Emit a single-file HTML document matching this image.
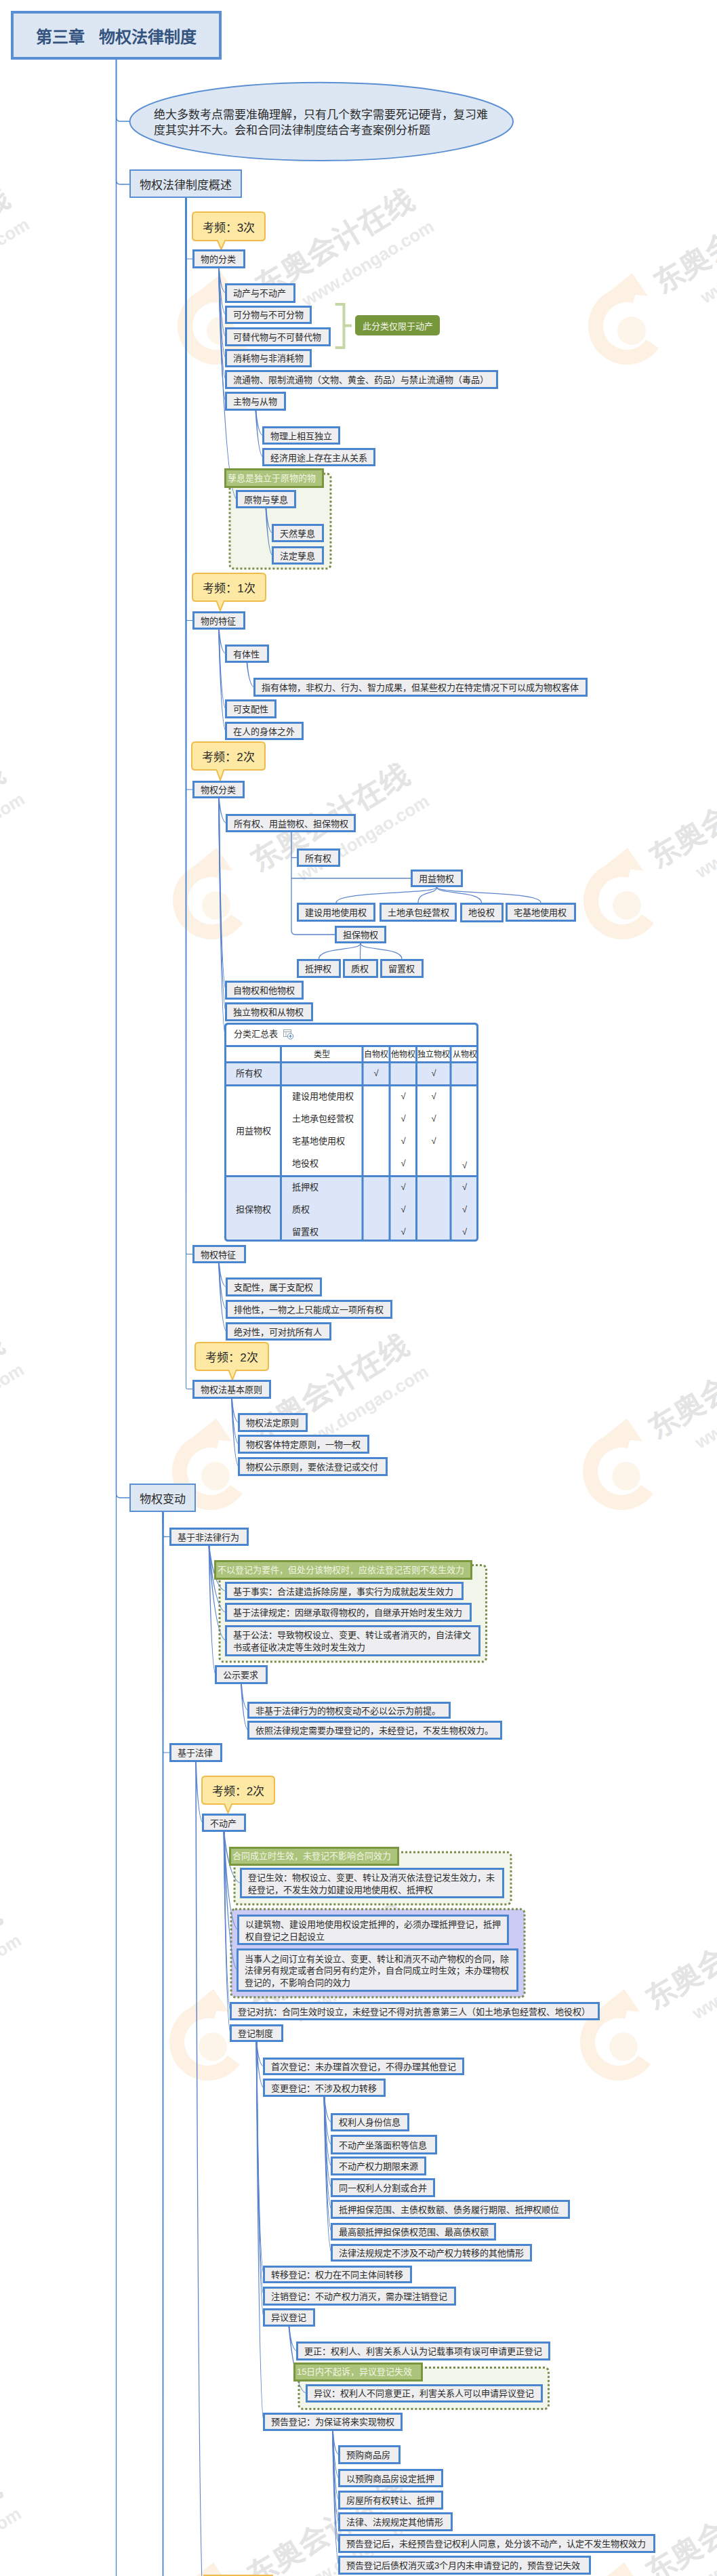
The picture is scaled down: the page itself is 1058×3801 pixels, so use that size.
<!DOCTYPE html>
<html lang="zh-CN"><head><meta charset="utf-8">
<style>
html,body{margin:0;padding:0;background:#fff;}
body{width:1058px;height:3801px;position:relative;overflow:hidden;font-family:"Liberation Sans",sans-serif;color:#2b2b2b;}
svg{position:absolute;left:0;top:0;}
.n,.l1,.title,.co,.gl,.sum{position:absolute;box-sizing:border-box;display:flex;align-items:center;white-space:nowrap;}
.n{border:3px solid #4a86d0;background:#eeeef0;font-size:13px;padding-left:9px;padding-top:2px;line-height:17.6px;}
.ml{align-items:center;}
.l1{border:2px solid #5b8fd3;background:#dde7f3;font-size:17px;padding-left:13px;}
.title{border:4px solid #5b8fd3;background:#dde7f3;font-size:24px;font-weight:bold;color:#34537e;justify-content:center;}
.co{font-size:17px;justify-content:center;}
.gl{border:3px solid #7a963e;background:#abc37a;color:#f2f6e6;font-size:13px;padding-left:2px;padding-bottom:3px;}
.sum{background:#77973d;color:#f3f7ea;font-size:13px;border-radius:5px;justify-content:center;}
.ell{position:absolute;font-size:17px;line-height:23px;white-space:nowrap;color:#2a2a2a;}
.tt{position:absolute;font-size:13px;line-height:17px;white-space:nowrap;}
.tc{position:absolute;font-size:13px;line-height:17px;text-align:center;white-space:nowrap;}
</style></head><body>
<svg width="1058" height="3801" viewBox="0 0 1058 3801" style="font-family:'Liberation Sans',sans-serif"><g transform="translate(-271,485)"><path d="M-33.8,-57.3 L1,-85 L24.0,-51.2 Z" fill="#fdf1e3"/><path d="M30.7,19.4 A46,46 0 1 1 4.9,-51.4" fill="none" stroke="#fdf1e3" stroke-width="22"/><circle cx="0" cy="0" r="21" fill="#fef5ea"/></g><g transform="translate(-209,440) rotate(-31)"><text x="2" y="-2" font-size="44" font-weight="bold" fill="#e4e4e4">东奥会计在线</text><text x="50" y="42" font-size="26" fill="#e9e9e9" font-family="Liberation Sans" font-weight="bold">www.dongao.com</text></g><g transform="translate(326,488)"><path d="M-33.8,-57.3 L1,-85 L24.0,-51.2 Z" fill="#fdf1e3"/><path d="M30.7,19.4 A46,46 0 1 1 4.9,-51.4" fill="none" stroke="#fdf1e3" stroke-width="22"/><circle cx="0" cy="0" r="21" fill="#fef5ea"/></g><g transform="translate(388,443) rotate(-31)"><text x="2" y="-2" font-size="44" font-weight="bold" fill="#e4e4e4">东奥会计在线</text><text x="50" y="42" font-size="26" fill="#e9e9e9" font-family="Liberation Sans" font-weight="bold">www.dongao.com</text></g><g transform="translate(932,488)"><path d="M-33.8,-57.3 L1,-85 L24.0,-51.2 Z" fill="#fdf1e3"/><path d="M30.7,19.4 A46,46 0 1 1 4.9,-51.4" fill="none" stroke="#fdf1e3" stroke-width="22"/><circle cx="0" cy="0" r="21" fill="#fef5ea"/></g><g transform="translate(976,438) rotate(-31)"><text x="2" y="-2" font-size="44" font-weight="bold" fill="#e4e4e4">东奥会计在线</text><text x="50" y="42" font-size="26" fill="#e9e9e9" font-family="Liberation Sans" font-weight="bold">www.dongao.com</text></g><g transform="translate(-278,1333)"><path d="M-33.8,-57.3 L1,-85 L24.0,-51.2 Z" fill="#fdf1e3"/><path d="M30.7,19.4 A46,46 0 1 1 4.9,-51.4" fill="none" stroke="#fdf1e3" stroke-width="22"/><circle cx="0" cy="0" r="21" fill="#fef5ea"/></g><g transform="translate(-216,1288) rotate(-31)"><text x="2" y="-2" font-size="44" font-weight="bold" fill="#e4e4e4">东奥会计在线</text><text x="50" y="42" font-size="26" fill="#e9e9e9" font-family="Liberation Sans" font-weight="bold">www.dongao.com</text></g><g transform="translate(319,1336)"><path d="M-33.8,-57.3 L1,-85 L24.0,-51.2 Z" fill="#fdf1e3"/><path d="M30.7,19.4 A46,46 0 1 1 4.9,-51.4" fill="none" stroke="#fdf1e3" stroke-width="22"/><circle cx="0" cy="0" r="21" fill="#fef5ea"/></g><g transform="translate(381,1291) rotate(-31)"><text x="2" y="-2" font-size="44" font-weight="bold" fill="#e4e4e4">东奥会计在线</text><text x="50" y="42" font-size="26" fill="#e9e9e9" font-family="Liberation Sans" font-weight="bold">www.dongao.com</text></g><g transform="translate(925,1336)"><path d="M-33.8,-57.3 L1,-85 L24.0,-51.2 Z" fill="#fdf1e3"/><path d="M30.7,19.4 A46,46 0 1 1 4.9,-51.4" fill="none" stroke="#fdf1e3" stroke-width="22"/><circle cx="0" cy="0" r="21" fill="#fef5ea"/></g><g transform="translate(969,1286) rotate(-31)"><text x="2" y="-2" font-size="44" font-weight="bold" fill="#e4e4e4">东奥会计在线</text><text x="50" y="42" font-size="26" fill="#e9e9e9" font-family="Liberation Sans" font-weight="bold">www.dongao.com</text></g><g transform="translate(-279,2175)"><path d="M-33.8,-57.3 L1,-85 L24.0,-51.2 Z" fill="#fdf1e3"/><path d="M30.7,19.4 A46,46 0 1 1 4.9,-51.4" fill="none" stroke="#fdf1e3" stroke-width="22"/><circle cx="0" cy="0" r="21" fill="#fef5ea"/></g><g transform="translate(-217,2130) rotate(-31)"><text x="2" y="-2" font-size="44" font-weight="bold" fill="#e4e4e4">东奥会计在线</text><text x="50" y="42" font-size="26" fill="#e9e9e9" font-family="Liberation Sans" font-weight="bold">www.dongao.com</text></g><g transform="translate(318,2178)"><path d="M-33.8,-57.3 L1,-85 L24.0,-51.2 Z" fill="#fdf1e3"/><path d="M30.7,19.4 A46,46 0 1 1 4.9,-51.4" fill="none" stroke="#fdf1e3" stroke-width="22"/><circle cx="0" cy="0" r="21" fill="#fef5ea"/></g><g transform="translate(380,2133) rotate(-31)"><text x="2" y="-2" font-size="44" font-weight="bold" fill="#e4e4e4">东奥会计在线</text><text x="50" y="42" font-size="26" fill="#e9e9e9" font-family="Liberation Sans" font-weight="bold">www.dongao.com</text></g><g transform="translate(924,2178)"><path d="M-33.8,-57.3 L1,-85 L24.0,-51.2 Z" fill="#fdf1e3"/><path d="M30.7,19.4 A46,46 0 1 1 4.9,-51.4" fill="none" stroke="#fdf1e3" stroke-width="22"/><circle cx="0" cy="0" r="21" fill="#fef5ea"/></g><g transform="translate(968,2128) rotate(-31)"><text x="2" y="-2" font-size="44" font-weight="bold" fill="#e4e4e4">东奥会计在线</text><text x="50" y="42" font-size="26" fill="#e9e9e9" font-family="Liberation Sans" font-weight="bold">www.dongao.com</text></g><g transform="translate(-283,3017)"><path d="M-33.8,-57.3 L1,-85 L24.0,-51.2 Z" fill="#fdf1e3"/><path d="M30.7,19.4 A46,46 0 1 1 4.9,-51.4" fill="none" stroke="#fdf1e3" stroke-width="22"/><circle cx="0" cy="0" r="21" fill="#fef5ea"/></g><g transform="translate(-221,2972) rotate(-31)"><text x="2" y="-2" font-size="44" font-weight="bold" fill="#e4e4e4">东奥会计在线</text><text x="50" y="42" font-size="26" fill="#e9e9e9" font-family="Liberation Sans" font-weight="bold">www.dongao.com</text></g><g transform="translate(314,3020)"><path d="M-33.8,-57.3 L1,-85 L24.0,-51.2 Z" fill="#fdf1e3"/><path d="M30.7,19.4 A46,46 0 1 1 4.9,-51.4" fill="none" stroke="#fdf1e3" stroke-width="22"/><circle cx="0" cy="0" r="21" fill="#fef5ea"/></g><g transform="translate(376,2975) rotate(-31)"><text x="2" y="-2" font-size="44" font-weight="bold" fill="#e4e4e4">东奥会计在线</text><text x="50" y="42" font-size="26" fill="#e9e9e9" font-family="Liberation Sans" font-weight="bold">www.dongao.com</text></g><g transform="translate(920,3020)"><path d="M-33.8,-57.3 L1,-85 L24.0,-51.2 Z" fill="#fdf1e3"/><path d="M30.7,19.4 A46,46 0 1 1 4.9,-51.4" fill="none" stroke="#fdf1e3" stroke-width="22"/><circle cx="0" cy="0" r="21" fill="#fef5ea"/></g><g transform="translate(964,2970) rotate(-31)"><text x="2" y="-2" font-size="44" font-weight="bold" fill="#e4e4e4">东奥会计在线</text><text x="50" y="42" font-size="26" fill="#e9e9e9" font-family="Liberation Sans" font-weight="bold">www.dongao.com</text></g><g transform="translate(-283,3863)"><path d="M-33.8,-57.3 L1,-85 L24.0,-51.2 Z" fill="#fdf1e3"/><path d="M30.7,19.4 A46,46 0 1 1 4.9,-51.4" fill="none" stroke="#fdf1e3" stroke-width="22"/><circle cx="0" cy="0" r="21" fill="#fef5ea"/></g><g transform="translate(-221,3818) rotate(-31)"><text x="2" y="-2" font-size="44" font-weight="bold" fill="#e4e4e4">东奥会计在线</text><text x="50" y="42" font-size="26" fill="#e9e9e9" font-family="Liberation Sans" font-weight="bold">www.dongao.com</text></g><g transform="translate(314,3866)"><path d="M-33.8,-57.3 L1,-85 L24.0,-51.2 Z" fill="#fdf1e3"/><path d="M30.7,19.4 A46,46 0 1 1 4.9,-51.4" fill="none" stroke="#fdf1e3" stroke-width="22"/><circle cx="0" cy="0" r="21" fill="#fef5ea"/></g><g transform="translate(376,3821) rotate(-31)"><text x="2" y="-2" font-size="44" font-weight="bold" fill="#e4e4e4">东奥会计在线</text><text x="50" y="42" font-size="26" fill="#e9e9e9" font-family="Liberation Sans" font-weight="bold">www.dongao.com</text></g><g transform="translate(920,3866)"><path d="M-33.8,-57.3 L1,-85 L24.0,-51.2 Z" fill="#fdf1e3"/><path d="M30.7,19.4 A46,46 0 1 1 4.9,-51.4" fill="none" stroke="#fdf1e3" stroke-width="22"/><circle cx="0" cy="0" r="21" fill="#fef5ea"/></g><g transform="translate(964,3816) rotate(-31)"><text x="2" y="-2" font-size="44" font-weight="bold" fill="#e4e4e4">东奥会计在线</text><text x="50" y="42" font-size="26" fill="#e9e9e9" font-family="Liberation Sans" font-weight="bold">www.dongao.com</text></g></svg>
<svg width="1058" height="3801" viewBox="0 0 1058 3801"><ellipse cx="474.3" cy="179.4" rx="282.7" ry="57.6" fill="#dde7f3" stroke="#5b8fd3" stroke-width="2"/><rect x="339" y="699" width="149" height="140" rx="6" ry="6" fill="#f1f5ea" stroke="#7a8c4a" stroke-width="3" stroke-dasharray="3 3"/><rect x="324" y="2309.5" width="393.5" height="142.5" rx="6" ry="6" fill="#f1f5ea" stroke="#7a8c4a" stroke-width="3" stroke-dasharray="3 3"/><rect x="346" y="2733" width="408" height="77" rx="6" ry="6" fill="#f1f5ea" stroke="#7a8c4a" stroke-width="3" stroke-dasharray="3 3"/><rect x="341" y="2817" width="433" height="130" rx="6" ry="6" fill="#cbcbf6" stroke="#7a8c4a" stroke-width="3" stroke-dasharray="3 3"/><rect x="441" y="3493.5" width="368.5" height="61.0" rx="6" ry="6" fill="#f1f5ea" stroke="#7a8c4a" stroke-width="3" stroke-dasharray="3 3"/><path d="M171.5,88 V3801" fill="none" stroke="#4a86d0" stroke-width="1.3"/><path d="M171.5,88 V173 Q171.5,179 177.5,179 H192" fill="none" stroke="#4a86d0" stroke-width="1.3"/><path d="M171.5,88 V266 Q171.5,272 177.5,272 H192" fill="none" stroke="#4a86d0" stroke-width="1.3"/><path d="M171.5,88 V2204 Q171.5,2210 177.5,2210 H192" fill="none" stroke="#4a86d0" stroke-width="1.3"/><path d="M273.30,292.00 L273.33,296.40 L273.36,300.80 L273.39,305.20 L273.42,309.60 L273.45,314.00 L273.49,318.40 L273.52,322.80 L273.55,327.20 L273.58,331.60 L273.61,336.00 L273.64,340.40 L273.67,344.80 L273.70,349.20 L273.73,353.60 L273.76,358.00 L273.79,362.40 L273.83,366.80 L273.86,371.20 L273.89,375.60 L273.92,380.01 L274.01,380.68 L274.28,381.30 L274.68,381.82 L275.21,382.22 L275.82,382.47 L276.50,382.56 L285.00,382.50 L285.00,381.50 L276.50,381.44 L276.12,381.38 L275.78,381.24 L275.49,381.01 L275.27,380.72 L275.13,380.38 L275.08,379.99 L275.11,375.60 L275.14,371.20 L275.17,366.80 L275.21,362.40 L275.24,358.00 L275.27,353.60 L275.30,349.20 L275.33,344.80 L275.36,340.40 L275.39,336.00 L275.42,331.60 L275.45,327.20 L275.48,322.80 L275.51,318.40 L275.55,314.00 L275.58,309.60 L275.61,305.20 L275.64,300.80 L275.67,296.40 L275.70,292.00Z" fill="#4a86d0"/><path d="M322.05,396.07 L322.06,396.10 L322.06,396.18 L322.08,396.32 L322.09,396.51 L322.12,396.76 L322.15,397.04 L322.18,397.38 L322.22,397.76 L322.26,398.18 L322.31,398.64 L322.37,399.15 L322.43,399.68 L322.50,400.26 L322.57,400.86 L322.65,401.50 L322.73,402.17 L322.82,402.86 L322.92,403.59 L323.02,404.33 L323.12,405.10 L323.24,405.88 L323.35,406.69 L323.48,407.51 L323.61,408.35 L323.75,409.19 L323.89,410.05 L324.04,410.92 L324.19,411.80 L324.35,412.68 L324.52,413.56 L324.70,414.45 L324.88,415.33 L325.06,416.22 L325.26,417.10 L325.46,417.97 L325.66,418.84 L325.87,419.70 L326.09,420.54 L326.32,421.37 L326.55,422.19 L326.79,422.99 L327.04,423.77 L327.30,424.53 L327.56,425.27 L327.83,425.99 L328.10,426.68 L328.38,427.34 L328.68,427.97 L328.97,428.57 L329.28,429.14 L329.60,429.67 L329.92,430.17 L330.26,430.63 L330.60,431.05 L330.96,431.42 L331.32,431.76 L331.70,432.04 L332.09,432.28 L332.50,432.46 L332.89,432.58 L333.11,431.92 L332.76,431.80 L332.44,431.64 L332.12,431.44 L331.81,431.19 L331.50,430.89 L331.19,430.54 L330.89,430.15 L330.60,429.72 L330.31,429.24 L330.03,428.73 L329.75,428.18 L329.48,427.60 L329.22,426.98 L328.97,426.33 L328.72,425.66 L328.48,424.95 L328.25,424.22 L328.02,423.47 L327.81,422.70 L327.59,421.90 L327.39,421.09 L327.19,420.27 L327.00,419.43 L326.82,418.58 L326.64,417.71 L326.47,416.85 L326.31,415.97 L326.15,415.09 L326.00,414.21 L325.85,413.33 L325.72,412.45 L325.58,411.57 L325.46,410.70 L325.34,409.83 L325.22,408.98 L325.11,408.13 L325.01,407.30 L324.91,406.48 L324.82,405.68 L324.73,404.89 L324.65,404.13 L324.57,403.39 L324.50,402.67 L324.43,401.98 L324.37,401.32 L324.31,400.68 L324.26,400.08 L324.21,399.51 L324.17,398.97 L324.13,398.47 L324.09,398.01 L324.06,397.60 L324.03,397.22 L324.01,396.89 L323.99,396.60 L323.97,396.36 L323.96,396.18 L323.95,396.04 L323.95,395.96 L323.95,395.93Z" fill="#5a84cc"/><path d="M322.05,396.04 L322.05,396.09 L322.06,396.25 L322.07,396.51 L322.09,396.87 L322.12,397.32 L322.14,397.86 L322.18,398.49 L322.22,399.20 L322.26,399.99 L322.31,400.86 L322.37,401.81 L322.43,402.82 L322.50,403.89 L322.57,405.03 L322.65,406.23 L322.73,407.49 L322.82,408.79 L322.92,410.15 L323.02,411.55 L323.12,412.99 L323.24,414.47 L323.36,415.98 L323.48,417.53 L323.61,419.10 L323.75,420.69 L323.89,422.31 L324.04,423.94 L324.19,425.59 L324.36,427.25 L324.52,428.91 L324.70,430.57 L324.88,432.24 L325.06,433.90 L325.26,435.55 L325.46,437.19 L325.66,438.82 L325.88,440.43 L326.10,442.02 L326.32,443.58 L326.55,445.12 L326.79,446.62 L327.04,448.08 L327.29,449.51 L327.55,450.90 L327.82,452.24 L328.09,453.53 L328.37,454.76 L328.66,455.94 L328.96,457.07 L329.26,458.12 L329.57,459.12 L329.89,460.04 L330.22,460.89 L330.55,461.67 L330.90,462.36 L331.25,462.98 L331.62,463.51 L332.01,463.96 L332.42,464.31 L332.82,464.55 L333.18,463.95 L332.84,463.74 L332.52,463.46 L332.20,463.07 L331.88,462.59 L331.56,462.02 L331.24,461.35 L330.94,460.60 L330.63,459.78 L330.34,458.87 L330.05,457.89 L329.77,456.85 L329.50,455.74 L329.23,454.57 L328.98,453.34 L328.73,452.06 L328.49,450.72 L328.25,449.34 L328.03,447.92 L327.81,446.46 L327.59,444.96 L327.39,443.43 L327.19,441.87 L327.00,440.29 L326.82,438.68 L326.64,437.06 L326.47,435.42 L326.30,433.77 L326.15,432.11 L326.00,430.45 L325.85,428.78 L325.71,427.12 L325.58,425.47 L325.45,423.82 L325.33,422.19 L325.22,420.58 L325.11,418.98 L325.01,417.41 L324.91,415.87 L324.82,414.36 L324.73,412.88 L324.65,411.44 L324.57,410.05 L324.50,408.69 L324.43,407.39 L324.37,406.13 L324.31,404.94 L324.26,403.80 L324.21,402.72 L324.17,401.71 L324.13,400.77 L324.09,399.91 L324.06,399.12 L324.03,398.40 L324.01,397.78 L323.99,397.24 L323.98,396.79 L323.96,396.43 L323.96,396.17 L323.95,396.02 L323.95,395.96Z" fill="#5a84cc"/><path d="M322.05,396.03 L322.05,396.10 L322.06,396.34 L322.07,396.72 L322.09,397.25 L322.12,397.91 L322.14,398.71 L322.18,399.64 L322.22,400.69 L322.26,401.86 L322.31,403.14 L322.37,404.53 L322.43,406.03 L322.50,407.62 L322.57,409.30 L322.65,411.07 L322.73,412.92 L322.82,414.85 L322.92,416.85 L323.02,418.91 L323.12,421.04 L323.24,423.22 L323.36,425.45 L323.48,427.73 L323.61,430.05 L323.75,432.41 L323.89,434.79 L324.04,437.20 L324.20,439.63 L324.36,442.07 L324.52,444.53 L324.70,446.99 L324.88,449.44 L325.07,451.89 L325.26,454.33 L325.46,456.76 L325.66,459.16 L325.88,461.53 L326.10,463.87 L326.32,466.18 L326.55,468.44 L326.79,470.66 L327.04,472.82 L327.29,474.93 L327.55,476.97 L327.82,478.94 L328.09,480.84 L328.37,482.67 L328.66,484.41 L328.95,486.06 L329.25,487.62 L329.56,489.08 L329.88,490.43 L330.20,491.68 L330.54,492.82 L330.88,493.83 L331.23,494.73 L331.59,495.50 L331.97,496.15 L332.37,496.66 L332.77,497.01 L333.23,496.49 L332.89,496.18 L332.56,495.75 L332.23,495.17 L331.90,494.45 L331.58,493.59 L331.26,492.59 L330.95,491.48 L330.64,490.25 L330.34,488.91 L330.06,487.46 L329.78,485.91 L329.50,484.27 L329.24,482.53 L328.98,480.72 L328.73,478.82 L328.49,476.85 L328.25,474.81 L328.03,472.71 L327.81,470.55 L327.59,468.34 L327.39,466.08 L327.19,463.78 L327.00,461.44 L326.82,459.06 L326.64,456.66 L326.47,454.24 L326.30,451.80 L326.15,449.36 L325.99,446.90 L325.85,444.44 L325.71,441.99 L325.58,439.55 L325.45,437.12 L325.33,434.71 L325.22,432.33 L325.11,429.97 L325.00,427.66 L324.91,425.38 L324.81,423.15 L324.73,420.96 L324.65,418.84 L324.57,416.77 L324.50,414.78 L324.43,412.85 L324.37,411.00 L324.31,409.23 L324.26,407.55 L324.21,405.96 L324.17,404.47 L324.13,403.08 L324.09,401.80 L324.06,400.63 L324.03,399.58 L324.01,398.66 L323.99,397.86 L323.98,397.19 L323.96,396.67 L323.96,396.29 L323.95,396.05 L323.95,395.97Z" fill="#5a84cc"/><path d="M322.05,396.02 L322.05,396.12 L322.06,396.43 L322.07,396.93 L322.09,397.62 L322.11,398.50 L322.14,399.55 L322.18,400.76 L322.22,402.14 L322.26,403.68 L322.31,405.36 L322.37,407.18 L322.43,409.14 L322.50,411.23 L322.57,413.44 L322.65,415.76 L322.73,418.19 L322.82,420.72 L322.92,423.34 L323.02,426.05 L323.12,428.85 L323.24,431.71 L323.36,434.64 L323.48,437.63 L323.61,440.68 L323.75,443.77 L323.89,446.90 L324.04,450.06 L324.20,453.25 L324.36,456.46 L324.53,459.68 L324.70,462.90 L324.88,466.13 L325.07,469.34 L325.26,472.55 L325.46,475.73 L325.66,478.88 L325.88,481.99 L326.10,485.07 L326.32,488.09 L326.55,491.06 L326.79,493.97 L327.04,496.81 L327.29,499.57 L327.55,502.25 L327.82,504.84 L328.09,507.34 L328.37,509.73 L328.66,512.01 L328.95,514.18 L329.25,516.22 L329.56,518.13 L329.88,519.91 L330.20,521.54 L330.53,523.03 L330.87,524.36 L331.22,525.52 L331.58,526.53 L331.95,527.36 L332.34,528.02 L332.74,528.48 L333.26,528.02 L332.92,527.62 L332.58,527.04 L332.25,526.26 L331.91,525.30 L331.58,524.16 L331.26,522.85 L330.95,521.39 L330.64,519.77 L330.35,518.00 L330.06,516.10 L329.78,514.06 L329.50,511.90 L329.24,509.63 L328.98,507.24 L328.73,504.75 L328.49,502.16 L328.25,499.49 L328.03,496.73 L327.81,493.89 L327.59,490.98 L327.39,488.02 L327.19,484.99 L327.00,481.92 L326.82,478.81 L326.64,475.66 L326.47,472.48 L326.30,469.28 L326.15,466.06 L325.99,462.84 L325.85,459.61 L325.71,456.39 L325.58,453.19 L325.45,450.00 L325.33,446.84 L325.22,443.71 L325.11,440.62 L325.00,437.57 L324.91,434.58 L324.81,431.65 L324.73,428.79 L324.65,426.00 L324.57,423.29 L324.50,420.67 L324.43,418.14 L324.37,415.71 L324.31,413.39 L324.26,411.18 L324.21,409.09 L324.17,407.14 L324.13,405.31 L324.09,403.63 L324.06,402.10 L324.03,400.72 L324.01,399.50 L323.99,398.45 L323.98,397.58 L323.96,396.89 L323.96,396.39 L323.95,396.08 L323.95,395.98Z" fill="#5a84cc"/><path d="M322.05,396.02 L322.05,396.14 L322.06,396.52 L322.07,397.15 L322.09,398.00 L322.11,399.09 L322.14,400.39 L322.18,401.90 L322.22,403.61 L322.26,405.51 L322.31,407.60 L322.37,409.86 L322.43,412.29 L322.50,414.88 L322.57,417.61 L322.65,420.49 L322.73,423.50 L322.82,426.64 L322.92,429.90 L323.02,433.26 L323.12,436.72 L323.24,440.27 L323.36,443.91 L323.48,447.61 L323.61,451.39 L323.75,455.22 L323.89,459.10 L324.04,463.03 L324.20,466.98 L324.36,470.96 L324.53,474.95 L324.70,478.95 L324.88,482.95 L325.07,486.94 L325.26,490.91 L325.46,494.85 L325.67,498.76 L325.88,502.62 L326.10,506.43 L326.32,510.19 L326.55,513.87 L326.79,517.47 L327.04,520.99 L327.29,524.42 L327.55,527.74 L327.82,530.95 L328.09,534.05 L328.37,537.01 L328.66,539.84 L328.95,542.52 L329.25,545.05 L329.56,547.42 L329.88,549.62 L330.20,551.65 L330.53,553.48 L330.87,555.13 L331.21,556.57 L331.57,557.81 L331.94,558.83 L332.32,559.64 L332.71,560.20 L333.29,559.80 L332.94,559.30 L332.60,558.57 L332.25,557.59 L331.92,556.39 L331.59,554.97 L331.27,553.35 L330.95,551.52 L330.65,549.51 L330.35,547.32 L330.06,544.96 L329.78,542.43 L329.50,539.75 L329.24,536.93 L328.98,533.97 L328.73,530.88 L328.49,527.67 L328.25,524.35 L328.03,520.93 L327.81,517.41 L327.59,513.81 L327.39,510.12 L327.19,506.37 L327.00,502.56 L326.81,498.70 L326.64,494.79 L326.47,490.85 L326.30,486.88 L326.15,482.90 L325.99,478.90 L325.85,474.90 L325.71,470.91 L325.58,466.93 L325.45,462.98 L325.33,459.06 L325.22,455.17 L325.11,451.34 L325.00,447.57 L324.91,443.86 L324.81,440.23 L324.73,436.67 L324.65,433.21 L324.57,429.85 L324.50,426.60 L324.43,423.46 L324.37,420.45 L324.31,417.57 L324.26,414.84 L324.21,412.25 L324.17,409.82 L324.13,407.56 L324.09,405.47 L324.06,403.57 L324.03,401.86 L324.01,400.35 L323.99,399.05 L323.98,397.97 L323.96,397.11 L323.96,396.49 L323.95,396.11 L323.95,395.98Z" fill="#5a84cc"/><path d="M322.05,396.01 L322.05,396.17 L322.06,396.62 L322.07,397.36 L322.09,398.39 L322.11,399.68 L322.14,401.24 L322.18,403.04 L322.22,405.09 L322.26,407.36 L322.31,409.85 L322.37,412.56 L322.43,415.46 L322.50,418.55 L322.57,421.82 L322.65,425.26 L322.73,428.86 L322.82,432.61 L322.92,436.50 L323.02,440.52 L323.12,444.66 L323.24,448.90 L323.36,453.24 L323.48,457.68 L323.61,462.19 L323.75,466.77 L323.89,471.41 L324.04,476.10 L324.20,480.82 L324.36,485.57 L324.53,490.35 L324.70,495.13 L324.88,499.91 L325.07,504.67 L325.26,509.42 L325.46,514.13 L325.67,518.80 L325.88,523.42 L326.10,527.97 L326.32,532.46 L326.55,536.86 L326.79,541.16 L327.04,545.37 L327.29,549.46 L327.55,553.43 L327.82,557.27 L328.09,560.97 L328.37,564.51 L328.66,567.89 L328.95,571.10 L329.25,574.12 L329.56,576.95 L329.87,579.58 L330.20,582.00 L330.53,584.19 L330.86,586.15 L331.21,587.87 L331.57,589.34 L331.93,590.56 L332.31,591.51 L332.70,592.18 L333.30,591.82 L332.95,591.21 L332.60,590.33 L332.26,589.16 L331.92,587.72 L331.59,586.02 L331.27,584.07 L330.95,581.89 L330.65,579.48 L330.35,576.86 L330.06,574.04 L329.78,571.02 L329.50,567.82 L329.24,564.44 L328.98,560.90 L328.73,557.21 L328.49,553.37 L328.25,549.41 L328.03,545.31 L327.81,541.11 L327.59,536.80 L327.39,532.40 L327.19,527.92 L327.00,523.37 L326.81,518.75 L326.64,514.08 L326.47,509.37 L326.30,504.63 L326.14,499.86 L325.99,495.08 L325.85,490.30 L325.71,485.53 L325.58,480.78 L325.45,476.05 L325.33,471.37 L325.22,466.73 L325.11,462.15 L325.00,457.64 L324.91,453.21 L324.81,448.86 L324.73,444.62 L324.65,440.48 L324.57,436.47 L324.50,432.58 L324.43,428.83 L324.37,425.23 L324.31,421.79 L324.26,418.52 L324.21,415.43 L324.17,412.52 L324.13,409.82 L324.09,407.33 L324.06,405.06 L324.03,403.01 L324.01,401.21 L323.99,399.66 L323.98,398.36 L323.96,397.34 L323.96,396.59 L323.95,396.14 L323.95,395.99Z" fill="#5a84cc"/><path d="M322.05,396.02 L322.06,396.29 L322.07,397.08 L322.10,398.37 L322.15,400.15 L322.20,402.40 L322.27,405.10 L322.35,408.23 L322.44,411.78 L322.55,415.73 L322.66,420.06 L322.80,424.76 L322.94,429.80 L323.10,435.17 L323.27,440.86 L323.46,446.83 L323.66,453.09 L323.88,459.60 L324.10,466.36 L324.35,473.34 L324.61,480.52 L324.88,487.90 L325.17,495.44 L325.47,503.14 L325.79,510.98 L326.12,518.94 L326.47,527.00 L326.84,535.14 L327.22,543.35 L327.61,551.61 L328.03,559.90 L328.45,568.20 L328.90,576.50 L329.36,584.78 L329.84,593.03 L330.34,601.21 L330.85,609.33 L331.38,617.35 L331.93,625.26 L332.49,633.05 L333.07,640.70 L333.67,648.18 L334.29,655.49 L334.93,662.60 L335.58,669.49 L336.25,676.16 L336.95,682.58 L337.66,688.73 L338.39,694.60 L339.13,700.17 L339.90,705.43 L340.69,710.34 L341.49,714.91 L342.32,719.11 L343.17,722.92 L344.04,726.32 L344.92,729.31 L345.84,731.86 L346.78,733.96 L347.75,735.60 L348.74,736.73 L349.26,736.27 L348.32,735.19 L347.41,733.64 L346.51,731.59 L345.62,729.08 L344.75,726.13 L343.90,722.74 L343.07,718.95 L342.26,714.77 L341.47,710.21 L340.71,705.31 L339.96,700.06 L339.23,694.50 L338.52,688.63 L337.84,682.48 L337.17,676.07 L336.52,669.40 L335.89,662.51 L335.28,655.40 L334.69,648.10 L334.11,640.62 L333.56,632.97 L333.02,625.19 L332.50,617.27 L332.00,609.25 L331.51,601.14 L331.05,592.96 L330.60,584.72 L330.17,576.44 L329.75,568.14 L329.35,559.83 L328.97,551.54 L328.60,543.29 L328.25,535.08 L327.91,526.94 L327.59,518.88 L327.28,510.92 L326.99,503.09 L326.72,495.39 L326.46,487.84 L326.21,480.47 L325.98,473.28 L325.76,466.30 L325.55,459.55 L325.36,453.04 L325.18,446.78 L325.02,440.81 L324.86,435.12 L324.72,429.75 L324.59,424.71 L324.48,420.02 L324.38,415.69 L324.28,411.74 L324.20,408.19 L324.14,405.05 L324.08,402.35 L324.03,400.11 L324.00,398.33 L323.97,397.03 L323.95,396.25 L323.95,395.98Z" fill="#5a84cc"/><path d="M376.55,606.07 L376.56,606.10 L376.56,606.19 L376.58,606.33 L376.60,606.52 L376.62,606.76 L376.65,607.05 L376.69,607.39 L376.73,607.77 L376.77,608.20 L376.82,608.67 L376.88,609.17 L376.95,609.71 L377.02,610.29 L377.09,610.90 L377.17,611.54 L377.26,612.22 L377.35,612.92 L377.45,613.64 L377.56,614.39 L377.67,615.16 L377.79,615.95 L377.91,616.77 L378.04,617.59 L378.18,618.43 L378.32,619.29 L378.47,620.15 L378.62,621.03 L378.79,621.91 L378.96,622.80 L379.13,623.69 L379.31,624.58 L379.50,625.47 L379.70,626.36 L379.90,627.25 L380.11,628.13 L380.32,629.00 L380.55,629.86 L380.78,630.71 L381.01,631.55 L381.26,632.38 L381.51,633.18 L381.77,633.97 L382.03,634.74 L382.31,635.48 L382.59,636.20 L382.88,636.89 L383.18,637.56 L383.48,638.20 L383.79,638.80 L384.12,639.37 L384.45,639.91 L384.79,640.41 L385.14,640.87 L385.50,641.29 L385.87,641.67 L386.26,642.01 L386.65,642.30 L387.06,642.53 L387.49,642.72 L387.90,642.83 L388.10,642.17 L387.74,642.05 L387.40,641.89 L387.06,641.68 L386.73,641.43 L386.41,641.12 L386.08,640.77 L385.77,640.38 L385.46,639.95 L385.16,639.47 L384.86,638.95 L384.57,638.40 L384.29,637.81 L384.01,637.19 L383.74,636.54 L383.48,635.85 L383.23,635.15 L382.99,634.41 L382.75,633.65 L382.52,632.87 L382.30,632.08 L382.08,631.26 L381.87,630.43 L381.67,629.58 L381.48,628.73 L381.29,627.86 L381.11,626.98 L380.94,626.10 L380.78,625.22 L380.62,624.33 L380.46,623.44 L380.32,622.56 L380.18,621.67 L380.04,620.79 L379.92,619.92 L379.79,619.06 L379.68,618.21 L379.57,617.37 L379.47,616.55 L379.37,615.74 L379.28,614.95 L379.19,614.18 L379.11,613.44 L379.03,612.71 L378.96,612.02 L378.89,611.35 L378.83,610.71 L378.78,610.10 L378.73,609.53 L378.68,608.99 L378.64,608.49 L378.60,608.03 L378.57,607.60 L378.54,607.22 L378.51,606.89 L378.49,606.60 L378.48,606.36 L378.46,606.17 L378.45,606.04 L378.45,605.95 L378.45,605.93Z" fill="#5a84cc"/><path d="M376.55,606.04 L376.55,606.09 L376.56,606.25 L376.57,606.51 L376.59,606.87 L376.62,607.33 L376.65,607.87 L376.68,608.50 L376.72,609.22 L376.77,610.01 L376.82,610.88 L376.88,611.83 L376.95,612.84 L377.02,613.93 L377.09,615.07 L377.17,616.27 L377.26,617.53 L377.35,618.84 L377.45,620.20 L377.56,621.61 L377.67,623.05 L377.79,624.54 L377.91,626.06 L378.04,627.61 L378.18,629.19 L378.32,630.79 L378.47,632.41 L378.63,634.05 L378.79,635.70 L378.96,637.36 L379.13,639.03 L379.31,640.70 L379.50,642.37 L379.70,644.04 L379.90,645.70 L380.11,647.35 L380.33,648.98 L380.55,650.60 L380.78,652.19 L381.01,653.76 L381.26,655.30 L381.51,656.81 L381.77,658.28 L382.03,659.71 L382.30,661.10 L382.58,662.45 L382.87,663.74 L383.16,664.98 L383.47,666.17 L383.78,667.29 L384.09,668.36 L384.42,669.35 L384.75,670.28 L385.10,671.13 L385.45,671.91 L385.81,672.61 L386.19,673.23 L386.57,673.77 L386.98,674.21 L387.41,674.57 L387.83,674.80 L388.17,674.20 L387.81,673.99 L387.48,673.70 L387.14,673.31 L386.80,672.83 L386.47,672.25 L386.14,671.59 L385.81,670.84 L385.49,670.00 L385.18,669.10 L384.88,668.12 L384.59,667.07 L384.30,665.95 L384.02,664.78 L383.75,663.55 L383.49,662.26 L383.24,660.92 L382.99,659.54 L382.75,658.11 L382.52,656.64 L382.30,655.14 L382.08,653.60 L381.87,652.04 L381.67,650.45 L381.48,648.84 L381.29,647.21 L381.11,645.56 L380.94,643.90 L380.77,642.24 L380.61,640.57 L380.46,638.90 L380.31,637.23 L380.17,635.57 L380.04,633.92 L379.91,632.29 L379.79,630.67 L379.68,629.07 L379.57,627.49 L379.46,625.94 L379.37,624.42 L379.27,622.94 L379.19,621.50 L379.11,620.09 L379.03,618.74 L378.96,617.43 L378.89,616.17 L378.83,614.97 L378.78,613.83 L378.73,612.75 L378.68,611.73 L378.64,610.79 L378.60,609.92 L378.57,609.12 L378.54,608.41 L378.51,607.78 L378.49,607.24 L378.48,606.79 L378.47,606.43 L378.46,606.17 L378.45,606.01 L378.45,605.96Z" fill="#5a84cc"/><path d="M391.55,750.07 L391.55,750.10 L391.56,750.18 L391.57,750.32 L391.59,750.51 L391.61,750.76 L391.64,751.05 L391.67,751.38 L391.71,751.77 L391.75,752.19 L391.80,752.66 L391.86,753.16 L391.91,753.70 L391.98,754.28 L392.05,754.89 L392.12,755.53 L392.20,756.21 L392.29,756.91 L392.38,757.63 L392.47,758.38 L392.58,759.15 L392.68,759.94 L392.80,760.75 L392.92,761.58 L393.04,762.42 L393.17,763.28 L393.31,764.14 L393.45,765.02 L393.60,765.90 L393.75,766.79 L393.91,767.68 L394.08,768.57 L394.25,769.46 L394.43,770.35 L394.61,771.24 L394.80,772.12 L395.00,772.99 L395.20,773.85 L395.41,774.70 L395.63,775.54 L395.85,776.36 L396.08,777.17 L396.31,777.95 L396.56,778.72 L396.80,779.46 L397.06,780.18 L397.32,780.88 L397.59,781.54 L397.87,782.18 L398.15,782.78 L398.45,783.36 L398.75,783.89 L399.05,784.39 L399.37,784.86 L399.70,785.28 L400.04,785.66 L400.39,785.99 L400.75,786.28 L401.12,786.52 L401.51,786.71 L401.89,786.83 L402.11,786.17 L401.78,786.05 L401.48,785.90 L401.19,785.69 L400.89,785.44 L400.60,785.14 L400.31,784.79 L400.02,784.40 L399.74,783.96 L399.47,783.49 L399.20,782.97 L398.94,782.42 L398.68,781.83 L398.43,781.20 L398.19,780.55 L397.96,779.87 L397.73,779.16 L397.51,778.43 L397.30,777.67 L397.09,776.89 L396.89,776.09 L396.70,775.27 L396.51,774.44 L396.33,773.60 L396.16,772.74 L395.99,771.87 L395.83,771.00 L395.67,770.12 L395.52,769.23 L395.38,768.34 L395.24,767.45 L395.11,766.57 L394.99,765.68 L394.87,764.81 L394.75,763.93 L394.65,763.07 L394.54,762.22 L394.45,761.38 L394.35,760.56 L394.27,759.75 L394.18,758.96 L394.11,758.19 L394.03,757.45 L393.96,756.72 L393.90,756.03 L393.84,755.36 L393.79,754.72 L393.74,754.11 L393.69,753.54 L393.65,753.00 L393.62,752.50 L393.58,752.03 L393.55,751.61 L393.53,751.23 L393.51,750.90 L393.49,750.61 L393.47,750.37 L393.46,750.18 L393.45,750.04 L393.45,749.96 L393.45,749.93Z" fill="#5a84cc"/><path d="M391.55,750.03 L391.55,750.09 L391.56,750.25 L391.57,750.52 L391.59,750.88 L391.61,751.34 L391.64,751.89 L391.67,752.53 L391.71,753.26 L391.75,754.06 L391.80,754.95 L391.85,755.91 L391.91,756.94 L391.98,758.04 L392.05,759.20 L392.12,760.42 L392.20,761.69 L392.29,763.02 L392.38,764.40 L392.48,765.83 L392.58,767.30 L392.69,768.80 L392.80,770.34 L392.92,771.92 L393.04,773.52 L393.17,775.14 L393.31,776.79 L393.45,778.45 L393.60,780.13 L393.75,781.81 L393.91,783.51 L394.08,785.20 L394.25,786.90 L394.43,788.59 L394.61,790.27 L394.81,791.94 L395.00,793.60 L395.20,795.24 L395.41,796.86 L395.63,798.45 L395.85,800.01 L396.08,801.54 L396.31,803.03 L396.55,804.48 L396.80,805.89 L397.05,807.26 L397.31,808.57 L397.58,809.83 L397.86,811.03 L398.14,812.18 L398.43,813.25 L398.72,814.26 L399.02,815.20 L399.33,816.07 L399.65,816.86 L399.98,817.57 L400.32,818.19 L400.67,818.74 L401.04,819.19 L401.43,819.55 L401.81,819.79 L402.19,819.21 L401.87,819.00 L401.57,818.71 L401.26,818.32 L400.96,817.83 L400.65,817.24 L400.35,816.56 L400.06,815.80 L399.77,814.96 L399.49,814.03 L399.22,813.04 L398.95,811.97 L398.70,810.84 L398.45,809.65 L398.20,808.40 L397.97,807.09 L397.74,805.73 L397.51,804.33 L397.30,802.88 L397.09,801.39 L396.89,799.87 L396.70,798.31 L396.51,796.72 L396.33,795.11 L396.15,793.47 L395.99,791.82 L395.83,790.15 L395.67,788.46 L395.52,786.78 L395.38,785.08 L395.24,783.39 L395.11,781.70 L394.99,780.01 L394.87,778.34 L394.75,776.68 L394.64,775.03 L394.54,773.41 L394.44,771.81 L394.35,770.24 L394.26,768.70 L394.18,767.20 L394.10,765.73 L394.03,764.31 L393.96,762.93 L393.90,761.60 L393.84,760.32 L393.79,759.11 L393.74,757.95 L393.69,756.85 L393.65,755.82 L393.62,754.86 L393.58,753.98 L393.55,753.18 L393.53,752.45 L393.51,751.81 L393.49,751.26 L393.47,750.80 L393.46,750.44 L393.46,750.18 L393.45,750.02 L393.45,749.97Z" fill="#5a84cc"/><path d="M273.30,292.00 L273.33,323.07 L273.37,354.15 L273.40,385.23 L273.44,416.30 L273.47,447.38 L273.51,478.45 L273.54,509.52 L273.57,540.60 L273.61,571.67 L273.64,602.75 L273.68,633.83 L273.71,664.90 L273.75,695.98 L273.78,727.05 L273.82,758.12 L273.85,789.20 L273.88,820.27 L273.92,851.35 L273.95,882.42 L273.99,913.50 L274.08,914.16 L274.33,914.77 L274.73,915.27 L275.23,915.67 L275.84,915.92 L276.50,916.01 L285.00,916.00 L285.00,915.00 L276.50,914.99 L276.10,914.94 L275.75,914.79 L275.45,914.55 L275.22,914.25 L275.07,913.90 L275.01,913.50 L275.05,882.42 L275.08,851.35 L275.12,820.27 L275.15,789.20 L275.18,758.12 L275.22,727.05 L275.25,695.98 L275.29,664.90 L275.32,633.83 L275.36,602.75 L275.39,571.67 L275.43,540.60 L275.46,509.52 L275.49,478.45 L275.53,447.38 L275.56,416.30 L275.60,385.23 L275.63,354.15 L275.67,323.07 L275.70,292.00Z" fill="#4a86d0"/><path d="M322.05,929.07 L322.06,929.10 L322.06,929.18 L322.08,929.32 L322.09,929.51 L322.12,929.74 L322.15,930.03 L322.18,930.35 L322.22,930.73 L322.26,931.14 L322.31,931.59 L322.37,932.08 L322.43,932.61 L322.50,933.17 L322.57,933.77 L322.65,934.39 L322.73,935.05 L322.82,935.73 L322.92,936.43 L323.02,937.16 L323.12,937.91 L323.24,938.68 L323.35,939.47 L323.48,940.28 L323.61,941.09 L323.75,941.93 L323.89,942.77 L324.04,943.62 L324.19,944.48 L324.35,945.34 L324.52,946.20 L324.70,947.07 L324.88,947.94 L325.06,948.81 L325.26,949.67 L325.46,950.52 L325.66,951.37 L325.87,952.21 L326.09,953.04 L326.32,953.85 L326.55,954.65 L326.79,955.44 L327.04,956.20 L327.30,956.95 L327.56,957.67 L327.83,958.37 L328.10,959.05 L328.39,959.70 L328.68,960.32 L328.98,960.90 L329.28,961.46 L329.60,961.98 L329.92,962.47 L330.26,962.92 L330.60,963.33 L330.96,963.70 L331.32,964.03 L331.70,964.31 L332.10,964.54 L332.50,964.72 L332.90,964.83 L333.10,964.17 L332.76,964.05 L332.44,963.90 L332.12,963.70 L331.81,963.45 L331.50,963.16 L331.19,962.82 L330.89,962.44 L330.60,962.01 L330.31,961.55 L330.03,961.05 L329.75,960.51 L329.48,959.94 L329.22,959.33 L328.97,958.70 L328.72,958.03 L328.48,957.35 L328.25,956.63 L328.02,955.89 L327.81,955.14 L327.59,954.36 L327.39,953.57 L327.19,952.76 L327.00,951.94 L326.82,951.10 L326.64,950.26 L326.47,949.41 L326.31,948.55 L326.15,947.69 L326.00,946.83 L325.85,945.96 L325.72,945.10 L325.58,944.24 L325.46,943.39 L325.34,942.54 L325.22,941.70 L325.11,940.88 L325.01,940.06 L324.91,939.26 L324.82,938.47 L324.73,937.71 L324.65,936.96 L324.57,936.23 L324.50,935.53 L324.43,934.85 L324.37,934.20 L324.31,933.58 L324.26,932.99 L324.21,932.43 L324.17,931.91 L324.13,931.42 L324.09,930.97 L324.06,930.56 L324.03,930.19 L324.01,929.87 L323.99,929.59 L323.97,929.35 L323.96,929.17 L323.95,929.04 L323.95,928.96 L323.95,928.93Z" fill="#5a84cc"/><path d="M322.05,929.02 L322.05,929.11 L322.06,929.38 L322.07,929.83 L322.09,930.44 L322.11,931.21 L322.14,932.14 L322.18,933.22 L322.22,934.44 L322.26,935.80 L322.31,937.29 L322.37,938.90 L322.43,940.63 L322.50,942.48 L322.57,944.43 L322.65,946.49 L322.73,948.64 L322.82,950.88 L322.92,953.20 L323.02,955.60 L323.12,958.06 L323.24,960.60 L323.36,963.19 L323.48,965.84 L323.61,968.53 L323.75,971.27 L323.89,974.04 L324.04,976.83 L324.20,979.66 L324.36,982.49 L324.53,985.34 L324.70,988.20 L324.88,991.05 L325.07,993.89 L325.26,996.73 L325.46,999.54 L325.66,1002.33 L325.88,1005.09 L326.10,1007.81 L326.32,1010.48 L326.55,1013.11 L326.79,1015.68 L327.04,1018.20 L327.29,1020.64 L327.55,1023.01 L327.82,1025.30 L328.09,1027.51 L328.37,1029.63 L328.66,1031.65 L328.95,1033.56 L329.25,1035.37 L329.56,1037.06 L329.88,1038.64 L330.20,1040.08 L330.53,1041.40 L330.87,1042.58 L331.22,1043.61 L331.58,1044.51 L331.96,1045.25 L332.35,1045.84 L332.75,1046.24 L333.25,1045.76 L332.91,1045.40 L332.58,1044.90 L332.24,1044.21 L331.91,1043.37 L331.58,1042.36 L331.26,1041.21 L330.95,1039.91 L330.64,1038.48 L330.35,1036.92 L330.06,1035.23 L329.78,1033.43 L329.50,1031.53 L329.24,1029.51 L328.98,1027.40 L328.73,1025.20 L328.49,1022.91 L328.25,1020.54 L328.03,1018.10 L327.81,1015.59 L327.59,1013.02 L327.39,1010.40 L327.19,1007.72 L327.00,1005.00 L326.82,1002.25 L326.64,999.46 L326.47,996.65 L326.30,993.82 L326.15,990.97 L325.99,988.12 L325.85,985.27 L325.71,982.42 L325.58,979.59 L325.45,976.76 L325.33,973.97 L325.22,971.20 L325.11,968.47 L325.00,965.77 L324.91,963.13 L324.81,960.54 L324.73,958.00 L324.65,955.53 L324.57,953.14 L324.50,950.82 L324.43,948.58 L324.37,946.43 L324.31,944.38 L324.26,942.42 L324.21,940.58 L324.17,938.85 L324.13,937.23 L324.09,935.75 L324.06,934.39 L324.03,933.17 L324.01,932.09 L323.99,931.17 L323.98,930.39 L323.96,929.78 L323.96,929.34 L323.95,929.07 L323.95,928.98Z" fill="#5a84cc"/><path d="M322.05,929.02 L322.05,929.13 L322.06,929.48 L322.07,930.05 L322.09,930.83 L322.11,931.82 L322.14,933.00 L322.18,934.38 L322.22,935.94 L322.26,937.67 L322.31,939.58 L322.37,941.64 L322.43,943.85 L322.50,946.21 L322.57,948.71 L322.65,951.33 L322.73,954.08 L322.82,956.94 L322.92,959.90 L323.02,962.97 L323.12,966.12 L323.24,969.36 L323.36,972.67 L323.48,976.06 L323.61,979.50 L323.75,982.99 L323.89,986.53 L324.04,990.10 L324.20,993.71 L324.36,997.34 L324.53,1000.98 L324.70,1004.62 L324.88,1008.27 L325.07,1011.90 L325.26,1015.52 L325.46,1019.12 L325.67,1022.68 L325.88,1026.20 L326.10,1029.68 L326.32,1033.10 L326.55,1036.45 L326.79,1039.74 L327.04,1042.95 L327.29,1046.07 L327.55,1049.10 L327.82,1052.03 L328.09,1054.85 L328.37,1057.55 L328.66,1060.13 L328.95,1062.58 L329.25,1064.88 L329.56,1067.04 L329.88,1069.05 L330.20,1070.90 L330.53,1072.57 L330.87,1074.07 L331.22,1075.39 L331.57,1076.52 L331.94,1077.46 L332.33,1078.20 L332.72,1078.71 L333.28,1078.29 L332.93,1077.83 L332.59,1077.17 L332.25,1076.29 L331.92,1075.19 L331.59,1073.90 L331.27,1072.42 L330.95,1070.76 L330.65,1068.93 L330.35,1066.93 L330.06,1064.78 L329.78,1062.48 L329.50,1060.03 L329.24,1057.46 L328.98,1054.76 L328.73,1051.95 L328.49,1049.02 L328.25,1045.99 L328.03,1042.87 L327.81,1039.67 L327.59,1036.38 L327.39,1033.03 L327.19,1029.61 L327.00,1026.14 L326.81,1022.62 L326.64,1019.05 L326.47,1015.46 L326.30,1011.84 L326.15,1008.21 L325.99,1004.56 L325.85,1000.92 L325.71,997.28 L325.58,993.65 L325.45,990.05 L325.33,986.48 L325.22,982.94 L325.11,979.45 L325.00,976.00 L324.91,972.62 L324.81,969.31 L324.73,966.07 L324.65,962.92 L324.57,959.86 L324.50,956.89 L324.43,954.03 L324.37,951.29 L324.31,948.66 L324.26,946.17 L324.21,943.81 L324.17,941.60 L324.13,939.53 L324.09,937.63 L324.06,935.90 L324.03,934.34 L324.01,932.97 L323.99,931.78 L323.98,930.79 L323.96,930.01 L323.96,929.45 L323.95,929.10 L323.95,928.98Z" fill="#5a84cc"/><path d="M363.55,978.07 L363.56,978.10 L363.56,978.19 L363.58,978.33 L363.60,978.52 L363.62,978.76 L363.65,979.04 L363.69,979.38 L363.73,979.75 L363.77,980.17 L363.83,980.63 L363.88,981.13 L363.95,981.66 L364.02,982.23 L364.09,982.84 L364.17,983.47 L364.26,984.13 L364.35,984.82 L364.45,985.54 L364.56,986.28 L364.67,987.04 L364.79,987.82 L364.91,988.62 L365.04,989.44 L365.18,990.27 L365.32,991.11 L365.47,991.96 L365.62,992.83 L365.79,993.70 L365.96,994.57 L366.13,995.45 L366.31,996.33 L366.50,997.21 L366.70,998.09 L366.90,998.96 L367.11,999.83 L367.32,1000.69 L367.55,1001.54 L367.78,1002.38 L368.01,1003.21 L368.26,1004.02 L368.51,1004.81 L368.77,1005.59 L369.03,1006.35 L369.31,1007.08 L369.59,1007.79 L369.88,1008.48 L370.18,1009.13 L370.48,1009.76 L370.80,1010.36 L371.12,1010.92 L371.45,1011.45 L371.79,1011.95 L372.14,1012.40 L372.50,1012.82 L372.87,1013.19 L373.26,1013.52 L373.65,1013.80 L374.06,1014.04 L374.49,1014.22 L374.90,1014.34 L375.10,1013.66 L374.73,1013.55 L374.40,1013.39 L374.06,1013.19 L373.73,1012.94 L373.40,1012.64 L373.08,1012.29 L372.77,1011.90 L372.46,1011.47 L372.15,1011.00 L371.86,1010.50 L371.57,1009.95 L371.29,1009.37 L371.01,1008.76 L370.74,1008.11 L370.48,1007.44 L370.23,1006.74 L369.99,1006.02 L369.75,1005.27 L369.52,1004.50 L369.30,1003.71 L369.08,1002.91 L368.87,1002.09 L368.67,1001.26 L368.48,1000.41 L368.29,999.56 L368.11,998.69 L367.94,997.82 L367.78,996.95 L367.62,996.08 L367.46,995.20 L367.32,994.33 L367.18,993.45 L367.04,992.59 L366.92,991.73 L366.79,990.88 L366.68,990.04 L366.57,989.21 L366.47,988.40 L366.37,987.60 L366.28,986.83 L366.19,986.07 L366.11,985.33 L366.03,984.62 L365.96,983.93 L365.89,983.27 L365.83,982.64 L365.78,982.04 L365.73,981.48 L365.68,980.95 L365.64,980.45 L365.60,980.00 L365.57,979.58 L365.54,979.21 L365.51,978.88 L365.49,978.59 L365.48,978.36 L365.46,978.17 L365.45,978.03 L365.45,977.95 L365.45,977.93Z" fill="#5a84cc"/><path d="M273.30,292.00 L273.33,335.55 L273.37,379.10 L273.40,422.65 L273.44,466.20 L273.47,509.75 L273.51,553.30 L273.54,596.85 L273.58,640.40 L273.61,683.95 L273.65,727.50 L273.68,771.05 L273.71,814.60 L273.75,858.15 L273.78,901.70 L273.82,945.25 L273.85,988.80 L273.89,1032.35 L273.92,1075.90 L273.96,1119.45 L273.99,1163.00 L274.08,1163.66 L274.34,1164.26 L274.73,1164.77 L275.24,1165.16 L275.84,1165.42 L276.50,1165.51 L285.00,1165.50 L285.00,1164.50 L276.50,1164.49 L276.10,1164.44 L275.75,1164.29 L275.45,1164.05 L275.21,1163.75 L275.06,1163.40 L275.01,1163.00 L275.04,1119.45 L275.08,1075.90 L275.11,1032.35 L275.15,988.80 L275.18,945.25 L275.22,901.70 L275.25,858.15 L275.29,814.60 L275.32,771.05 L275.35,727.50 L275.39,683.95 L275.42,640.40 L275.46,596.85 L275.49,553.30 L275.53,509.75 L275.56,466.20 L275.60,422.65 L275.63,379.10 L275.67,335.55 L275.70,292.00Z" fill="#4a86d0"/><path d="M322.05,1178.08 L322.06,1178.11 L322.06,1178.19 L322.08,1178.33 L322.10,1178.52 L322.12,1178.77 L322.15,1179.06 L322.19,1179.40 L322.23,1179.78 L322.28,1180.20 L322.34,1180.67 L322.40,1181.17 L322.46,1181.72 L322.54,1182.29 L322.61,1182.91 L322.70,1183.55 L322.79,1184.22 L322.89,1184.92 L322.99,1185.65 L323.10,1186.40 L323.22,1187.17 L323.34,1187.96 L323.47,1188.77 L323.60,1189.60 L323.74,1190.44 L323.89,1191.29 L324.05,1192.16 L324.21,1193.03 L324.38,1193.92 L324.56,1194.80 L324.74,1195.69 L324.93,1196.59 L325.13,1197.48 L325.33,1198.37 L325.54,1199.25 L325.76,1200.13 L325.99,1201.01 L326.22,1201.87 L326.46,1202.72 L326.71,1203.56 L326.96,1204.38 L327.22,1205.19 L327.50,1205.98 L327.77,1206.74 L328.06,1207.49 L328.35,1208.21 L328.66,1208.90 L328.97,1209.57 L329.29,1210.20 L329.62,1210.81 L329.95,1211.38 L330.30,1211.92 L330.66,1212.42 L331.02,1212.88 L331.40,1213.30 L331.79,1213.68 L332.19,1214.01 L332.60,1214.30 L333.03,1214.54 L333.47,1214.72 L333.90,1214.84 L334.10,1214.16 L333.71,1214.05 L333.36,1213.89 L333.00,1213.68 L332.66,1213.42 L332.31,1213.12 L331.97,1212.77 L331.64,1212.37 L331.32,1211.94 L331.00,1211.46 L330.69,1210.94 L330.38,1210.39 L330.09,1209.80 L329.80,1209.18 L329.52,1208.53 L329.25,1207.85 L328.98,1207.14 L328.73,1206.40 L328.48,1205.65 L328.23,1204.87 L328.00,1204.07 L327.78,1203.25 L327.56,1202.42 L327.35,1201.58 L327.14,1200.72 L326.95,1199.85 L326.76,1198.98 L326.58,1198.10 L326.40,1197.21 L326.23,1196.32 L326.07,1195.44 L325.92,1194.55 L325.77,1193.67 L325.63,1192.79 L325.50,1191.92 L325.37,1191.06 L325.25,1190.21 L325.13,1189.37 L325.02,1188.54 L324.92,1187.74 L324.82,1186.95 L324.73,1186.18 L324.64,1185.43 L324.56,1184.71 L324.49,1184.01 L324.42,1183.34 L324.35,1182.71 L324.30,1182.10 L324.24,1181.52 L324.19,1180.99 L324.15,1180.48 L324.11,1180.02 L324.07,1179.60 L324.04,1179.22 L324.02,1178.89 L323.99,1178.60 L323.98,1178.36 L323.96,1178.17 L323.95,1178.03 L323.95,1177.95 L323.95,1177.92Z" fill="#5a84cc"/><path d="M322.05,1178.01 L322.05,1178.23 L322.06,1178.88 L322.07,1179.96 L322.09,1181.43 L322.11,1183.30 L322.14,1185.54 L322.18,1188.14 L322.22,1191.09 L322.26,1194.36 L322.31,1197.96 L322.37,1201.85 L322.43,1206.04 L322.50,1210.49 L322.57,1215.21 L322.65,1220.17 L322.73,1225.35 L322.82,1230.76 L322.92,1236.36 L323.02,1242.15 L323.12,1248.11 L323.24,1254.23 L323.36,1260.49 L323.48,1266.88 L323.61,1273.39 L323.75,1279.99 L323.89,1286.67 L324.04,1293.43 L324.20,1300.24 L324.36,1307.09 L324.53,1313.97 L324.70,1320.86 L324.88,1327.74 L325.07,1334.61 L325.26,1341.45 L325.46,1348.24 L325.67,1354.97 L325.88,1361.63 L326.10,1368.20 L326.32,1374.66 L326.56,1381.00 L326.79,1387.21 L327.04,1393.27 L327.29,1399.17 L327.55,1404.89 L327.82,1410.42 L328.09,1415.75 L328.37,1420.85 L328.66,1425.72 L328.95,1430.34 L329.25,1434.70 L329.56,1438.78 L329.87,1442.56 L330.20,1446.04 L330.53,1449.20 L330.86,1452.02 L331.21,1454.49 L331.56,1456.60 L331.92,1458.34 L332.29,1459.69 L332.68,1460.63 L333.32,1460.37 L332.96,1459.47 L332.61,1458.18 L332.27,1456.47 L331.93,1454.39 L331.59,1451.93 L331.27,1449.12 L330.95,1445.97 L330.65,1442.50 L330.35,1438.72 L330.06,1434.64 L329.78,1430.29 L329.50,1425.67 L329.24,1420.80 L328.98,1415.70 L328.73,1410.38 L328.49,1404.85 L328.25,1399.13 L328.03,1393.23 L327.81,1387.17 L327.59,1380.96 L327.39,1374.62 L327.19,1368.16 L327.00,1361.60 L326.81,1354.94 L326.64,1348.21 L326.47,1341.42 L326.30,1334.58 L326.14,1327.71 L325.99,1320.83 L325.85,1313.94 L325.71,1307.06 L325.58,1300.21 L325.45,1293.40 L325.33,1286.64 L325.22,1279.96 L325.11,1273.36 L325.00,1266.86 L324.91,1260.47 L324.81,1254.21 L324.73,1248.09 L324.65,1242.13 L324.57,1236.34 L324.50,1230.73 L324.43,1225.33 L324.37,1220.14 L324.31,1215.18 L324.26,1210.47 L324.21,1206.01 L324.17,1201.83 L324.13,1197.93 L324.09,1194.34 L324.06,1191.06 L324.03,1188.12 L324.01,1185.52 L323.99,1183.28 L323.98,1181.41 L323.96,1179.94 L323.96,1178.87 L323.95,1178.21 L323.95,1177.99Z" fill="#5a84cc"/><path d="M322.05,1178.01 L322.05,1178.25 L322.06,1178.98 L322.07,1180.18 L322.09,1181.82 L322.11,1183.90 L322.14,1186.39 L322.18,1189.29 L322.22,1192.56 L322.26,1196.21 L322.31,1200.21 L322.37,1204.55 L322.43,1209.21 L322.50,1214.17 L322.57,1219.42 L322.65,1224.94 L322.73,1230.72 L322.82,1236.73 L322.92,1242.97 L323.02,1249.42 L323.12,1256.05 L323.24,1262.87 L323.36,1269.84 L323.48,1276.95 L323.61,1284.19 L323.75,1291.54 L323.89,1298.98 L324.04,1306.50 L324.20,1314.08 L324.36,1321.71 L324.53,1329.37 L324.70,1337.04 L324.88,1344.70 L325.07,1352.35 L325.26,1359.96 L325.46,1367.52 L325.67,1375.02 L325.88,1382.43 L326.10,1389.74 L326.32,1396.93 L326.56,1403.99 L326.79,1410.90 L327.04,1417.65 L327.29,1424.22 L327.55,1430.59 L327.82,1436.74 L328.09,1442.67 L328.37,1448.36 L328.66,1453.78 L328.95,1458.92 L329.25,1463.77 L329.56,1468.31 L329.87,1472.52 L330.20,1476.40 L330.52,1479.91 L330.86,1483.05 L331.21,1485.80 L331.56,1488.15 L331.92,1490.08 L332.29,1491.58 L332.67,1492.62 L333.33,1492.38 L332.97,1491.38 L332.61,1489.93 L332.27,1488.03 L331.93,1485.70 L331.59,1482.97 L331.27,1479.84 L330.95,1476.33 L330.65,1472.46 L330.35,1468.25 L330.06,1463.72 L329.78,1458.87 L329.50,1453.73 L329.24,1448.31 L328.98,1442.63 L328.73,1436.71 L328.49,1430.55 L328.25,1424.18 L328.03,1417.62 L327.81,1410.87 L327.59,1403.96 L327.39,1396.90 L327.19,1389.71 L327.00,1382.40 L326.81,1374.99 L326.64,1367.50 L326.47,1359.93 L326.30,1352.32 L326.14,1344.68 L325.99,1337.01 L325.85,1329.34 L325.71,1321.68 L325.58,1314.06 L325.45,1306.47 L325.33,1298.95 L325.22,1291.51 L325.11,1284.16 L325.00,1276.92 L324.91,1269.81 L324.81,1262.84 L324.73,1256.03 L324.65,1249.39 L324.57,1242.95 L324.50,1236.71 L324.43,1230.69 L324.37,1224.92 L324.31,1219.40 L324.26,1214.15 L324.21,1209.19 L324.17,1204.53 L324.13,1200.19 L324.09,1196.19 L324.06,1192.55 L324.03,1189.27 L324.01,1186.37 L323.99,1183.88 L323.98,1181.80 L323.96,1180.16 L323.96,1178.97 L323.95,1178.24 L323.95,1177.99Z" fill="#5a84cc"/><path d="M322.05,1178.01 L322.05,1178.28 L322.06,1179.08 L322.07,1180.41 L322.09,1182.22 L322.11,1184.52 L322.14,1187.28 L322.17,1190.48 L322.20,1194.11 L322.24,1198.15 L322.29,1202.58 L322.34,1207.38 L322.40,1212.53 L322.46,1218.02 L322.53,1223.83 L322.60,1229.94 L322.67,1236.33 L322.76,1242.99 L322.84,1249.89 L322.93,1257.02 L323.03,1264.36 L323.14,1271.90 L323.24,1279.61 L323.36,1287.48 L323.48,1295.49 L323.60,1303.63 L323.73,1311.86 L323.87,1320.18 L324.01,1328.57 L324.15,1337.01 L324.31,1345.49 L324.47,1353.97 L324.63,1362.46 L324.80,1370.92 L324.97,1379.34 L325.15,1387.71 L325.34,1396.00 L325.53,1404.20 L325.73,1412.29 L325.94,1420.25 L326.15,1428.06 L326.36,1435.71 L326.59,1443.17 L326.81,1450.44 L327.05,1457.49 L327.29,1464.30 L327.54,1470.86 L327.79,1477.15 L328.05,1483.14 L328.31,1488.84 L328.58,1494.20 L328.86,1499.22 L329.15,1503.89 L329.44,1508.17 L329.73,1512.06 L330.04,1515.53 L330.35,1518.57 L330.67,1521.17 L330.99,1523.30 L331.32,1524.95 L331.66,1526.10 L332.34,1525.90 L332.01,1524.79 L331.69,1523.18 L331.38,1521.07 L331.07,1518.50 L330.77,1515.46 L330.48,1512.00 L330.20,1508.12 L329.92,1503.84 L329.65,1499.18 L329.39,1494.16 L329.14,1488.80 L328.90,1483.11 L328.66,1477.11 L328.43,1470.83 L328.20,1464.27 L327.99,1457.46 L327.78,1450.41 L327.57,1443.14 L327.38,1435.68 L327.19,1428.03 L327.00,1420.22 L326.83,1412.26 L326.65,1404.17 L326.49,1395.97 L326.33,1387.68 L326.18,1379.32 L326.03,1370.90 L325.89,1362.43 L325.76,1353.95 L325.63,1345.46 L325.51,1336.99 L325.39,1328.55 L325.28,1320.16 L325.17,1311.84 L325.07,1303.61 L324.97,1295.47 L324.88,1287.47 L324.79,1279.60 L324.71,1271.88 L324.63,1264.35 L324.56,1257.00 L324.49,1249.87 L324.43,1242.97 L324.37,1236.31 L324.32,1229.92 L324.27,1223.81 L324.22,1218.00 L324.18,1212.51 L324.14,1207.36 L324.11,1202.56 L324.07,1198.13 L324.05,1194.10 L324.02,1190.47 L324.00,1187.27 L323.99,1184.51 L323.97,1182.21 L323.96,1180.39 L323.96,1179.07 L323.95,1178.27 L323.95,1177.99Z" fill="#5a84cc"/><path d="M430,1228 V1373 Q430,1379 436,1379 H494" fill="none" stroke="#5a84cc" stroke-width="1.3"/><path d="M430,1265.5 H438" fill="none" stroke="#5a84cc" stroke-width="1.3"/><path d="M430,1296 H606" fill="none" stroke="#5a84cc" stroke-width="1.3"/><path d="M644.5,1309 C644.5,1320 496.0,1314 496.0,1332" fill="none" stroke="#5a84cc" stroke-width="1.2"/><path d="M644.5,1309 C644.5,1320 617.0,1314 617.0,1332" fill="none" stroke="#5a84cc" stroke-width="1.2"/><path d="M644.5,1309 C644.5,1320 710.5,1314 710.5,1332" fill="none" stroke="#5a84cc" stroke-width="1.2"/><path d="M644.5,1309 C644.5,1320 798.0,1314 798.0,1332" fill="none" stroke="#5a84cc" stroke-width="1.2"/><path d="M532,1392 C532,1403 470.5,1397 470.5,1415" fill="none" stroke="#5a84cc" stroke-width="1.2"/><path d="M532,1392 C532,1403 531.5,1397 531.5,1415" fill="none" stroke="#5a84cc" stroke-width="1.2"/><path d="M532,1392 C532,1403 593.0,1397 593.0,1415" fill="none" stroke="#5a84cc" stroke-width="1.2"/><path d="M273.30,292.00 L273.33,369.82 L273.37,447.65 L273.40,525.48 L273.44,603.30 L273.47,681.12 L273.51,758.95 L273.54,836.77 L273.58,914.60 L273.61,992.42 L273.65,1070.25 L273.68,1148.08 L273.72,1225.90 L273.75,1303.72 L273.79,1381.55 L273.82,1459.38 L273.86,1537.20 L273.89,1615.03 L273.93,1692.85 L273.96,1770.67 L273.99,1848.50 L274.08,1849.16 L274.34,1849.76 L274.73,1850.27 L275.24,1850.66 L275.84,1850.91 L276.50,1851.00 L285.00,1851.00 L285.00,1850.00 L276.50,1850.00 L276.10,1849.94 L275.75,1849.79 L275.44,1849.56 L275.21,1849.25 L275.06,1848.90 L275.01,1848.50 L275.04,1770.67 L275.07,1692.85 L275.11,1615.03 L275.14,1537.20 L275.18,1459.38 L275.21,1381.55 L275.25,1303.72 L275.28,1225.90 L275.32,1148.08 L275.35,1070.25 L275.39,992.42 L275.42,914.60 L275.46,836.77 L275.49,758.95 L275.53,681.12 L275.56,603.30 L275.60,525.48 L275.63,447.65 L275.67,369.82 L275.70,292.00Z" fill="#4a86d0"/><path d="M322.05,1864.08 L322.06,1864.11 L322.06,1864.19 L322.08,1864.33 L322.10,1864.51 L322.12,1864.74 L322.15,1865.02 L322.19,1865.35 L322.23,1865.71 L322.28,1866.12 L322.34,1866.57 L322.40,1867.05 L322.46,1867.57 L322.54,1868.13 L322.61,1868.71 L322.70,1869.33 L322.79,1869.97 L322.89,1870.64 L322.99,1871.34 L323.10,1872.06 L323.22,1872.80 L323.34,1873.56 L323.47,1874.34 L323.60,1875.13 L323.74,1875.94 L323.89,1876.76 L324.05,1877.59 L324.21,1878.43 L324.38,1879.27 L324.56,1880.12 L324.74,1880.98 L324.93,1881.83 L325.13,1882.69 L325.33,1883.54 L325.54,1884.39 L325.76,1885.24 L325.99,1886.07 L326.22,1886.90 L326.46,1887.72 L326.71,1888.52 L326.96,1889.31 L327.23,1890.08 L327.50,1890.84 L327.77,1891.58 L328.06,1892.29 L328.36,1892.98 L328.66,1893.65 L328.97,1894.29 L329.29,1894.90 L329.62,1895.48 L329.96,1896.03 L330.30,1896.54 L330.66,1897.02 L331.03,1897.46 L331.40,1897.87 L331.79,1898.23 L332.20,1898.55 L332.61,1898.83 L333.04,1899.05 L333.48,1899.22 L333.91,1899.34 L334.09,1898.66 L333.71,1898.55 L333.35,1898.39 L333.00,1898.19 L332.65,1897.95 L332.31,1897.66 L331.97,1897.32 L331.64,1896.94 L331.31,1896.53 L331.00,1896.07 L330.69,1895.57 L330.38,1895.04 L330.09,1894.48 L329.80,1893.88 L329.52,1893.26 L329.25,1892.61 L328.98,1891.93 L328.72,1891.22 L328.48,1890.50 L328.23,1889.75 L328.00,1888.98 L327.77,1888.20 L327.56,1887.41 L327.35,1886.60 L327.14,1885.77 L326.95,1884.94 L326.76,1884.10 L326.58,1883.26 L326.40,1882.41 L326.23,1881.56 L326.07,1880.71 L325.92,1879.86 L325.77,1879.01 L325.63,1878.17 L325.50,1877.34 L325.37,1876.51 L325.25,1875.69 L325.13,1874.89 L325.02,1874.10 L324.92,1873.33 L324.82,1872.57 L324.73,1871.83 L324.64,1871.12 L324.56,1870.43 L324.49,1869.76 L324.42,1869.12 L324.35,1868.50 L324.30,1867.92 L324.24,1867.37 L324.19,1866.85 L324.15,1866.37 L324.11,1865.93 L324.07,1865.53 L324.04,1865.16 L324.02,1864.84 L323.99,1864.57 L323.98,1864.34 L323.96,1864.16 L323.95,1864.03 L323.95,1863.95 L323.95,1863.92Z" fill="#5a84cc"/><path d="M322.05,1864.04 L322.05,1864.09 L322.06,1864.25 L322.08,1864.51 L322.10,1864.87 L322.12,1865.32 L322.15,1865.86 L322.19,1866.49 L322.23,1867.20 L322.28,1867.98 L322.33,1868.85 L322.40,1869.79 L322.46,1870.80 L322.53,1871.87 L322.61,1873.01 L322.70,1874.20 L322.79,1875.45 L322.89,1876.75 L322.99,1878.10 L323.10,1879.50 L323.22,1880.93 L323.34,1882.41 L323.47,1883.91 L323.60,1885.45 L323.75,1887.02 L323.90,1888.61 L324.05,1890.22 L324.21,1891.85 L324.38,1893.49 L324.56,1895.14 L324.74,1896.79 L324.93,1898.45 L325.13,1900.11 L325.33,1901.77 L325.54,1903.41 L325.76,1905.05 L325.99,1906.67 L326.22,1908.28 L326.46,1909.86 L326.71,1911.41 L326.96,1912.94 L327.22,1914.44 L327.49,1915.90 L327.77,1917.32 L328.05,1918.70 L328.35,1920.04 L328.65,1921.32 L328.95,1922.56 L329.27,1923.74 L329.59,1924.85 L329.93,1925.91 L330.27,1926.90 L330.62,1927.82 L330.98,1928.67 L331.35,1929.44 L331.73,1930.14 L332.12,1930.75 L332.53,1931.28 L332.95,1931.72 L333.40,1932.07 L333.83,1932.31 L334.17,1931.69 L333.79,1931.49 L333.44,1931.20 L333.08,1930.81 L332.73,1930.33 L332.37,1929.76 L332.03,1929.10 L331.69,1928.35 L331.36,1927.53 L331.03,1926.63 L330.71,1925.66 L330.41,1924.62 L330.11,1923.51 L329.81,1922.34 L329.53,1921.12 L329.26,1919.84 L328.99,1918.51 L328.73,1917.14 L328.48,1915.72 L328.24,1914.27 L328.00,1912.77 L327.78,1911.25 L327.56,1909.70 L327.34,1908.12 L327.14,1906.52 L326.94,1904.90 L326.76,1903.27 L326.57,1901.62 L326.40,1899.97 L326.23,1898.31 L326.07,1896.66 L325.92,1895.00 L325.77,1893.35 L325.63,1891.72 L325.49,1890.09 L325.37,1888.48 L325.25,1886.89 L325.13,1885.33 L325.02,1883.79 L324.92,1882.29 L324.82,1880.82 L324.73,1879.38 L324.64,1877.99 L324.56,1876.64 L324.49,1875.34 L324.42,1874.09 L324.36,1872.90 L324.30,1871.77 L324.24,1870.69 L324.19,1869.69 L324.15,1868.75 L324.11,1867.89 L324.07,1867.10 L324.04,1866.39 L324.02,1865.77 L324.00,1865.23 L323.98,1864.78 L323.97,1864.43 L323.96,1864.17 L323.95,1864.01 L323.95,1863.96Z" fill="#5a84cc"/><path d="M322.05,1864.03 L322.05,1864.11 L322.06,1864.34 L322.08,1864.72 L322.10,1865.25 L322.12,1865.91 L322.15,1866.71 L322.19,1867.64 L322.23,1868.68 L322.28,1869.85 L322.33,1871.13 L322.39,1872.52 L322.46,1874.00 L322.53,1875.59 L322.61,1877.27 L322.70,1879.03 L322.79,1880.88 L322.89,1882.80 L322.99,1884.80 L323.10,1886.86 L323.22,1888.98 L323.34,1891.16 L323.47,1893.38 L323.60,1895.66 L323.75,1897.97 L323.90,1900.32 L324.05,1902.70 L324.22,1905.10 L324.38,1907.53 L324.56,1909.96 L324.74,1912.41 L324.93,1914.86 L325.13,1917.31 L325.33,1919.76 L325.55,1922.19 L325.76,1924.61 L325.99,1927.01 L326.22,1929.37 L326.46,1931.71 L326.71,1934.01 L326.96,1936.27 L327.22,1938.48 L327.49,1940.64 L327.77,1942.74 L328.05,1944.77 L328.34,1946.74 L328.64,1948.64 L328.95,1950.46 L329.27,1952.20 L329.59,1953.84 L329.92,1955.40 L330.26,1956.85 L330.61,1958.21 L330.96,1959.45 L331.33,1960.59 L331.70,1961.60 L332.09,1962.50 L332.49,1963.27 L332.90,1963.91 L333.34,1964.43 L333.78,1964.77 L334.22,1964.23 L333.84,1963.92 L333.48,1963.49 L333.12,1962.91 L332.75,1962.19 L332.40,1961.33 L332.05,1960.34 L331.70,1959.23 L331.37,1958.01 L331.04,1956.67 L330.72,1955.22 L330.41,1953.68 L330.11,1952.04 L329.82,1950.31 L329.53,1948.50 L329.26,1946.61 L328.99,1944.65 L328.73,1942.61 L328.48,1940.52 L328.24,1938.36 L328.00,1936.15 L327.77,1933.90 L327.56,1931.60 L327.34,1929.27 L327.14,1926.90 L326.94,1924.51 L326.75,1922.09 L326.57,1919.66 L326.40,1917.22 L326.23,1914.77 L326.07,1912.32 L325.92,1909.87 L325.77,1907.44 L325.63,1905.01 L325.49,1902.61 L325.37,1900.23 L325.24,1897.89 L325.13,1895.57 L325.02,1893.30 L324.92,1891.08 L324.82,1888.90 L324.73,1886.78 L324.64,1884.72 L324.56,1882.73 L324.49,1880.80 L324.42,1878.96 L324.36,1877.20 L324.30,1875.52 L324.24,1873.93 L324.19,1872.45 L324.15,1871.06 L324.11,1869.78 L324.08,1868.62 L324.04,1867.57 L324.02,1866.65 L324.00,1865.85 L323.98,1865.19 L323.97,1864.66 L323.96,1864.28 L323.95,1864.05 L323.95,1863.97Z" fill="#5a84cc"/><path d="M273.30,292.00 L273.33,379.77 L273.37,467.55 L273.40,555.33 L273.44,643.10 L273.47,730.88 L273.51,818.65 L273.54,906.42 L273.58,994.20 L273.61,1081.97 L273.65,1169.75 L273.68,1257.53 L273.72,1345.30 L273.75,1433.08 L273.79,1520.85 L273.82,1608.62 L273.86,1696.40 L273.89,1784.17 L273.93,1871.95 L273.96,1959.72 L274.00,2047.50 L274.09,2048.16 L274.34,2048.76 L274.73,2049.27 L275.24,2049.66 L275.84,2049.91 L276.50,2050.00 L285.00,2050.00 L285.00,2049.00 L276.50,2049.00 L276.10,2048.94 L275.75,2048.79 L275.44,2048.56 L275.21,2048.25 L275.06,2047.90 L275.00,2047.50 L275.04,1959.72 L275.07,1871.95 L275.11,1784.17 L275.14,1696.40 L275.18,1608.62 L275.21,1520.85 L275.25,1433.08 L275.28,1345.30 L275.32,1257.53 L275.35,1169.75 L275.39,1081.97 L275.42,994.20 L275.46,906.42 L275.49,818.65 L275.53,730.88 L275.56,643.10 L275.60,555.33 L275.63,467.55 L275.67,379.77 L275.70,292.00Z" fill="#4a86d0"/><path d="M341.05,2063.57 L341.06,2063.60 L341.06,2063.68 L341.08,2063.82 L341.09,2064.01 L341.12,2064.24 L341.15,2064.53 L341.18,2064.85 L341.22,2065.23 L341.26,2065.64 L341.31,2066.09 L341.37,2066.58 L341.43,2067.11 L341.50,2067.67 L341.57,2068.27 L341.65,2068.89 L341.73,2069.55 L341.82,2070.23 L341.92,2070.93 L342.02,2071.66 L342.12,2072.41 L342.24,2073.18 L342.35,2073.97 L342.48,2074.78 L342.61,2075.59 L342.75,2076.43 L342.89,2077.27 L343.04,2078.12 L343.19,2078.98 L343.35,2079.84 L343.52,2080.70 L343.70,2081.57 L343.88,2082.44 L344.06,2083.31 L344.26,2084.17 L344.46,2085.02 L344.66,2085.87 L344.87,2086.71 L345.09,2087.54 L345.32,2088.35 L345.55,2089.15 L345.79,2089.94 L346.04,2090.70 L346.30,2091.45 L346.56,2092.17 L346.83,2092.87 L347.10,2093.55 L347.39,2094.20 L347.68,2094.82 L347.98,2095.40 L348.28,2095.96 L348.60,2096.48 L348.92,2096.97 L349.26,2097.42 L349.60,2097.83 L349.96,2098.20 L350.32,2098.53 L350.70,2098.81 L351.10,2099.04 L351.50,2099.22 L351.90,2099.33 L352.10,2098.67 L351.76,2098.55 L351.44,2098.40 L351.12,2098.20 L350.81,2097.95 L350.50,2097.66 L350.19,2097.32 L349.89,2096.94 L349.60,2096.51 L349.31,2096.05 L349.03,2095.55 L348.75,2095.01 L348.48,2094.44 L348.22,2093.83 L347.97,2093.20 L347.72,2092.53 L347.48,2091.85 L347.25,2091.13 L347.02,2090.39 L346.81,2089.64 L346.59,2088.86 L346.39,2088.07 L346.19,2087.26 L346.00,2086.44 L345.82,2085.60 L345.64,2084.76 L345.47,2083.91 L345.31,2083.05 L345.15,2082.19 L345.00,2081.33 L344.85,2080.46 L344.72,2079.60 L344.58,2078.74 L344.46,2077.89 L344.34,2077.04 L344.22,2076.20 L344.11,2075.38 L344.01,2074.56 L343.91,2073.76 L343.82,2072.97 L343.73,2072.21 L343.65,2071.46 L343.57,2070.73 L343.50,2070.03 L343.43,2069.35 L343.37,2068.70 L343.31,2068.08 L343.26,2067.49 L343.21,2066.93 L343.17,2066.41 L343.13,2065.92 L343.09,2065.47 L343.06,2065.06 L343.03,2064.69 L343.01,2064.37 L342.99,2064.09 L342.97,2063.85 L342.96,2063.67 L342.95,2063.54 L342.95,2063.46 L342.95,2063.43Z" fill="#5a84cc"/><path d="M341.05,2063.54 L341.05,2063.59 L341.06,2063.75 L341.07,2064.01 L341.09,2064.36 L341.12,2064.81 L341.14,2065.34 L341.18,2065.96 L341.22,2066.67 L341.26,2067.45 L341.31,2068.31 L341.37,2069.24 L341.43,2070.24 L341.50,2071.31 L341.57,2072.44 L341.65,2073.62 L341.73,2074.86 L341.82,2076.15 L341.92,2077.49 L342.02,2078.88 L342.12,2080.30 L342.24,2081.77 L342.36,2083.26 L342.48,2084.79 L342.61,2086.35 L342.75,2087.92 L342.89,2089.52 L343.04,2091.14 L343.19,2092.77 L343.36,2094.40 L343.52,2096.05 L343.70,2097.69 L343.88,2099.34 L344.06,2100.98 L344.26,2102.62 L344.46,2104.24 L344.66,2105.85 L344.88,2107.44 L345.10,2109.01 L345.32,2110.56 L345.55,2112.08 L345.79,2113.56 L346.04,2115.01 L346.29,2116.43 L346.55,2117.80 L346.82,2119.12 L347.09,2120.40 L347.37,2121.62 L347.66,2122.79 L347.96,2123.90 L348.26,2124.94 L348.57,2125.93 L348.89,2126.84 L349.22,2127.68 L349.55,2128.45 L349.90,2129.14 L350.25,2129.75 L350.62,2130.27 L351.01,2130.72 L351.42,2131.07 L351.82,2131.30 L352.18,2130.70 L351.84,2130.50 L351.52,2130.21 L351.20,2129.83 L350.88,2129.36 L350.56,2128.79 L350.24,2128.13 L349.93,2127.39 L349.63,2126.57 L349.34,2125.68 L349.05,2124.71 L348.77,2123.68 L348.50,2122.58 L348.23,2121.42 L347.98,2120.21 L347.73,2118.94 L347.49,2117.62 L347.25,2116.26 L347.03,2114.85 L346.81,2113.40 L346.59,2111.92 L346.39,2110.41 L346.19,2108.87 L346.00,2107.30 L345.82,2105.71 L345.64,2104.10 L345.47,2102.48 L345.30,2100.85 L345.15,2099.21 L345.00,2097.57 L344.85,2095.92 L344.71,2094.28 L344.58,2092.64 L344.45,2091.02 L344.33,2089.40 L344.22,2087.81 L344.11,2086.23 L344.01,2084.68 L343.91,2083.15 L343.82,2081.66 L343.73,2080.20 L343.65,2078.77 L343.57,2077.39 L343.50,2076.05 L343.43,2074.76 L343.37,2073.52 L343.31,2072.34 L343.26,2071.21 L343.21,2070.15 L343.17,2069.15 L343.13,2068.22 L343.09,2067.36 L343.06,2066.58 L343.03,2065.88 L343.01,2065.26 L342.99,2064.72 L342.98,2064.28 L342.96,2063.93 L342.96,2063.67 L342.95,2063.51 L342.95,2063.46Z" fill="#5a84cc"/><path d="M341.05,2063.53 L341.05,2063.60 L341.06,2063.84 L341.07,2064.22 L341.09,2064.75 L341.12,2065.41 L341.14,2066.21 L341.18,2067.13 L341.22,2068.18 L341.26,2069.35 L341.31,2070.63 L341.37,2072.01 L341.43,2073.50 L341.50,2075.09 L341.57,2076.77 L341.65,2078.53 L341.73,2080.38 L341.82,2082.30 L341.92,2084.29 L342.02,2086.35 L342.12,2088.48 L342.24,2090.65 L342.36,2092.88 L342.48,2095.15 L342.61,2097.47 L342.75,2099.82 L342.89,2102.20 L343.04,2104.60 L343.20,2107.02 L343.36,2109.46 L343.52,2111.91 L343.70,2114.36 L343.88,2116.81 L344.07,2119.25 L344.26,2121.69 L344.46,2124.11 L344.66,2126.50 L344.88,2128.87 L345.10,2131.21 L345.32,2133.51 L345.55,2135.76 L345.79,2137.97 L346.04,2140.13 L346.29,2142.23 L346.55,2144.27 L346.82,2146.24 L347.09,2148.13 L347.37,2149.95 L347.66,2151.69 L347.95,2153.34 L348.25,2154.89 L348.56,2156.35 L348.88,2157.70 L349.20,2158.94 L349.54,2160.08 L349.88,2161.09 L350.23,2161.99 L350.59,2162.76 L350.97,2163.40 L351.37,2163.91 L351.77,2164.26 L352.23,2163.74 L351.89,2163.44 L351.56,2163.01 L351.23,2162.43 L350.90,2161.70 L350.58,2160.84 L350.26,2159.85 L349.95,2158.74 L349.64,2157.52 L349.34,2156.18 L349.06,2154.73 L348.78,2153.19 L348.50,2151.55 L348.24,2149.82 L347.98,2148.01 L347.73,2146.12 L347.49,2144.15 L347.25,2142.12 L347.03,2140.02 L346.81,2137.87 L346.59,2135.66 L346.39,2133.40 L346.19,2131.11 L346.00,2128.77 L345.82,2126.41 L345.64,2124.01 L345.47,2121.60 L345.30,2119.17 L345.15,2116.72 L344.99,2114.27 L344.85,2111.82 L344.71,2109.38 L344.58,2106.94 L344.45,2104.52 L344.33,2102.12 L344.22,2099.74 L344.11,2097.39 L344.00,2095.08 L343.91,2092.81 L343.81,2090.58 L343.73,2088.40 L343.65,2086.28 L343.57,2084.22 L343.50,2082.23 L343.43,2080.31 L343.37,2078.46 L343.31,2076.70 L343.26,2075.02 L343.21,2073.44 L343.17,2071.95 L343.13,2070.56 L343.09,2069.29 L343.06,2068.12 L343.03,2067.07 L343.01,2066.15 L342.99,2065.35 L342.98,2064.69 L342.96,2064.17 L342.96,2063.79 L342.95,2063.55 L342.95,2063.47Z" fill="#5a84cc"/><path d="M239.50,2231.00 L239.50,2309.50 L239.51,2388.00 L239.51,2466.50 L239.52,2545.00 L239.53,2623.50 L239.53,2702.00 L239.53,2780.50 L239.54,2859.00 L239.54,2937.50 L239.55,3016.00 L239.56,3094.50 L239.56,3173.00 L239.56,3251.50 L239.57,3330.00 L239.57,3408.50 L239.58,3487.00 L239.59,3565.50 L239.59,3644.00 L239.59,3722.50 L239.60,3801.00 L241.40,3801.00 L241.41,3722.50 L241.41,3644.00 L241.41,3565.50 L241.42,3487.00 L241.43,3408.50 L241.43,3330.00 L241.44,3251.50 L241.44,3173.00 L241.44,3094.50 L241.45,3016.00 L241.46,2937.50 L241.46,2859.00 L241.47,2780.50 L241.47,2702.00 L241.47,2623.50 L241.48,2545.00 L241.49,2466.50 L241.49,2388.00 L241.50,2309.50 L241.50,2231.00Z" fill="#4a86d0"/><path d="M239.30,2231.00 L239.33,2232.72 L239.35,2234.45 L239.38,2236.18 L239.40,2237.90 L239.43,2239.62 L239.46,2241.35 L239.48,2243.07 L239.51,2244.80 L239.54,2246.53 L239.56,2248.25 L239.59,2249.97 L239.61,2251.70 L239.64,2253.43 L239.67,2255.15 L239.69,2256.88 L239.72,2258.60 L239.74,2260.32 L239.77,2262.05 L239.80,2263.78 L239.82,2265.52 L239.93,2266.21 L240.20,2266.84 L240.63,2267.37 L241.17,2267.78 L241.80,2268.04 L242.50,2268.13 L251.00,2268.00 L251.00,2267.00 L242.50,2266.87 L242.14,2266.81 L241.82,2266.67 L241.55,2266.45 L241.34,2266.17 L241.22,2265.85 L241.18,2265.48 L241.20,2263.78 L241.23,2262.05 L241.26,2260.32 L241.28,2258.60 L241.31,2256.88 L241.33,2255.15 L241.36,2253.43 L241.39,2251.70 L241.41,2249.97 L241.44,2248.25 L241.46,2246.53 L241.49,2244.80 L241.52,2243.07 L241.54,2241.35 L241.57,2239.62 L241.60,2237.90 L241.62,2236.18 L241.65,2234.45 L241.67,2232.72 L241.70,2231.00Z" fill="#4a86d0"/><path d="M307.55,2281.09 L307.56,2281.15 L307.58,2281.30 L307.61,2281.56 L307.65,2281.91 L307.70,2282.35 L307.76,2282.88 L307.84,2283.49 L307.92,2284.19 L308.02,2284.96 L308.13,2285.81 L308.26,2286.73 L308.40,2287.71 L308.55,2288.77 L308.71,2289.88 L308.88,2291.05 L309.07,2292.27 L309.28,2293.54 L309.49,2294.87 L309.72,2296.23 L309.97,2297.64 L310.22,2299.08 L310.49,2300.55 L310.78,2302.06 L311.08,2303.59 L311.40,2305.15 L311.72,2306.73 L312.07,2308.32 L312.43,2309.92 L312.80,2311.54 L313.19,2313.16 L313.60,2314.79 L314.02,2316.41 L314.45,2318.03 L314.91,2319.64 L315.38,2321.24 L315.86,2322.83 L316.36,2324.40 L316.88,2325.95 L317.41,2327.47 L317.96,2328.97 L318.53,2330.44 L319.12,2331.87 L319.72,2333.26 L320.34,2334.62 L320.98,2335.92 L321.64,2337.18 L322.31,2338.39 L323.01,2339.55 L323.72,2340.64 L324.45,2341.68 L325.21,2342.65 L325.98,2343.55 L326.77,2344.38 L327.59,2345.13 L328.42,2345.80 L329.28,2346.39 L330.16,2346.90 L331.07,2347.31 L331.99,2347.63 L332.92,2347.84 L333.08,2347.16 L332.19,2346.94 L331.34,2346.63 L330.51,2346.24 L329.69,2345.75 L328.89,2345.18 L328.11,2344.53 L327.35,2343.80 L326.60,2342.99 L325.87,2342.11 L325.16,2341.16 L324.46,2340.15 L323.78,2339.07 L323.12,2337.93 L322.48,2336.74 L321.86,2335.49 L321.25,2334.19 L320.66,2332.85 L320.09,2331.47 L319.54,2330.05 L319.00,2328.59 L318.48,2327.10 L317.97,2325.59 L317.49,2324.04 L317.02,2322.48 L316.56,2320.90 L316.12,2319.30 L315.70,2317.70 L315.29,2316.08 L314.90,2314.46 L314.53,2312.85 L314.17,2311.23 L313.82,2309.62 L313.49,2308.02 L313.17,2306.43 L312.87,2304.86 L312.58,2303.31 L312.31,2301.78 L312.05,2300.28 L311.80,2298.81 L311.57,2297.37 L311.35,2295.97 L311.15,2294.61 L310.95,2293.29 L310.77,2292.02 L310.60,2290.80 L310.45,2289.63 L310.30,2288.53 L310.17,2287.48 L310.05,2286.50 L309.94,2285.58 L309.85,2284.74 L309.76,2283.97 L309.68,2283.28 L309.62,2282.67 L309.57,2282.14 L309.52,2281.71 L309.49,2281.36 L309.46,2281.11 L309.45,2280.96 L309.45,2280.91Z" fill="#5a84cc"/><path d="M307.55,2281.06 L307.56,2281.14 L307.57,2281.37 L307.60,2281.74 L307.64,2282.26 L307.69,2282.90 L307.76,2283.68 L307.83,2284.59 L307.92,2285.61 L308.02,2286.75 L308.13,2288.00 L308.26,2289.35 L308.39,2290.80 L308.54,2292.35 L308.71,2293.99 L308.88,2295.71 L309.07,2297.51 L309.28,2299.38 L309.49,2301.33 L309.72,2303.34 L309.97,2305.41 L310.22,2307.53 L310.49,2309.71 L310.78,2311.92 L311.08,2314.18 L311.40,2316.47 L311.73,2318.79 L312.07,2321.14 L312.43,2323.50 L312.80,2325.88 L313.19,2328.27 L313.60,2330.66 L314.02,2333.05 L314.46,2335.44 L314.91,2337.81 L315.38,2340.17 L315.86,2342.51 L316.36,2344.82 L316.88,2347.10 L317.41,2349.34 L317.96,2351.55 L318.53,2353.70 L319.11,2355.81 L319.71,2357.86 L320.33,2359.85 L320.97,2361.77 L321.62,2363.62 L322.30,2365.40 L322.99,2367.10 L323.70,2368.71 L324.43,2370.23 L325.17,2371.65 L325.94,2372.97 L326.73,2374.19 L327.54,2375.30 L328.37,2376.30 L329.23,2377.17 L330.11,2377.92 L331.02,2378.53 L331.95,2379.01 L332.88,2379.33 L333.12,2378.67 L332.23,2378.36 L331.39,2377.91 L330.56,2377.34 L329.74,2376.63 L328.94,2375.79 L328.16,2374.83 L327.39,2373.75 L326.63,2372.56 L325.90,2371.26 L325.18,2369.85 L324.48,2368.35 L323.80,2366.76 L323.14,2365.07 L322.50,2363.31 L321.87,2361.47 L321.26,2359.56 L320.67,2357.58 L320.10,2355.53 L319.54,2353.43 L319.00,2351.28 L318.48,2349.09 L317.98,2346.85 L317.49,2344.57 L317.02,2342.27 L316.56,2339.94 L316.12,2337.58 L315.70,2335.21 L315.29,2332.83 L314.90,2330.44 L314.53,2328.06 L314.16,2325.67 L313.82,2323.30 L313.49,2320.94 L313.17,2318.59 L312.87,2316.28 L312.58,2313.99 L312.31,2311.73 L312.05,2309.52 L311.80,2307.35 L311.57,2305.23 L311.35,2303.16 L311.15,2301.15 L310.95,2299.21 L310.77,2297.34 L310.60,2295.54 L310.45,2293.82 L310.31,2292.19 L310.17,2290.64 L310.05,2289.19 L309.95,2287.84 L309.85,2286.60 L309.76,2285.46 L309.69,2284.44 L309.62,2283.54 L309.57,2282.76 L309.52,2282.12 L309.49,2281.61 L309.47,2281.24 L309.45,2281.01 L309.45,2280.94Z" fill="#5a84cc"/><path d="M307.55,2281.04 L307.56,2281.15 L307.57,2281.48 L307.60,2282.01 L307.64,2282.74 L307.69,2283.66 L307.76,2284.77 L307.83,2286.05 L307.92,2287.51 L308.02,2289.13 L308.13,2290.90 L308.26,2292.83 L308.39,2294.89 L308.54,2297.10 L308.71,2299.43 L308.88,2301.88 L309.07,2304.44 L309.28,2307.11 L309.49,2309.88 L309.72,2312.74 L309.97,2315.68 L310.22,2318.70 L310.50,2321.80 L310.78,2324.95 L311.08,2328.16 L311.40,2331.42 L311.73,2334.73 L312.07,2338.06 L312.43,2341.43 L312.81,2344.81 L313.20,2348.21 L313.60,2351.61 L314.02,2355.01 L314.46,2358.41 L314.91,2361.79 L315.38,2365.14 L315.86,2368.47 L316.36,2371.75 L316.88,2375.00 L317.41,2378.19 L317.96,2381.32 L318.53,2384.39 L319.11,2387.39 L319.71,2390.30 L320.33,2393.13 L320.97,2395.87 L321.62,2398.50 L322.29,2401.03 L322.98,2403.44 L323.69,2405.72 L324.41,2407.88 L325.16,2409.90 L325.92,2411.78 L326.71,2413.51 L327.51,2415.08 L328.34,2416.49 L329.19,2417.73 L330.07,2418.79 L330.97,2419.67 L331.91,2420.35 L332.84,2420.81 L333.16,2420.19 L332.28,2419.75 L331.44,2419.12 L330.60,2418.30 L329.78,2417.29 L328.98,2416.09 L328.19,2414.72 L327.41,2413.17 L326.65,2411.47 L325.92,2409.61 L325.20,2407.61 L324.50,2405.47 L323.81,2403.19 L323.15,2400.79 L322.50,2398.28 L321.87,2395.65 L321.26,2392.93 L320.67,2390.10 L320.10,2387.20 L319.54,2384.21 L319.00,2381.14 L318.48,2378.01 L317.98,2374.82 L317.49,2371.58 L317.02,2368.30 L316.56,2364.98 L316.12,2361.63 L315.70,2358.25 L315.29,2354.86 L314.90,2351.46 L314.52,2348.06 L314.16,2344.66 L313.82,2341.28 L313.49,2337.92 L313.17,2334.59 L312.87,2331.29 L312.58,2328.03 L312.31,2324.82 L312.05,2321.66 L311.80,2318.57 L311.57,2315.55 L311.35,2312.61 L311.15,2309.75 L310.95,2306.99 L310.77,2304.32 L310.60,2301.76 L310.45,2299.31 L310.31,2296.98 L310.17,2294.78 L310.05,2292.72 L309.95,2290.79 L309.85,2289.02 L309.76,2287.40 L309.69,2285.95 L309.62,2284.67 L309.57,2283.56 L309.53,2282.64 L309.49,2281.91 L309.47,2281.39 L309.45,2281.06 L309.45,2280.96Z" fill="#5a84cc"/><path d="M307.55,2281.01 L307.55,2281.16 L307.56,2281.60 L307.57,2282.32 L307.59,2283.32 L307.61,2284.57 L307.64,2286.08 L307.67,2287.83 L307.71,2289.81 L307.75,2292.01 L307.80,2294.43 L307.85,2297.05 L307.91,2299.86 L307.98,2302.86 L308.05,2306.03 L308.12,2309.37 L308.20,2312.86 L308.29,2316.49 L308.38,2320.26 L308.48,2324.16 L308.58,2328.17 L308.69,2332.28 L308.80,2336.49 L308.92,2340.79 L309.04,2345.16 L309.18,2349.60 L309.31,2354.10 L309.45,2358.64 L309.60,2363.22 L309.76,2367.83 L309.92,2372.46 L310.08,2377.09 L310.25,2381.72 L310.43,2386.35 L310.62,2390.94 L310.81,2395.51 L311.00,2400.04 L311.21,2404.52 L311.41,2408.93 L311.63,2413.28 L311.85,2417.54 L312.08,2421.72 L312.31,2425.80 L312.55,2429.77 L312.80,2433.61 L313.05,2437.34 L313.31,2440.92 L313.58,2444.35 L313.85,2447.63 L314.13,2450.74 L314.42,2453.67 L314.71,2456.41 L315.01,2458.96 L315.32,2461.30 L315.63,2463.43 L315.95,2465.33 L316.28,2467.00 L316.62,2468.43 L316.97,2469.61 L317.33,2470.53 L317.70,2471.17 L318.30,2470.83 L317.97,2470.24 L317.64,2469.38 L317.31,2468.25 L316.99,2466.85 L316.68,2465.20 L316.37,2463.31 L316.07,2461.20 L315.78,2458.87 L315.50,2456.33 L315.23,2453.59 L314.96,2450.66 L314.70,2447.56 L314.45,2444.28 L314.20,2440.85 L313.97,2437.27 L313.74,2433.56 L313.51,2429.71 L313.30,2425.74 L313.09,2421.67 L312.89,2417.49 L312.70,2413.23 L312.51,2408.88 L312.33,2404.47 L312.15,2399.99 L311.98,2395.47 L311.82,2390.90 L311.67,2386.30 L311.52,2381.68 L311.38,2377.05 L311.24,2372.42 L311.11,2367.79 L310.98,2363.18 L310.86,2358.60 L310.75,2354.06 L310.64,2349.56 L310.54,2345.12 L310.44,2340.75 L310.35,2336.46 L310.26,2332.24 L310.18,2328.13 L310.10,2324.12 L310.03,2320.23 L309.96,2316.46 L309.90,2312.82 L309.84,2309.33 L309.79,2306.00 L309.74,2302.83 L309.69,2299.83 L309.65,2297.02 L309.62,2294.40 L309.58,2291.98 L309.55,2289.78 L309.53,2287.80 L309.51,2286.05 L309.49,2284.54 L309.48,2283.29 L309.46,2282.30 L309.46,2281.58 L309.45,2281.14 L309.45,2280.99Z" fill="#5a84cc"/><path d="M355.05,2485.07 L355.05,2485.10 L355.06,2485.19 L355.08,2485.34 L355.09,2485.54 L355.12,2485.79 L355.15,2486.10 L355.18,2486.46 L355.22,2486.86 L355.26,2487.31 L355.31,2487.80 L355.37,2488.33 L355.43,2488.90 L355.50,2489.51 L355.57,2490.16 L355.65,2490.83 L355.73,2491.54 L355.82,2492.28 L355.92,2493.04 L356.02,2493.83 L356.12,2494.65 L356.24,2495.48 L356.35,2496.34 L356.48,2497.21 L356.61,2498.10 L356.75,2499.00 L356.89,2499.91 L357.04,2500.83 L357.19,2501.76 L357.35,2502.70 L357.52,2503.64 L357.70,2504.58 L357.88,2505.52 L358.06,2506.46 L358.26,2507.39 L358.46,2508.32 L358.66,2509.24 L358.87,2510.15 L359.09,2511.05 L359.32,2511.93 L359.55,2512.80 L359.79,2513.65 L360.04,2514.48 L360.29,2515.29 L360.56,2516.07 L360.82,2516.83 L361.10,2517.56 L361.38,2518.26 L361.67,2518.93 L361.97,2519.57 L362.28,2520.17 L362.59,2520.74 L362.92,2521.27 L363.25,2521.75 L363.59,2522.20 L363.95,2522.60 L364.31,2522.95 L364.69,2523.26 L365.09,2523.51 L365.49,2523.70 L365.89,2523.83 L366.11,2523.17 L365.77,2523.05 L365.45,2522.88 L365.13,2522.66 L364.82,2522.40 L364.51,2522.08 L364.20,2521.71 L363.90,2521.30 L363.60,2520.84 L363.31,2520.33 L363.03,2519.79 L362.76,2519.20 L362.49,2518.58 L362.23,2517.92 L361.97,2517.24 L361.72,2516.52 L361.48,2515.77 L361.25,2514.99 L361.02,2514.19 L360.81,2513.37 L360.59,2512.53 L360.39,2511.67 L360.19,2510.79 L360.00,2509.90 L359.82,2508.99 L359.64,2508.08 L359.47,2507.15 L359.31,2506.22 L359.15,2505.29 L359.00,2504.35 L358.85,2503.42 L358.71,2502.48 L358.58,2501.55 L358.46,2500.62 L358.33,2499.70 L358.22,2498.79 L358.11,2497.90 L358.01,2497.01 L357.91,2496.14 L357.82,2495.29 L357.73,2494.46 L357.65,2493.65 L357.57,2492.86 L357.50,2492.10 L357.43,2491.36 L357.37,2490.66 L357.31,2489.98 L357.26,2489.34 L357.21,2488.74 L357.17,2488.17 L357.13,2487.64 L357.09,2487.15 L357.06,2486.70 L357.03,2486.30 L357.01,2485.95 L356.99,2485.65 L356.97,2485.40 L356.96,2485.20 L356.95,2485.05 L356.95,2484.96 L356.95,2484.93Z" fill="#5a84cc"/><path d="M355.05,2485.04 L355.05,2485.09 L355.06,2485.25 L355.07,2485.51 L355.09,2485.86 L355.12,2486.31 L355.14,2486.85 L355.18,2487.48 L355.22,2488.19 L355.26,2488.98 L355.31,2489.85 L355.37,2490.78 L355.43,2491.79 L355.50,2492.87 L355.57,2494.00 L355.65,2495.20 L355.73,2496.45 L355.82,2497.75 L355.92,2499.10 L356.02,2500.49 L356.12,2501.93 L356.24,2503.40 L356.36,2504.91 L356.48,2506.45 L356.61,2508.01 L356.75,2509.60 L356.89,2511.21 L357.04,2512.84 L357.19,2514.48 L357.36,2516.13 L357.52,2517.79 L357.70,2519.45 L357.88,2521.11 L358.06,2522.76 L358.26,2524.41 L358.46,2526.04 L358.66,2527.67 L358.88,2529.27 L359.10,2530.85 L359.32,2532.41 L359.55,2533.94 L359.79,2535.43 L360.04,2536.89 L360.29,2538.32 L360.55,2539.70 L360.82,2541.03 L361.09,2542.32 L361.37,2543.55 L361.66,2544.73 L361.96,2545.84 L362.26,2546.90 L362.57,2547.89 L362.89,2548.81 L363.22,2549.65 L363.55,2550.43 L363.90,2551.12 L364.25,2551.74 L364.62,2552.27 L365.01,2552.71 L365.42,2553.06 L365.82,2553.30 L366.18,2552.70 L365.84,2552.49 L365.52,2552.21 L365.20,2551.83 L364.88,2551.35 L364.56,2550.77 L364.24,2550.11 L363.94,2549.37 L363.63,2548.54 L363.34,2547.64 L363.05,2546.67 L362.77,2545.63 L362.50,2544.52 L362.23,2543.35 L361.98,2542.13 L361.73,2540.85 L361.49,2539.52 L361.25,2538.15 L361.03,2536.73 L360.81,2535.28 L360.59,2533.78 L360.39,2532.26 L360.19,2530.70 L360.00,2529.13 L359.82,2527.53 L359.64,2525.91 L359.47,2524.27 L359.30,2522.63 L359.15,2520.98 L359.00,2519.32 L358.85,2517.66 L358.71,2516.01 L358.58,2514.36 L358.45,2512.72 L358.33,2511.10 L358.22,2509.49 L358.11,2507.90 L358.01,2506.34 L357.91,2504.80 L357.82,2503.29 L357.73,2501.82 L357.65,2500.39 L357.57,2498.99 L357.50,2497.65 L357.43,2496.35 L357.37,2495.10 L357.31,2493.90 L357.26,2492.77 L357.21,2491.70 L357.17,2490.69 L357.13,2489.76 L357.09,2488.89 L357.06,2488.10 L357.03,2487.40 L357.01,2486.77 L356.99,2486.23 L356.98,2485.78 L356.96,2485.43 L356.96,2485.17 L356.95,2485.02 L356.95,2484.96Z" fill="#5a84cc"/><path d="M239.30,2231.00 L239.33,2248.65 L239.37,2266.30 L239.40,2283.95 L239.44,2301.60 L239.47,2319.25 L239.50,2336.90 L239.54,2354.55 L239.57,2372.20 L239.60,2389.85 L239.64,2407.50 L239.67,2425.15 L239.71,2442.80 L239.74,2460.45 L239.77,2478.10 L239.81,2495.75 L239.84,2513.40 L239.88,2531.05 L239.91,2548.70 L239.94,2566.35 L239.98,2584.00 L240.07,2584.67 L240.32,2585.27 L240.72,2585.78 L241.23,2586.17 L241.83,2586.43 L242.50,2586.52 L251.00,2586.50 L251.00,2585.50 L242.50,2585.48 L242.11,2585.43 L241.75,2585.28 L241.45,2585.05 L241.22,2584.74 L241.07,2584.39 L241.02,2584.00 L241.06,2566.35 L241.09,2548.70 L241.12,2531.05 L241.16,2513.40 L241.19,2495.75 L241.23,2478.10 L241.26,2460.45 L241.29,2442.80 L241.33,2425.15 L241.36,2407.50 L241.40,2389.85 L241.43,2372.20 L241.46,2354.55 L241.50,2336.90 L241.53,2319.25 L241.56,2301.60 L241.60,2283.95 L241.63,2266.30 L241.67,2248.65 L241.70,2231.00Z" fill="#4a86d0"/><path d="M288.05,2600.03 L288.05,2600.10 L288.06,2600.31 L288.07,2600.65 L288.09,2601.12 L288.12,2601.71 L288.14,2602.42 L288.18,2603.24 L288.22,2604.18 L288.26,2605.21 L288.31,2606.35 L288.37,2607.59 L288.43,2608.91 L288.50,2610.33 L288.57,2611.82 L288.65,2613.39 L288.73,2615.04 L288.82,2616.75 L288.92,2618.53 L289.02,2620.36 L289.12,2622.25 L289.24,2624.19 L289.36,2626.17 L289.48,2628.20 L289.61,2630.26 L289.75,2632.35 L289.89,2634.47 L290.04,2636.61 L290.20,2638.77 L290.36,2640.94 L290.52,2643.12 L290.70,2645.30 L290.88,2647.49 L291.07,2649.66 L291.26,2651.83 L291.46,2653.98 L291.66,2656.12 L291.88,2658.23 L292.10,2660.31 L292.32,2662.35 L292.55,2664.37 L292.79,2666.33 L293.04,2668.26 L293.29,2670.13 L293.55,2671.94 L293.82,2673.70 L294.09,2675.39 L294.37,2677.01 L294.66,2678.55 L294.95,2680.02 L295.26,2681.40 L295.56,2682.70 L295.88,2683.91 L296.21,2685.02 L296.54,2686.03 L296.88,2686.94 L297.24,2687.74 L297.60,2688.43 L297.98,2689.00 L298.38,2689.46 L298.78,2689.78 L299.22,2689.22 L298.87,2688.96 L298.55,2688.58 L298.22,2688.06 L297.90,2687.42 L297.57,2686.66 L297.25,2685.78 L296.94,2684.80 L296.64,2683.70 L296.34,2682.51 L296.05,2681.23 L295.77,2679.85 L295.50,2678.40 L295.24,2676.86 L294.98,2675.24 L294.73,2673.56 L294.49,2671.81 L294.25,2670.00 L294.03,2668.13 L293.81,2666.21 L293.59,2664.25 L293.39,2662.24 L293.19,2660.20 L293.00,2658.12 L292.82,2656.01 L292.64,2653.88 L292.47,2651.73 L292.30,2649.56 L292.15,2647.39 L292.00,2645.21 L291.85,2643.02 L291.71,2640.85 L291.58,2638.68 L291.45,2636.52 L291.33,2634.38 L291.22,2632.26 L291.11,2630.17 L291.01,2628.11 L290.91,2626.09 L290.81,2624.11 L290.73,2622.17 L290.65,2620.28 L290.57,2618.45 L290.50,2616.67 L290.43,2614.96 L290.37,2613.32 L290.31,2611.75 L290.26,2610.25 L290.21,2608.84 L290.17,2607.52 L290.13,2606.28 L290.09,2605.15 L290.06,2604.11 L290.03,2603.18 L290.01,2602.35 L289.99,2601.64 L289.98,2601.05 L289.96,2600.59 L289.96,2600.25 L289.95,2600.04 L289.95,2599.97Z" fill="#5a84cc"/><path d="M329.55,2703.08 L329.56,2703.14 L329.58,2703.32 L329.60,2703.61 L329.64,2704.00 L329.70,2704.50 L329.76,2705.10 L329.83,2705.80 L329.92,2706.59 L330.02,2707.47 L330.13,2708.43 L330.26,2709.47 L330.40,2710.59 L330.55,2711.79 L330.71,2713.05 L330.88,2714.38 L331.07,2715.76 L331.28,2717.21 L331.49,2718.71 L331.72,2720.26 L331.97,2721.85 L332.22,2723.49 L332.49,2725.17 L332.78,2726.88 L333.08,2728.61 L333.40,2730.38 L333.73,2732.17 L334.07,2733.98 L334.43,2735.80 L334.80,2737.63 L335.19,2739.47 L335.60,2741.32 L336.02,2743.16 L336.45,2745.00 L336.91,2746.83 L337.38,2748.65 L337.86,2750.45 L338.36,2752.23 L338.88,2753.99 L339.41,2755.72 L339.96,2757.42 L340.53,2759.08 L341.12,2760.70 L341.72,2762.29 L342.34,2763.82 L342.98,2765.30 L343.63,2766.73 L344.31,2768.10 L345.00,2769.41 L345.71,2770.66 L346.44,2771.83 L347.19,2772.93 L347.96,2773.95 L348.76,2774.89 L349.57,2775.75 L350.41,2776.51 L351.26,2777.19 L352.15,2777.76 L353.05,2778.23 L353.98,2778.59 L354.91,2778.84 L355.09,2778.16 L354.20,2777.92 L353.36,2777.57 L352.52,2777.12 L351.71,2776.57 L350.91,2775.93 L350.13,2775.19 L349.36,2774.36 L348.61,2773.44 L347.88,2772.44 L347.17,2771.36 L346.47,2770.21 L345.79,2768.98 L345.13,2767.69 L344.49,2766.33 L343.86,2764.92 L343.26,2763.45 L342.67,2761.92 L342.09,2760.35 L341.54,2758.73 L341.00,2757.08 L340.48,2755.39 L339.98,2753.67 L339.49,2751.91 L339.02,2750.14 L338.56,2748.34 L338.12,2746.53 L337.70,2744.71 L337.29,2742.87 L336.90,2741.03 L336.53,2739.20 L336.17,2737.36 L335.82,2735.53 L335.49,2733.71 L335.17,2731.91 L334.87,2730.12 L334.58,2728.36 L334.31,2726.63 L334.05,2724.92 L333.80,2723.25 L333.57,2721.62 L333.35,2720.03 L333.15,2718.48 L332.95,2716.98 L332.77,2715.54 L332.60,2714.16 L332.45,2712.83 L332.30,2711.57 L332.17,2710.39 L332.05,2709.27 L331.94,2708.23 L331.85,2707.27 L331.76,2706.40 L331.69,2705.61 L331.62,2704.92 L331.57,2704.32 L331.52,2703.83 L331.49,2703.43 L331.47,2703.15 L331.45,2702.98 L331.45,2702.92Z" fill="#5a84cc"/><path d="M329.55,2703.04 L329.56,2703.15 L329.57,2703.49 L329.59,2704.03 L329.63,2704.79 L329.67,2705.74 L329.73,2706.89 L329.79,2708.22 L329.86,2709.73 L329.95,2711.41 L330.04,2713.25 L330.15,2715.24 L330.27,2717.38 L330.39,2719.66 L330.53,2722.07 L330.68,2724.61 L330.84,2727.26 L331.01,2730.03 L331.20,2732.90 L331.39,2735.86 L331.60,2738.91 L331.81,2742.04 L332.04,2745.24 L332.29,2748.51 L332.54,2751.84 L332.80,2755.22 L333.08,2758.64 L333.37,2762.09 L333.68,2765.58 L333.99,2769.08 L334.32,2772.60 L334.66,2776.13 L335.02,2779.65 L335.38,2783.16 L335.76,2786.66 L336.16,2790.14 L336.57,2793.58 L336.99,2796.99 L337.42,2800.35 L337.87,2803.65 L338.33,2806.90 L338.81,2810.08 L339.30,2813.18 L339.80,2816.20 L340.32,2819.13 L340.86,2821.96 L341.40,2824.69 L341.97,2827.30 L342.54,2829.80 L343.14,2832.16 L343.75,2834.40 L344.37,2836.49 L345.01,2838.44 L345.67,2840.22 L346.34,2841.85 L347.03,2843.31 L347.75,2844.59 L348.48,2845.69 L349.24,2846.60 L350.03,2847.31 L350.82,2847.80 L351.18,2847.20 L350.45,2846.75 L349.76,2846.11 L349.06,2845.26 L348.38,2844.21 L347.70,2842.97 L347.04,2841.55 L346.39,2839.95 L345.76,2838.18 L345.14,2836.25 L344.54,2834.18 L343.95,2831.96 L343.38,2829.60 L342.83,2827.11 L342.29,2824.51 L341.77,2821.79 L341.26,2818.96 L340.76,2816.04 L340.29,2813.02 L339.82,2809.93 L339.37,2806.75 L338.94,2803.51 L338.52,2800.21 L338.11,2796.85 L337.72,2793.45 L337.34,2790.01 L336.97,2786.53 L336.62,2783.04 L336.29,2779.52 L335.96,2776.00 L335.65,2772.48 L335.35,2768.96 L335.06,2765.46 L334.79,2761.98 L334.53,2758.52 L334.28,2755.10 L334.04,2751.73 L333.81,2748.40 L333.60,2745.14 L333.39,2741.93 L333.20,2738.81 L333.02,2735.76 L332.85,2732.80 L332.69,2729.93 L332.54,2727.17 L332.40,2724.51 L332.27,2721.98 L332.15,2719.57 L332.05,2717.29 L331.95,2715.15 L331.86,2713.16 L331.78,2711.32 L331.71,2709.65 L331.65,2708.14 L331.59,2706.81 L331.55,2705.67 L331.51,2704.71 L331.48,2703.96 L331.46,2703.41 L331.45,2703.08 L331.45,2702.96Z" fill="#5a84cc"/><path d="M329.55,2703.02 L329.55,2703.18 L329.57,2703.66 L329.59,2704.43 L329.62,2705.50 L329.67,2706.85 L329.72,2708.46 L329.78,2710.34 L329.85,2712.47 L329.93,2714.84 L330.02,2717.43 L330.12,2720.25 L330.23,2723.27 L330.36,2726.49 L330.49,2729.89 L330.63,2733.47 L330.78,2737.22 L330.95,2741.12 L331.12,2745.17 L331.31,2749.35 L331.50,2753.66 L331.71,2758.08 L331.93,2762.60 L332.16,2767.21 L332.40,2771.91 L332.66,2776.67 L332.92,2781.50 L333.20,2786.38 L333.49,2791.30 L333.79,2796.25 L334.10,2801.22 L334.43,2806.19 L334.77,2811.17 L335.12,2816.13 L335.48,2821.06 L335.85,2825.97 L336.24,2830.83 L336.64,2835.64 L337.06,2840.38 L337.48,2845.05 L337.92,2849.63 L338.38,2854.11 L338.84,2858.49 L339.33,2862.75 L339.82,2866.88 L340.33,2870.88 L340.85,2874.73 L341.38,2878.42 L341.93,2881.93 L342.50,2885.27 L343.08,2888.42 L343.67,2891.37 L344.28,2894.11 L344.90,2896.63 L345.54,2898.92 L346.19,2900.96 L346.86,2902.76 L347.56,2904.30 L348.27,2905.57 L349.01,2906.57 L349.76,2907.26 L350.24,2906.74 L349.54,2906.11 L348.87,2905.19 L348.20,2903.98 L347.54,2902.49 L346.89,2900.72 L346.26,2898.70 L345.64,2896.44 L345.04,2893.93 L344.45,2891.21 L343.88,2888.27 L343.32,2885.13 L342.78,2881.80 L342.25,2878.29 L341.74,2874.61 L341.24,2870.76 L340.76,2866.77 L340.29,2862.64 L339.83,2858.39 L339.39,2854.01 L338.96,2849.53 L338.55,2844.95 L338.15,2840.29 L337.77,2835.55 L337.39,2830.74 L337.03,2825.88 L336.69,2820.98 L336.35,2816.04 L336.03,2811.08 L335.72,2806.11 L335.43,2801.13 L335.14,2796.17 L334.87,2791.22 L334.61,2786.30 L334.36,2781.43 L334.13,2776.60 L333.90,2771.83 L333.69,2767.14 L333.48,2762.53 L333.29,2758.01 L333.11,2753.59 L332.94,2749.28 L332.77,2745.10 L332.62,2741.06 L332.48,2737.15 L332.35,2733.41 L332.23,2729.83 L332.12,2726.42 L332.01,2723.21 L331.92,2720.19 L331.84,2717.37 L331.76,2714.78 L331.69,2712.41 L331.64,2710.29 L331.58,2708.41 L331.54,2706.79 L331.51,2705.45 L331.48,2704.38 L331.46,2703.61 L331.45,2703.14 L331.45,2702.98Z" fill="#5a84cc"/><path d="M329.55,2703.01 L329.55,2703.22 L329.56,2703.83 L329.57,2704.83 L329.59,2706.22 L329.61,2707.96 L329.64,2710.06 L329.67,2712.49 L329.71,2715.25 L329.75,2718.32 L329.80,2721.69 L329.85,2725.33 L329.91,2729.25 L329.98,2733.42 L330.05,2737.84 L330.12,2742.48 L330.20,2747.34 L330.29,2752.40 L330.38,2757.65 L330.48,2763.07 L330.58,2768.65 L330.69,2774.38 L330.80,2780.24 L330.92,2786.22 L331.04,2792.31 L331.18,2798.49 L331.31,2804.75 L331.45,2811.07 L331.60,2817.45 L331.76,2823.87 L331.92,2830.31 L332.08,2836.76 L332.25,2843.20 L332.43,2849.64 L332.62,2856.04 L332.81,2862.40 L333.00,2868.70 L333.21,2874.93 L333.41,2881.08 L333.63,2887.13 L333.85,2893.07 L334.08,2898.88 L334.31,2904.56 L334.55,2910.08 L334.80,2915.44 L335.05,2920.61 L335.31,2925.60 L335.58,2930.38 L335.85,2934.94 L336.13,2939.27 L336.42,2943.34 L336.71,2947.16 L337.01,2950.71 L337.32,2953.96 L337.63,2956.92 L337.95,2959.56 L338.28,2961.88 L338.61,2963.86 L338.96,2965.48 L339.31,2966.75 L339.68,2967.63 L340.32,2967.37 L339.98,2966.53 L339.65,2965.32 L339.32,2963.73 L339.00,2961.77 L338.68,2959.47 L338.37,2956.84 L338.08,2953.89 L337.78,2950.64 L337.50,2947.10 L337.23,2943.29 L336.96,2939.21 L336.70,2934.89 L336.45,2930.33 L336.20,2925.55 L335.97,2920.57 L335.74,2915.39 L335.51,2910.04 L335.30,2904.52 L335.09,2898.84 L334.89,2893.03 L334.70,2887.09 L334.51,2881.04 L334.33,2874.90 L334.15,2868.67 L333.98,2862.36 L333.82,2856.01 L333.67,2849.60 L333.52,2843.17 L333.38,2836.73 L333.24,2830.28 L333.11,2823.84 L332.98,2817.42 L332.86,2811.05 L332.75,2804.72 L332.64,2798.46 L332.54,2792.28 L332.44,2786.19 L332.35,2780.21 L332.26,2774.35 L332.18,2768.62 L332.10,2763.04 L332.03,2757.62 L331.96,2752.37 L331.90,2747.31 L331.84,2742.46 L331.79,2737.81 L331.74,2733.40 L331.69,2729.23 L331.65,2725.31 L331.62,2721.66 L331.58,2718.30 L331.55,2715.23 L331.53,2712.47 L331.51,2710.04 L331.49,2707.94 L331.48,2706.20 L331.46,2704.81 L331.46,2703.81 L331.45,2703.20 L331.45,2702.99Z" fill="#5a84cc"/><path d="M329.55,2703.01 L329.55,2703.24 L329.56,2703.93 L329.57,2705.06 L329.59,2706.61 L329.61,2708.57 L329.64,2710.92 L329.67,2713.66 L329.71,2716.76 L329.75,2720.20 L329.80,2723.98 L329.85,2728.07 L329.91,2732.47 L329.98,2737.16 L330.05,2742.12 L330.12,2747.33 L330.20,2752.78 L330.29,2758.46 L330.38,2764.36 L330.48,2770.44 L330.58,2776.71 L330.69,2783.14 L330.80,2789.73 L330.92,2796.44 L331.04,2803.28 L331.18,2810.22 L331.31,2817.25 L331.45,2824.35 L331.60,2831.51 L331.76,2838.71 L331.92,2845.94 L332.08,2853.19 L332.25,2860.43 L332.43,2867.65 L332.62,2874.84 L332.81,2881.98 L333.00,2889.06 L333.21,2896.05 L333.42,2902.96 L333.63,2909.75 L333.85,2916.42 L334.08,2922.94 L334.31,2929.32 L334.55,2935.52 L334.80,2941.53 L335.05,2947.35 L335.31,2952.95 L335.58,2958.31 L335.85,2963.43 L336.13,2968.29 L336.42,2972.87 L336.71,2977.16 L337.01,2981.14 L337.32,2984.79 L337.63,2988.11 L337.95,2991.08 L338.28,2993.68 L338.61,2995.90 L338.96,2997.72 L339.31,2999.14 L339.67,3000.12 L340.33,2999.88 L339.99,2998.94 L339.65,2997.57 L339.32,2995.78 L339.00,2993.58 L338.68,2990.99 L338.38,2988.04 L338.08,2984.73 L337.79,2981.08 L337.50,2977.10 L337.23,2972.82 L336.96,2968.24 L336.70,2963.39 L336.45,2958.27 L336.20,2952.91 L335.97,2947.31 L335.74,2941.50 L335.51,2935.48 L335.30,2929.28 L335.09,2922.91 L334.89,2916.38 L334.70,2909.72 L334.51,2902.92 L334.33,2896.02 L334.15,2889.03 L333.98,2881.95 L333.82,2874.81 L333.67,2867.62 L333.52,2860.40 L333.38,2853.16 L333.24,2845.92 L333.11,2838.69 L332.98,2831.48 L332.86,2824.32 L332.75,2817.22 L332.64,2810.19 L332.54,2803.25 L332.44,2796.42 L332.35,2789.70 L332.26,2783.12 L332.18,2776.69 L332.10,2770.42 L332.03,2764.33 L331.96,2758.44 L331.90,2752.76 L331.84,2747.31 L331.79,2742.09 L331.74,2737.14 L331.69,2732.45 L331.65,2728.05 L331.62,2723.96 L331.58,2720.18 L331.55,2716.74 L331.53,2713.64 L331.51,2710.91 L331.49,2708.55 L331.48,2706.59 L331.46,2705.04 L331.46,2703.91 L331.45,2703.22 L331.45,2702.99Z" fill="#5a84cc"/><path d="M377.55,3013.07 L377.56,3013.10 L377.56,3013.19 L377.58,3013.33 L377.60,3013.52 L377.62,3013.76 L377.65,3014.04 L377.69,3014.38 L377.73,3014.75 L377.77,3015.17 L377.83,3015.63 L377.88,3016.13 L377.95,3016.66 L378.02,3017.23 L378.09,3017.84 L378.17,3018.47 L378.26,3019.13 L378.35,3019.82 L378.45,3020.54 L378.56,3021.28 L378.67,3022.04 L378.79,3022.82 L378.91,3023.62 L379.04,3024.44 L379.18,3025.27 L379.32,3026.11 L379.47,3026.96 L379.62,3027.83 L379.79,3028.70 L379.96,3029.57 L380.13,3030.45 L380.31,3031.33 L380.50,3032.21 L380.70,3033.09 L380.90,3033.96 L381.11,3034.83 L381.32,3035.69 L381.55,3036.54 L381.78,3037.38 L382.01,3038.21 L382.26,3039.02 L382.51,3039.81 L382.77,3040.59 L383.03,3041.35 L383.31,3042.08 L383.59,3042.79 L383.88,3043.48 L384.18,3044.13 L384.48,3044.76 L384.80,3045.36 L385.12,3045.92 L385.45,3046.45 L385.79,3046.95 L386.14,3047.40 L386.50,3047.82 L386.87,3048.19 L387.26,3048.52 L387.65,3048.80 L388.06,3049.04 L388.49,3049.22 L388.90,3049.34 L389.10,3048.66 L388.73,3048.55 L388.40,3048.39 L388.06,3048.19 L387.73,3047.94 L387.40,3047.64 L387.08,3047.29 L386.77,3046.90 L386.46,3046.47 L386.15,3046.00 L385.86,3045.50 L385.57,3044.95 L385.29,3044.37 L385.01,3043.76 L384.74,3043.11 L384.48,3042.44 L384.23,3041.74 L383.99,3041.02 L383.75,3040.27 L383.52,3039.50 L383.30,3038.71 L383.08,3037.91 L382.87,3037.09 L382.67,3036.26 L382.48,3035.41 L382.29,3034.56 L382.11,3033.69 L381.94,3032.82 L381.78,3031.95 L381.62,3031.08 L381.46,3030.20 L381.32,3029.33 L381.18,3028.45 L381.04,3027.59 L380.92,3026.73 L380.79,3025.88 L380.68,3025.04 L380.57,3024.21 L380.47,3023.40 L380.37,3022.60 L380.28,3021.83 L380.19,3021.07 L380.11,3020.33 L380.03,3019.62 L379.96,3018.93 L379.89,3018.27 L379.83,3017.64 L379.78,3017.04 L379.73,3016.48 L379.68,3015.95 L379.64,3015.45 L379.60,3015.00 L379.57,3014.58 L379.54,3014.21 L379.51,3013.88 L379.49,3013.59 L379.48,3013.36 L379.46,3013.17 L379.45,3013.03 L379.45,3012.95 L379.45,3012.93Z" fill="#5a84cc"/><path d="M377.55,3013.04 L377.55,3013.09 L377.56,3013.25 L377.57,3013.51 L377.59,3013.86 L377.62,3014.31 L377.65,3014.84 L377.68,3015.47 L377.72,3016.17 L377.77,3016.95 L377.82,3017.81 L377.88,3018.75 L377.95,3019.75 L378.02,3020.81 L378.09,3021.94 L378.17,3023.12 L378.26,3024.37 L378.35,3025.66 L378.45,3027.00 L378.56,3028.38 L378.67,3029.81 L378.79,3031.27 L378.91,3032.77 L379.04,3034.29 L379.18,3035.85 L379.32,3037.43 L379.47,3039.02 L379.63,3040.64 L379.79,3042.27 L379.96,3043.91 L380.13,3045.55 L380.31,3047.20 L380.50,3048.84 L380.70,3050.49 L380.90,3052.12 L381.11,3053.75 L381.33,3055.36 L381.55,3056.95 L381.78,3058.52 L382.01,3060.06 L382.26,3061.58 L382.51,3063.07 L382.77,3064.52 L383.03,3065.93 L383.30,3067.30 L383.58,3068.62 L383.87,3069.90 L384.16,3071.12 L384.47,3072.29 L384.78,3073.40 L385.09,3074.45 L385.42,3075.43 L385.75,3076.35 L386.10,3077.19 L386.45,3077.95 L386.81,3078.64 L387.19,3079.25 L387.58,3079.78 L387.98,3080.22 L388.41,3080.57 L388.83,3080.81 L389.17,3080.19 L388.81,3079.99 L388.48,3079.71 L388.14,3079.33 L387.80,3078.85 L387.47,3078.28 L387.14,3077.62 L386.81,3076.89 L386.49,3076.07 L386.18,3075.17 L385.88,3074.21 L385.59,3073.17 L385.30,3072.08 L385.02,3070.92 L384.75,3069.70 L384.49,3068.43 L384.24,3067.12 L383.99,3065.75 L383.75,3064.35 L383.52,3062.90 L383.30,3061.42 L383.08,3059.91 L382.87,3058.36 L382.67,3056.80 L382.48,3055.21 L382.29,3053.60 L382.11,3051.98 L381.94,3050.35 L381.77,3048.71 L381.61,3047.06 L381.46,3045.42 L381.31,3043.78 L381.17,3042.14 L381.04,3040.51 L380.91,3038.90 L380.79,3037.30 L380.68,3035.73 L380.57,3034.17 L380.46,3032.65 L380.37,3031.15 L380.27,3029.69 L380.19,3028.27 L380.11,3026.89 L380.03,3025.55 L379.96,3024.26 L379.89,3023.02 L379.83,3021.84 L379.78,3020.71 L379.73,3019.65 L379.68,3018.65 L379.64,3017.72 L379.60,3016.86 L379.57,3016.08 L379.54,3015.37 L379.51,3014.75 L379.49,3014.22 L379.48,3013.78 L379.47,3013.42 L379.46,3013.17 L379.45,3013.01 L379.45,3012.96Z" fill="#5a84cc"/><path d="M377.55,3013.01 L377.55,3013.28 L377.56,3014.07 L377.57,3015.37 L377.59,3017.17 L377.62,3019.43 L377.65,3022.15 L377.68,3025.31 L377.72,3028.88 L377.77,3032.86 L377.82,3037.23 L377.88,3041.96 L377.95,3047.04 L378.02,3052.45 L378.09,3058.17 L378.17,3064.19 L378.26,3070.49 L378.35,3077.05 L378.45,3083.86 L378.56,3090.89 L378.67,3098.13 L378.79,3105.55 L378.91,3113.16 L379.04,3120.91 L379.18,3128.81 L379.32,3136.82 L379.47,3144.94 L379.63,3153.14 L379.79,3161.41 L379.96,3169.73 L380.14,3178.08 L380.32,3186.45 L380.51,3194.81 L380.70,3203.15 L380.90,3211.45 L381.11,3219.70 L381.33,3227.87 L381.55,3235.95 L381.78,3243.92 L382.02,3251.77 L382.26,3259.47 L382.51,3267.01 L382.77,3274.37 L383.03,3281.53 L383.30,3288.47 L383.58,3295.19 L383.87,3301.65 L384.16,3307.85 L384.46,3313.76 L384.77,3319.37 L385.08,3324.66 L385.41,3329.61 L385.74,3334.21 L386.07,3338.43 L386.42,3342.26 L386.77,3345.69 L387.13,3348.69 L387.50,3351.25 L387.88,3353.35 L388.27,3354.98 L388.67,3356.12 L389.33,3355.88 L388.95,3354.79 L388.58,3353.21 L388.21,3351.14 L387.85,3348.60 L387.51,3345.61 L387.17,3342.19 L386.83,3338.37 L386.51,3334.15 L386.20,3329.56 L385.89,3324.61 L385.60,3319.33 L385.31,3313.72 L385.03,3307.81 L384.76,3301.62 L384.49,3295.15 L384.24,3288.44 L383.99,3281.49 L383.75,3274.33 L383.52,3266.97 L383.30,3259.44 L383.08,3251.74 L382.87,3243.89 L382.67,3235.92 L382.48,3227.84 L382.29,3219.67 L382.11,3211.42 L381.94,3203.12 L381.77,3194.78 L381.61,3186.42 L381.46,3178.06 L381.31,3169.71 L381.17,3161.39 L381.04,3153.12 L380.91,3144.92 L380.79,3136.80 L380.68,3128.78 L380.57,3120.89 L380.46,3113.13 L380.37,3105.53 L380.27,3098.10 L380.19,3090.87 L380.11,3083.84 L380.03,3077.03 L379.96,3070.47 L379.89,3064.17 L379.83,3058.15 L379.78,3052.43 L379.73,3047.02 L379.68,3041.94 L379.64,3037.21 L379.60,3032.84 L379.57,3028.87 L379.54,3025.29 L379.52,3022.13 L379.49,3019.41 L379.48,3017.15 L379.47,3015.36 L379.46,3014.05 L379.45,3013.26 L379.45,3012.99Z" fill="#5a84cc"/><path d="M377.55,3013.01 L377.55,3013.30 L377.56,3014.17 L377.57,3015.59 L377.59,3017.55 L377.62,3020.02 L377.65,3022.99 L377.68,3026.44 L377.72,3030.34 L377.77,3034.69 L377.82,3039.45 L377.88,3044.61 L377.95,3050.16 L378.02,3056.07 L378.09,3062.32 L378.17,3068.89 L378.26,3075.77 L378.35,3082.93 L378.45,3090.36 L378.56,3098.04 L378.67,3105.94 L378.79,3114.05 L378.91,3122.35 L379.04,3130.82 L379.18,3139.44 L379.32,3148.19 L379.47,3157.06 L379.63,3166.01 L379.79,3175.04 L379.96,3184.12 L380.14,3193.24 L380.32,3202.37 L380.51,3211.50 L380.70,3220.61 L380.90,3229.67 L381.11,3238.68 L381.33,3247.60 L381.55,3256.42 L381.78,3265.13 L382.02,3273.69 L382.26,3282.10 L382.51,3290.33 L382.77,3298.37 L383.03,3306.19 L383.30,3313.77 L383.58,3321.10 L383.87,3328.16 L384.16,3334.93 L384.46,3341.38 L384.77,3347.51 L385.08,3353.28 L385.41,3358.69 L385.74,3363.70 L386.07,3368.31 L386.42,3372.50 L386.77,3376.23 L387.13,3379.51 L387.50,3382.30 L387.88,3384.59 L388.27,3386.37 L388.67,3387.61 L389.33,3387.39 L388.95,3386.20 L388.58,3384.46 L388.21,3382.20 L387.85,3379.42 L387.51,3376.16 L387.17,3372.43 L386.83,3368.25 L386.51,3363.65 L386.20,3358.64 L385.89,3353.24 L385.60,3347.46 L385.31,3341.34 L385.03,3334.89 L384.76,3328.12 L384.49,3321.07 L384.24,3313.74 L383.99,3306.15 L383.75,3298.33 L383.52,3290.30 L383.30,3282.07 L383.08,3273.66 L382.87,3265.10 L382.67,3256.40 L382.48,3247.57 L382.29,3238.65 L382.11,3229.65 L381.94,3220.58 L381.77,3211.48 L381.61,3202.35 L381.46,3193.22 L381.31,3184.10 L381.17,3175.02 L381.04,3165.99 L380.91,3157.03 L380.79,3148.17 L380.68,3139.42 L380.57,3130.80 L380.46,3122.33 L380.37,3114.03 L380.27,3105.92 L380.19,3098.02 L380.11,3090.34 L380.03,3082.91 L379.96,3075.75 L379.89,3068.87 L379.83,3062.30 L379.78,3056.05 L379.73,3050.14 L379.68,3044.60 L379.64,3039.43 L379.60,3034.67 L379.57,3030.32 L379.54,3026.42 L379.52,3022.97 L379.49,3020.00 L379.48,3017.53 L379.47,3015.57 L379.46,3014.15 L379.45,3013.29 L379.45,3012.99Z" fill="#5a84cc"/><path d="M377.55,3013.01 L377.55,3013.32 L377.56,3014.26 L377.57,3015.81 L377.59,3017.93 L377.62,3020.61 L377.65,3023.83 L377.68,3027.56 L377.72,3031.80 L377.77,3036.51 L377.82,3041.67 L377.88,3047.27 L377.95,3053.28 L378.02,3059.69 L378.09,3066.46 L378.17,3073.59 L378.26,3081.05 L378.35,3088.81 L378.45,3096.87 L378.56,3105.19 L378.67,3113.76 L378.79,3122.55 L378.91,3131.55 L379.04,3140.73 L379.18,3150.08 L379.32,3159.56 L379.47,3169.17 L379.63,3178.88 L379.79,3188.67 L379.96,3198.51 L380.14,3208.40 L380.32,3218.30 L380.51,3228.20 L380.70,3238.07 L380.90,3247.90 L381.11,3257.66 L381.33,3267.33 L381.55,3276.90 L381.78,3286.33 L382.02,3295.62 L382.26,3304.73 L382.51,3313.66 L382.77,3322.37 L383.03,3330.84 L383.30,3339.07 L383.58,3347.01 L383.87,3354.67 L384.16,3362.00 L384.46,3369.00 L384.77,3375.64 L385.08,3381.90 L385.41,3387.76 L385.74,3393.20 L386.07,3398.19 L386.42,3402.73 L386.77,3406.78 L387.13,3410.33 L387.50,3413.36 L387.88,3415.84 L388.27,3417.77 L388.66,3419.10 L389.34,3418.90 L388.95,3417.60 L388.58,3415.72 L388.21,3413.26 L387.86,3410.25 L387.51,3406.71 L387.17,3402.67 L386.83,3398.14 L386.51,3393.15 L386.20,3387.71 L385.89,3381.86 L385.60,3375.60 L385.31,3368.96 L385.03,3361.97 L384.76,3354.63 L384.49,3346.98 L384.24,3339.04 L383.99,3330.81 L383.75,3322.34 L383.52,3313.63 L383.30,3304.71 L383.08,3295.59 L382.87,3286.31 L382.67,3276.87 L382.48,3267.31 L382.29,3257.63 L382.11,3247.87 L381.94,3238.05 L381.77,3228.17 L381.61,3218.28 L381.46,3208.38 L381.31,3198.49 L381.17,3188.65 L381.04,3178.86 L380.91,3169.15 L380.79,3159.54 L380.68,3150.06 L380.57,3140.71 L380.46,3131.53 L380.37,3122.53 L380.27,3113.74 L380.19,3105.17 L380.11,3096.85 L380.03,3088.80 L379.96,3081.03 L379.89,3073.57 L379.83,3066.45 L379.78,3059.67 L379.73,3053.27 L379.68,3047.25 L379.64,3041.66 L379.60,3036.49 L379.57,3031.78 L379.54,3027.55 L379.52,3023.81 L379.49,3020.59 L379.48,3017.91 L379.47,3015.79 L379.46,3014.25 L379.45,3013.31 L379.45,3012.99Z" fill="#5a84cc"/><path d="M377.55,3013.00 L377.55,3013.44 L377.56,3014.74 L377.57,3016.87 L377.59,3019.79 L377.62,3023.49 L377.65,3027.94 L377.68,3033.09 L377.72,3038.93 L377.77,3045.43 L377.82,3052.56 L377.88,3060.29 L377.95,3068.58 L378.02,3077.42 L378.09,3086.77 L378.17,3096.61 L378.26,3106.90 L378.35,3117.61 L378.45,3128.73 L378.56,3140.21 L378.67,3152.03 L378.79,3164.17 L378.91,3176.58 L379.04,3189.25 L379.18,3202.15 L379.32,3215.24 L379.47,3228.50 L379.63,3241.89 L379.79,3255.40 L379.96,3268.99 L380.14,3282.63 L380.32,3296.29 L380.51,3309.95 L380.70,3323.57 L380.90,3337.13 L381.11,3350.60 L381.33,3363.95 L381.55,3377.15 L381.78,3390.17 L382.02,3402.98 L382.26,3415.56 L382.51,3427.87 L382.77,3439.89 L383.03,3451.59 L383.30,3462.94 L383.58,3473.90 L383.87,3484.46 L384.16,3494.58 L384.46,3504.24 L384.77,3513.40 L385.08,3522.04 L385.41,3530.12 L385.74,3537.63 L386.07,3544.52 L386.42,3550.78 L386.77,3556.37 L387.13,3561.26 L387.50,3565.43 L387.88,3568.85 L388.26,3571.49 L388.66,3573.32 L389.34,3573.18 L388.96,3571.37 L388.58,3568.76 L388.21,3565.36 L387.86,3561.20 L387.51,3556.32 L387.17,3550.73 L386.83,3544.48 L386.51,3537.59 L386.20,3530.09 L385.89,3522.01 L385.60,3513.37 L385.31,3504.21 L385.03,3494.56 L384.76,3484.44 L384.49,3473.88 L384.24,3462.92 L383.99,3451.57 L383.75,3439.87 L383.52,3427.85 L383.30,3415.54 L383.08,3402.96 L382.87,3390.15 L382.67,3377.13 L382.48,3363.93 L382.29,3350.58 L382.11,3337.12 L381.94,3323.56 L381.77,3309.93 L381.61,3296.28 L381.46,3282.61 L381.31,3268.97 L381.17,3255.39 L381.04,3241.88 L380.91,3228.48 L380.79,3215.22 L380.68,3202.13 L380.57,3189.24 L380.46,3176.57 L380.37,3164.15 L380.27,3152.02 L380.19,3140.20 L380.11,3128.71 L380.03,3117.60 L379.96,3106.88 L379.89,3096.59 L379.83,3086.76 L379.78,3077.41 L379.73,3068.57 L379.68,3060.27 L379.64,3052.55 L379.60,3045.42 L379.57,3038.92 L379.54,3033.08 L379.52,3027.93 L379.49,3023.48 L379.48,3019.78 L379.47,3016.86 L379.46,3014.73 L379.45,3013.43 L379.45,3013.00Z" fill="#5a84cc"/><path d="M477.55,3094.07 L477.56,3094.10 L477.56,3094.19 L477.58,3094.33 L477.60,3094.53 L477.62,3094.78 L477.65,3095.07 L477.69,3095.42 L477.73,3095.81 L477.77,3096.24 L477.82,3096.72 L477.88,3097.23 L477.95,3097.79 L478.02,3098.37 L478.09,3099.00 L478.17,3099.65 L478.26,3100.34 L478.35,3101.05 L478.45,3101.79 L478.56,3102.56 L478.67,3103.35 L478.79,3104.15 L478.91,3104.98 L479.04,3105.83 L479.18,3106.69 L479.32,3107.56 L479.47,3108.44 L479.62,3109.33 L479.79,3110.23 L479.96,3111.14 L480.13,3112.05 L480.31,3112.96 L480.50,3113.87 L480.70,3114.78 L480.90,3115.68 L481.11,3116.58 L481.32,3117.47 L481.55,3118.35 L481.78,3119.22 L482.01,3120.07 L482.26,3120.91 L482.51,3121.73 L482.77,3122.54 L483.03,3123.32 L483.31,3124.08 L483.59,3124.81 L483.88,3125.52 L484.18,3126.20 L484.48,3126.85 L484.79,3127.47 L485.12,3128.05 L485.45,3128.60 L485.79,3129.11 L486.14,3129.58 L486.50,3130.01 L486.87,3130.40 L487.25,3130.74 L487.65,3131.03 L488.06,3131.27 L488.48,3131.46 L488.90,3131.58 L489.10,3130.92 L488.74,3130.80 L488.40,3130.63 L488.07,3130.42 L487.74,3130.16 L487.41,3129.85 L487.09,3129.50 L486.77,3129.10 L486.46,3128.65 L486.16,3128.16 L485.86,3127.64 L485.57,3127.07 L485.29,3126.47 L485.01,3125.84 L484.74,3125.17 L484.49,3124.47 L484.23,3123.75 L483.99,3123.00 L483.75,3122.23 L483.52,3121.43 L483.30,3120.62 L483.08,3119.79 L482.87,3118.94 L482.67,3118.07 L482.48,3117.20 L482.29,3116.31 L482.11,3115.42 L481.94,3114.52 L481.78,3113.62 L481.62,3112.71 L481.46,3111.81 L481.32,3110.90 L481.18,3110.00 L481.04,3109.10 L480.92,3108.21 L480.79,3107.33 L480.68,3106.47 L480.57,3105.61 L480.47,3104.77 L480.37,3103.95 L480.28,3103.14 L480.19,3102.36 L480.11,3101.59 L480.03,3100.86 L479.96,3100.15 L479.89,3099.46 L479.83,3098.81 L479.78,3098.19 L479.73,3097.61 L479.68,3097.06 L479.64,3096.54 L479.60,3096.07 L479.57,3095.64 L479.54,3095.25 L479.51,3094.91 L479.49,3094.62 L479.48,3094.37 L479.46,3094.18 L479.45,3094.04 L479.45,3093.96 L479.45,3093.93Z" fill="#5a84cc"/><path d="M477.55,3094.04 L477.55,3094.09 L477.56,3094.26 L477.57,3094.53 L477.59,3094.90 L477.62,3095.36 L477.65,3095.92 L477.68,3096.57 L477.72,3097.31 L477.77,3098.13 L477.82,3099.02 L477.88,3100.00 L477.95,3101.04 L478.02,3102.15 L478.09,3103.33 L478.17,3104.57 L478.26,3105.87 L478.35,3107.22 L478.45,3108.61 L478.56,3110.06 L478.67,3111.55 L478.79,3113.08 L478.91,3114.64 L479.04,3116.24 L479.18,3117.86 L479.32,3119.51 L479.47,3121.18 L479.63,3122.86 L479.79,3124.56 L479.96,3126.27 L480.13,3127.99 L480.32,3129.71 L480.50,3131.43 L480.70,3133.15 L480.90,3134.85 L481.11,3136.55 L481.33,3138.23 L481.55,3139.89 L481.78,3141.53 L482.01,3143.15 L482.26,3144.73 L482.51,3146.28 L482.77,3147.80 L483.03,3149.27 L483.30,3150.70 L483.58,3152.09 L483.87,3153.42 L484.16,3154.70 L484.46,3155.92 L484.77,3157.08 L485.09,3158.17 L485.42,3159.20 L485.75,3160.15 L486.09,3161.03 L486.45,3161.83 L486.81,3162.55 L487.18,3163.18 L487.57,3163.73 L487.98,3164.19 L488.40,3164.56 L488.82,3164.80 L489.18,3164.20 L488.82,3163.99 L488.48,3163.69 L488.14,3163.29 L487.81,3162.79 L487.47,3162.20 L487.14,3161.51 L486.81,3160.74 L486.50,3159.88 L486.19,3158.95 L485.88,3157.94 L485.59,3156.86 L485.30,3155.71 L485.02,3154.50 L484.75,3153.23 L484.49,3151.91 L484.24,3150.53 L483.99,3149.10 L483.75,3147.64 L483.52,3146.13 L483.30,3144.58 L483.08,3143.00 L482.87,3141.39 L482.67,3139.75 L482.48,3138.09 L482.29,3136.41 L482.11,3134.72 L481.94,3133.01 L481.77,3131.30 L481.61,3129.58 L481.46,3127.86 L481.31,3126.15 L481.17,3124.44 L481.04,3122.74 L480.91,3121.06 L480.79,3119.39 L480.68,3117.74 L480.57,3116.12 L480.46,3114.53 L480.37,3112.97 L480.27,3111.44 L480.19,3109.95 L480.11,3108.51 L480.03,3107.11 L479.96,3105.76 L479.89,3104.47 L479.83,3103.23 L479.78,3102.06 L479.73,3100.95 L479.68,3099.90 L479.64,3098.93 L479.60,3098.04 L479.57,3097.22 L479.54,3096.48 L479.51,3095.84 L479.49,3095.28 L479.48,3094.81 L479.47,3094.45 L479.46,3094.18 L479.45,3094.02 L479.45,3093.96Z" fill="#5a84cc"/><path d="M477.55,3094.03 L477.55,3094.11 L477.56,3094.34 L477.57,3094.73 L477.59,3095.26 L477.62,3095.94 L477.65,3096.75 L477.68,3097.69 L477.72,3098.75 L477.77,3099.94 L477.82,3101.23 L477.88,3102.64 L477.95,3104.15 L478.02,3105.76 L478.09,3107.46 L478.17,3109.26 L478.26,3111.13 L478.35,3113.08 L478.45,3115.10 L478.56,3117.20 L478.67,3119.35 L478.79,3121.56 L478.91,3123.82 L479.04,3126.13 L479.18,3128.48 L479.32,3130.86 L479.47,3133.27 L479.63,3135.71 L479.79,3138.17 L479.96,3140.65 L480.13,3143.13 L480.32,3145.62 L480.50,3148.11 L480.70,3150.59 L480.90,3153.06 L481.11,3155.51 L481.33,3157.94 L481.55,3160.35 L481.78,3162.72 L482.01,3165.05 L482.26,3167.34 L482.51,3169.59 L482.77,3171.78 L483.03,3173.91 L483.30,3175.97 L483.58,3177.97 L483.87,3179.90 L484.16,3181.74 L484.46,3183.51 L484.77,3185.18 L485.09,3186.76 L485.41,3188.23 L485.74,3189.61 L486.08,3190.87 L486.43,3192.02 L486.79,3193.05 L487.16,3193.96 L487.54,3194.74 L487.94,3195.39 L488.35,3195.91 L488.77,3196.27 L489.23,3195.73 L488.87,3195.43 L488.52,3194.99 L488.18,3194.40 L487.83,3193.67 L487.49,3192.79 L487.15,3191.79 L486.82,3190.66 L486.50,3189.42 L486.19,3188.06 L485.89,3186.59 L485.59,3185.02 L485.31,3183.36 L485.03,3181.61 L484.76,3179.77 L484.49,3177.85 L484.24,3175.85 L483.99,3173.79 L483.75,3171.66 L483.52,3169.48 L483.30,3167.24 L483.08,3164.95 L482.87,3162.62 L482.67,3160.25 L482.48,3157.84 L482.29,3155.41 L482.11,3152.96 L481.94,3150.50 L481.77,3148.02 L481.61,3145.53 L481.46,3143.04 L481.31,3140.56 L481.17,3138.09 L481.04,3135.63 L480.91,3133.19 L480.79,3130.78 L480.68,3128.40 L480.57,3126.05 L480.46,3123.74 L480.37,3121.48 L480.27,3119.27 L480.19,3117.12 L480.11,3115.03 L480.03,3113.01 L479.96,3111.06 L479.89,3109.19 L479.83,3107.40 L479.78,3105.69 L479.73,3104.09 L479.68,3102.58 L479.64,3101.17 L479.60,3099.87 L479.57,3098.69 L479.54,3097.63 L479.52,3096.69 L479.49,3095.88 L479.48,3095.21 L479.47,3094.68 L479.46,3094.29 L479.45,3094.05 L479.45,3093.97Z" fill="#5a84cc"/><path d="M477.55,3094.02 L477.55,3094.13 L477.56,3094.44 L477.57,3094.94 L477.59,3095.65 L477.62,3096.53 L477.65,3097.59 L477.68,3098.83 L477.72,3100.23 L477.77,3101.78 L477.82,3103.48 L477.88,3105.33 L477.95,3107.32 L478.02,3109.43 L478.09,3111.67 L478.17,3114.02 L478.26,3116.48 L478.35,3119.05 L478.45,3121.71 L478.56,3124.45 L478.67,3127.28 L478.79,3130.18 L478.91,3133.15 L479.04,3136.18 L479.18,3139.27 L479.32,3142.40 L479.47,3145.57 L479.63,3148.78 L479.79,3152.01 L479.96,3155.26 L480.13,3158.52 L480.32,3161.79 L480.51,3165.06 L480.70,3168.32 L480.90,3171.56 L481.11,3174.78 L481.33,3177.97 L481.55,3181.13 L481.78,3184.25 L482.01,3187.31 L482.26,3190.32 L482.51,3193.27 L482.77,3196.14 L483.03,3198.94 L483.30,3201.66 L483.58,3204.28 L483.87,3206.81 L484.16,3209.23 L484.46,3211.55 L484.77,3213.74 L485.09,3215.81 L485.41,3217.75 L485.74,3219.55 L486.08,3221.20 L486.43,3222.71 L486.78,3224.06 L487.15,3225.24 L487.52,3226.26 L487.91,3227.10 L488.33,3227.77 L488.74,3228.23 L489.26,3227.77 L488.90,3227.36 L488.55,3226.77 L488.19,3225.99 L487.84,3225.01 L487.50,3223.86 L487.16,3222.53 L486.83,3221.04 L486.51,3219.40 L486.19,3217.61 L485.89,3215.69 L485.59,3213.62 L485.31,3211.44 L485.03,3209.13 L484.76,3206.71 L484.49,3204.19 L484.24,3201.57 L483.99,3198.85 L483.75,3196.06 L483.52,3193.18 L483.30,3190.24 L483.08,3187.23 L482.87,3184.17 L482.67,3181.06 L482.48,3177.90 L482.29,3174.71 L482.11,3171.49 L481.94,3168.25 L481.77,3164.99 L481.61,3161.72 L481.46,3158.45 L481.31,3155.19 L481.17,3151.94 L481.04,3148.71 L480.91,3145.51 L480.79,3142.34 L480.68,3139.21 L480.57,3136.12 L480.46,3133.09 L480.37,3130.13 L480.27,3127.22 L480.19,3124.40 L480.11,3121.65 L480.03,3118.99 L479.96,3116.43 L479.89,3113.97 L479.83,3111.62 L479.78,3109.38 L479.73,3107.27 L479.68,3105.28 L479.64,3103.44 L479.60,3101.73 L479.57,3100.18 L479.54,3098.78 L479.52,3097.55 L479.49,3096.49 L479.48,3095.60 L479.47,3094.90 L479.46,3094.39 L479.45,3094.08 L479.45,3093.98Z" fill="#5a84cc"/><path d="M477.55,3094.02 L477.55,3094.15 L477.56,3094.53 L477.57,3095.16 L477.59,3096.03 L477.62,3097.13 L477.65,3098.44 L477.68,3099.97 L477.72,3101.70 L477.77,3103.63 L477.82,3105.74 L477.88,3108.03 L477.95,3110.49 L478.02,3113.11 L478.09,3115.88 L478.17,3118.79 L478.26,3121.84 L478.35,3125.02 L478.45,3128.31 L478.56,3131.71 L478.67,3135.22 L478.79,3138.81 L478.91,3142.49 L479.04,3146.24 L479.18,3150.07 L479.32,3153.95 L479.47,3157.87 L479.63,3161.84 L479.79,3165.85 L479.96,3169.87 L480.14,3173.91 L480.32,3177.96 L480.51,3182.01 L480.70,3186.05 L480.90,3190.07 L481.11,3194.06 L481.33,3198.01 L481.55,3201.92 L481.78,3205.78 L482.02,3209.58 L482.26,3213.31 L482.51,3216.96 L482.77,3220.52 L483.03,3223.99 L483.30,3227.35 L483.58,3230.60 L483.87,3233.73 L484.16,3236.73 L484.46,3239.59 L484.77,3242.31 L485.08,3244.87 L485.41,3247.27 L485.74,3249.50 L486.08,3251.55 L486.42,3253.41 L486.78,3255.07 L487.14,3256.53 L487.52,3257.78 L487.90,3258.82 L488.31,3259.64 L488.72,3260.21 L489.28,3259.79 L488.91,3259.28 L488.56,3258.55 L488.20,3257.56 L487.85,3256.34 L487.50,3254.91 L487.16,3253.26 L486.83,3251.42 L486.51,3249.38 L486.20,3247.16 L485.89,3244.77 L485.59,3242.22 L485.31,3239.50 L485.03,3236.65 L484.76,3233.65 L484.49,3230.52 L484.24,3227.27 L483.99,3223.91 L483.75,3220.45 L483.52,3216.89 L483.30,3213.24 L483.08,3209.52 L482.87,3205.72 L482.67,3201.86 L482.48,3197.95 L482.29,3194.00 L482.11,3190.01 L481.94,3185.99 L481.77,3181.95 L481.61,3177.91 L481.46,3173.86 L481.31,3169.82 L481.17,3165.79 L481.04,3161.79 L480.91,3157.82 L480.79,3153.90 L480.68,3150.02 L480.57,3146.20 L480.46,3142.44 L480.37,3138.76 L480.27,3135.17 L480.19,3131.67 L480.11,3128.26 L480.03,3124.97 L479.96,3121.80 L479.89,3118.75 L479.83,3115.84 L479.78,3113.07 L479.73,3110.45 L479.68,3107.99 L479.64,3105.70 L479.60,3103.59 L479.57,3101.66 L479.54,3099.93 L479.52,3098.41 L479.49,3097.09 L479.48,3095.99 L479.47,3095.13 L479.46,3094.50 L479.45,3094.11 L479.45,3093.98Z" fill="#5a84cc"/><path d="M477.55,3094.01 L477.55,3094.17 L477.56,3094.63 L477.57,3095.39 L477.59,3096.43 L477.62,3097.74 L477.65,3099.32 L477.68,3101.15 L477.72,3103.23 L477.77,3105.53 L477.82,3108.07 L477.88,3110.81 L477.95,3113.76 L478.02,3116.90 L478.09,3120.22 L478.17,3123.71 L478.26,3127.37 L478.35,3131.17 L478.45,3135.12 L478.56,3139.20 L478.67,3143.40 L478.79,3147.71 L478.91,3152.12 L479.04,3156.62 L479.18,3161.20 L479.32,3165.85 L479.47,3170.56 L479.63,3175.32 L479.79,3180.12 L479.96,3184.95 L480.14,3189.79 L480.32,3194.64 L480.51,3199.50 L480.70,3204.34 L480.90,3209.15 L481.11,3213.94 L481.33,3218.68 L481.55,3223.37 L481.78,3227.99 L482.02,3232.54 L482.26,3237.01 L482.51,3241.39 L482.77,3245.66 L483.03,3249.81 L483.30,3253.84 L483.58,3257.74 L483.87,3261.49 L484.16,3265.09 L484.46,3268.52 L484.77,3271.78 L485.08,3274.85 L485.41,3277.72 L485.74,3280.39 L486.08,3282.84 L486.42,3285.07 L486.78,3287.06 L487.14,3288.81 L487.51,3290.30 L487.89,3291.54 L488.29,3292.51 L488.70,3293.18 L489.30,3292.82 L488.93,3292.20 L488.57,3291.30 L488.20,3290.12 L487.85,3288.65 L487.50,3286.93 L487.16,3284.95 L486.83,3282.73 L486.51,3280.29 L486.20,3277.63 L485.89,3274.76 L485.60,3271.70 L485.31,3268.45 L485.03,3265.02 L484.76,3261.43 L484.49,3257.68 L484.24,3253.78 L483.99,3249.75 L483.75,3245.60 L483.52,3241.33 L483.30,3236.96 L483.08,3232.49 L482.87,3227.94 L482.67,3223.32 L482.48,3218.63 L482.29,3213.89 L482.11,3209.10 L481.94,3204.29 L481.77,3199.45 L481.61,3194.60 L481.46,3189.75 L481.31,3184.90 L481.17,3180.08 L481.04,3175.28 L480.91,3170.52 L480.79,3165.81 L480.68,3161.16 L480.57,3156.58 L480.46,3152.08 L480.37,3147.67 L480.27,3143.36 L480.19,3139.16 L480.11,3135.08 L480.03,3131.14 L479.96,3127.33 L479.89,3123.68 L479.83,3120.18 L479.78,3116.86 L479.73,3113.72 L479.68,3110.78 L479.64,3108.03 L479.60,3105.50 L479.57,3103.19 L479.54,3101.12 L479.52,3099.29 L479.49,3097.71 L479.48,3096.40 L479.47,3095.36 L479.46,3094.60 L479.45,3094.14 L479.45,3093.99Z" fill="#5a84cc"/><path d="M477.55,3094.01 L477.55,3094.19 L477.56,3094.72 L477.57,3095.60 L477.59,3096.80 L477.62,3098.32 L477.65,3100.14 L477.68,3102.26 L477.72,3104.66 L477.77,3107.33 L477.82,3110.25 L477.88,3113.42 L477.95,3116.83 L478.02,3120.46 L478.09,3124.30 L478.17,3128.34 L478.26,3132.56 L478.35,3136.96 L478.45,3141.52 L478.56,3146.24 L478.67,3151.09 L478.79,3156.07 L478.91,3161.17 L479.04,3166.37 L479.18,3171.67 L479.32,3177.04 L479.47,3182.48 L479.63,3187.98 L479.79,3193.53 L479.96,3199.11 L480.14,3204.71 L480.32,3210.32 L480.51,3215.92 L480.70,3221.52 L480.90,3227.08 L481.11,3232.61 L481.33,3238.09 L481.55,3243.51 L481.78,3248.86 L482.02,3254.12 L482.26,3259.28 L482.51,3264.34 L482.77,3269.27 L483.03,3274.08 L483.30,3278.74 L483.58,3283.24 L483.87,3287.57 L484.16,3291.73 L484.46,3295.70 L484.77,3299.46 L485.08,3303.01 L485.41,3306.33 L485.74,3309.41 L486.08,3312.25 L486.42,3314.82 L486.78,3317.12 L487.14,3319.14 L487.51,3320.86 L487.89,3322.28 L488.29,3323.39 L488.69,3324.16 L489.31,3323.84 L488.94,3323.12 L488.57,3322.07 L488.21,3320.69 L487.85,3319.00 L487.50,3317.00 L487.16,3314.71 L486.83,3312.15 L486.51,3309.33 L486.20,3306.25 L485.89,3302.93 L485.60,3299.39 L485.31,3295.63 L485.03,3291.67 L484.76,3287.52 L484.49,3283.18 L484.24,3278.68 L483.99,3274.02 L483.75,3269.22 L483.52,3264.29 L483.30,3259.24 L483.08,3254.07 L482.87,3248.81 L482.67,3243.47 L482.48,3238.05 L482.29,3232.57 L482.11,3227.04 L481.94,3221.48 L481.77,3215.88 L481.61,3210.28 L481.46,3204.67 L481.31,3199.07 L481.17,3193.49 L481.04,3187.95 L480.91,3182.45 L480.79,3177.00 L480.68,3171.63 L480.57,3166.34 L480.46,3161.14 L480.37,3156.04 L480.27,3151.06 L480.19,3146.20 L480.11,3141.49 L480.03,3136.93 L479.96,3132.53 L479.89,3128.30 L479.83,3124.27 L479.78,3120.43 L479.73,3116.80 L479.68,3113.40 L479.64,3110.22 L479.60,3107.30 L479.57,3104.63 L479.54,3102.23 L479.52,3100.12 L479.49,3098.29 L479.48,3096.77 L479.47,3095.57 L479.46,3094.70 L479.45,3094.17 L479.45,3093.99Z" fill="#5a84cc"/><path d="M425.55,3432.58 L425.56,3432.61 L425.57,3432.70 L425.58,3432.84 L425.60,3433.03 L425.63,3433.27 L425.66,3433.56 L425.70,3433.90 L425.74,3434.28 L425.79,3434.71 L425.85,3435.17 L425.91,3435.68 L425.98,3436.22 L426.05,3436.80 L426.14,3437.41 L426.22,3438.05 L426.32,3438.72 L426.42,3439.42 L426.53,3440.15 L426.64,3440.90 L426.76,3441.67 L426.89,3442.46 L427.02,3443.28 L427.16,3444.10 L427.31,3444.94 L427.47,3445.80 L427.63,3446.67 L427.80,3447.54 L427.98,3448.42 L428.16,3449.31 L428.35,3450.20 L428.55,3451.09 L428.75,3451.98 L428.96,3452.87 L429.18,3453.76 L429.41,3454.64 L429.65,3455.51 L429.89,3456.38 L430.14,3457.23 L430.40,3458.07 L430.67,3458.89 L430.94,3459.70 L431.22,3460.48 L431.51,3461.25 L431.81,3461.99 L432.12,3462.72 L432.44,3463.41 L432.76,3464.08 L433.09,3464.71 L433.44,3465.32 L433.79,3465.89 L434.15,3466.43 L434.52,3466.93 L434.91,3467.39 L435.30,3467.81 L435.71,3468.19 L436.12,3468.52 L436.56,3468.80 L437.00,3469.04 L437.46,3469.22 L437.91,3469.34 L438.09,3468.66 L437.69,3468.54 L437.31,3468.38 L436.94,3468.17 L436.58,3467.91 L436.22,3467.61 L435.86,3467.26 L435.52,3466.87 L435.18,3466.43 L434.84,3465.95 L434.52,3465.44 L434.20,3464.88 L433.89,3464.29 L433.59,3463.67 L433.29,3463.02 L433.01,3462.34 L432.73,3461.63 L432.46,3460.90 L432.20,3460.14 L431.95,3459.36 L431.70,3458.56 L431.47,3457.75 L431.24,3456.92 L431.02,3456.07 L430.80,3455.21 L430.60,3454.35 L430.40,3453.47 L430.21,3452.59 L430.03,3451.71 L429.85,3450.82 L429.68,3449.93 L429.52,3449.04 L429.37,3448.16 L429.22,3447.28 L429.08,3446.41 L428.94,3445.55 L428.82,3444.70 L428.69,3443.86 L428.58,3443.04 L428.47,3442.23 L428.37,3441.44 L428.27,3440.67 L428.18,3439.93 L428.10,3439.21 L428.02,3438.51 L427.94,3437.84 L427.88,3437.20 L427.81,3436.59 L427.76,3436.02 L427.71,3435.48 L427.66,3434.98 L427.62,3434.52 L427.58,3434.10 L427.55,3433.72 L427.52,3433.38 L427.50,3433.10 L427.48,3432.86 L427.46,3432.67 L427.45,3432.53 L427.45,3432.45 L427.45,3432.42Z" fill="#5a84cc"/><path d="M425.55,3432.57 L425.56,3432.64 L425.58,3432.87 L425.61,3433.25 L425.65,3433.77 L425.70,3434.42 L425.77,3435.21 L425.84,3436.12 L425.93,3437.15 L426.04,3438.29 L426.15,3439.55 L426.28,3440.91 L426.43,3442.38 L426.58,3443.94 L426.75,3445.59 L426.93,3447.32 L427.13,3449.14 L427.34,3451.03 L427.57,3452.99 L427.80,3455.01 L428.06,3457.10 L428.33,3459.24 L428.61,3461.43 L428.91,3463.66 L429.22,3465.94 L429.54,3468.25 L429.89,3470.59 L430.24,3472.95 L430.62,3475.33 L431.01,3477.73 L431.41,3480.13 L431.83,3482.54 L432.27,3484.95 L432.72,3487.36 L433.19,3489.75 L433.68,3492.12 L434.18,3494.48 L434.70,3496.81 L435.24,3499.11 L435.80,3501.37 L436.37,3503.59 L436.96,3505.76 L437.57,3507.88 L438.19,3509.95 L438.84,3511.96 L439.50,3513.89 L440.18,3515.76 L440.88,3517.55 L441.60,3519.26 L442.34,3520.88 L443.09,3522.41 L443.87,3523.85 L444.67,3525.18 L445.49,3526.41 L446.33,3527.53 L447.20,3528.53 L448.09,3529.41 L449.01,3530.16 L449.95,3530.78 L450.92,3531.26 L451.89,3531.58 L452.11,3530.92 L451.19,3530.60 L450.31,3530.15 L449.45,3529.57 L448.60,3528.86 L447.76,3528.01 L446.94,3527.04 L446.14,3525.96 L445.36,3524.75 L444.59,3523.44 L443.85,3522.03 L443.12,3520.52 L442.41,3518.91 L441.72,3517.21 L441.05,3515.44 L440.40,3513.58 L439.76,3511.65 L439.15,3509.66 L438.55,3507.60 L437.97,3505.49 L437.41,3503.32 L436.87,3501.11 L436.34,3498.85 L435.83,3496.56 L435.34,3494.23 L434.87,3491.88 L434.41,3489.51 L433.97,3487.12 L433.54,3484.72 L433.14,3482.32 L432.74,3479.91 L432.37,3477.51 L432.01,3475.12 L431.66,3472.74 L431.33,3470.38 L431.02,3468.04 L430.72,3465.74 L430.43,3463.47 L430.16,3461.23 L429.91,3459.05 L429.66,3456.91 L429.44,3454.83 L429.22,3452.81 L429.02,3450.85 L428.83,3448.96 L428.66,3447.15 L428.49,3445.42 L428.34,3443.77 L428.21,3442.21 L428.08,3440.75 L427.97,3439.39 L427.87,3438.14 L427.78,3436.99 L427.70,3435.97 L427.63,3435.06 L427.57,3434.28 L427.53,3433.63 L427.49,3433.11 L427.47,3432.74 L427.45,3432.51 L427.45,3432.43Z" fill="#5a84cc"/><path d="M490.05,3587.07 L490.05,3587.09 L490.06,3587.18 L490.07,3587.31 L490.09,3587.49 L490.11,3587.73 L490.14,3588.01 L490.17,3588.33 L490.20,3588.70 L490.25,3589.10 L490.29,3589.55 L490.34,3590.03 L490.40,3590.55 L490.46,3591.11 L490.53,3591.69 L490.60,3592.31 L490.67,3592.95 L490.75,3593.62 L490.84,3594.32 L490.93,3595.04 L491.03,3595.78 L491.13,3596.54 L491.24,3597.32 L491.35,3598.11 L491.47,3598.92 L491.60,3599.74 L491.73,3600.57 L491.86,3601.40 L492.00,3602.25 L492.15,3603.10 L492.30,3603.95 L492.46,3604.81 L492.62,3605.66 L492.79,3606.52 L492.97,3607.37 L493.15,3608.21 L493.34,3609.05 L493.53,3609.87 L493.73,3610.69 L493.93,3611.49 L494.15,3612.28 L494.36,3613.05 L494.59,3613.81 L494.82,3614.54 L495.05,3615.26 L495.30,3615.95 L495.55,3616.61 L495.80,3617.25 L496.06,3617.86 L496.33,3618.44 L496.61,3618.99 L496.90,3619.51 L497.19,3619.99 L497.49,3620.43 L497.80,3620.84 L498.12,3621.20 L498.46,3621.52 L498.80,3621.80 L499.16,3622.03 L499.53,3622.21 L499.89,3622.33 L500.11,3621.67 L499.80,3621.56 L499.52,3621.41 L499.24,3621.22 L498.96,3620.97 L498.69,3620.69 L498.41,3620.35 L498.14,3619.98 L497.88,3619.56 L497.62,3619.10 L497.37,3618.61 L497.12,3618.08 L496.88,3617.51 L496.64,3616.92 L496.42,3616.29 L496.20,3615.64 L495.98,3614.96 L495.77,3614.25 L495.57,3613.53 L495.38,3612.78 L495.19,3612.01 L495.00,3611.23 L494.83,3610.43 L494.66,3609.62 L494.49,3608.80 L494.34,3607.97 L494.18,3607.13 L494.04,3606.29 L493.90,3605.44 L493.76,3604.59 L493.63,3603.73 L493.51,3602.88 L493.39,3602.04 L493.28,3601.19 L493.17,3600.36 L493.07,3599.53 L492.97,3598.72 L492.88,3597.91 L492.80,3597.12 L492.71,3596.35 L492.64,3595.59 L492.56,3594.85 L492.50,3594.14 L492.43,3593.45 L492.37,3592.78 L492.32,3592.14 L492.27,3591.52 L492.22,3590.94 L492.18,3590.39 L492.14,3589.87 L492.10,3589.39 L492.07,3588.95 L492.05,3588.54 L492.02,3588.18 L492.00,3587.86 L491.98,3587.58 L491.97,3587.35 L491.96,3587.17 L491.95,3587.04 L491.95,3586.96 L491.95,3586.93Z" fill="#5a84cc"/><path d="M490.05,3587.03 L490.05,3587.09 L490.06,3587.25 L490.07,3587.51 L490.09,3587.88 L490.11,3588.34 L490.14,3588.89 L490.17,3589.53 L490.20,3590.26 L490.24,3591.06 L490.29,3591.95 L490.34,3592.91 L490.40,3593.94 L490.46,3595.03 L490.52,3596.19 L490.60,3597.41 L490.67,3598.69 L490.75,3600.02 L490.84,3601.40 L490.93,3602.83 L491.03,3604.29 L491.13,3605.80 L491.24,3607.34 L491.36,3608.91 L491.48,3610.51 L491.60,3612.14 L491.73,3613.78 L491.87,3615.45 L492.01,3617.12 L492.15,3618.81 L492.31,3620.50 L492.46,3622.20 L492.63,3623.89 L492.80,3625.58 L492.97,3627.27 L493.15,3628.94 L493.34,3630.60 L493.53,3632.23 L493.73,3633.85 L493.94,3635.44 L494.15,3637.00 L494.36,3638.53 L494.59,3640.03 L494.81,3641.48 L495.05,3642.89 L495.29,3644.25 L495.54,3645.57 L495.79,3646.83 L496.05,3648.03 L496.32,3649.17 L496.59,3650.25 L496.87,3651.26 L497.16,3652.20 L497.45,3653.06 L497.76,3653.85 L498.07,3654.56 L498.39,3655.19 L498.72,3655.73 L499.07,3656.18 L499.44,3656.55 L499.80,3656.79 L500.20,3656.21 L499.89,3656.00 L499.61,3655.72 L499.32,3655.32 L499.03,3654.83 L498.74,3654.25 L498.46,3653.57 L498.18,3652.81 L497.91,3651.96 L497.65,3651.04 L497.39,3650.04 L497.14,3648.98 L496.89,3647.85 L496.66,3646.65 L496.43,3645.40 L496.20,3644.10 L495.99,3642.74 L495.78,3641.33 L495.57,3639.88 L495.38,3638.40 L495.19,3636.87 L495.00,3635.31 L494.83,3633.72 L494.66,3632.11 L494.49,3630.47 L494.33,3628.82 L494.18,3627.15 L494.04,3625.47 L493.90,3623.78 L493.76,3622.09 L493.63,3620.39 L493.51,3618.70 L493.39,3617.02 L493.28,3615.34 L493.17,3613.68 L493.07,3612.04 L492.97,3610.41 L492.88,3608.81 L492.79,3607.24 L492.71,3605.70 L492.64,3604.20 L492.56,3602.73 L492.49,3601.31 L492.43,3599.93 L492.37,3598.60 L492.32,3597.33 L492.27,3596.11 L492.22,3594.95 L492.18,3593.85 L492.14,3592.82 L492.11,3591.87 L492.07,3590.98 L492.05,3590.18 L492.02,3589.45 L492.00,3588.82 L491.99,3588.26 L491.97,3587.81 L491.96,3587.44 L491.96,3587.18 L491.95,3587.02 L491.95,3586.97Z" fill="#5a84cc"/><path d="M490.05,3587.02 L490.05,3587.10 L490.06,3587.34 L490.07,3587.73 L490.09,3588.26 L490.11,3588.93 L490.14,3589.74 L490.17,3590.68 L490.20,3591.75 L490.24,3592.93 L490.29,3594.23 L490.34,3595.64 L490.40,3597.15 L490.46,3598.76 L490.52,3600.46 L490.60,3602.25 L490.67,3604.12 L490.75,3606.08 L490.84,3608.10 L490.93,3610.19 L491.03,3612.34 L491.13,3614.55 L491.24,3616.81 L491.36,3619.12 L491.48,3621.47 L491.60,3623.85 L491.73,3626.27 L491.87,3628.71 L492.01,3631.17 L492.15,3633.64 L492.31,3636.12 L492.46,3638.61 L492.63,3641.10 L492.80,3643.58 L492.97,3646.05 L493.15,3648.50 L493.34,3650.93 L493.53,3653.34 L493.73,3655.71 L493.94,3658.04 L494.15,3660.33 L494.36,3662.58 L494.59,3664.77 L494.81,3666.90 L495.05,3668.97 L495.29,3670.96 L495.54,3672.89 L495.79,3674.73 L496.05,3676.50 L496.32,3678.17 L496.59,3679.74 L496.87,3681.22 L497.15,3682.59 L497.44,3683.86 L497.74,3685.00 L498.05,3686.03 L498.37,3686.94 L498.69,3687.72 L499.03,3688.37 L499.39,3688.89 L499.75,3689.25 L500.25,3688.75 L499.94,3688.45 L499.65,3688.01 L499.35,3687.42 L499.05,3686.68 L498.76,3685.81 L498.47,3684.81 L498.19,3683.68 L497.92,3682.43 L497.65,3681.07 L497.39,3679.60 L497.14,3678.04 L496.89,3676.37 L496.66,3674.62 L496.43,3672.78 L496.20,3670.86 L495.99,3668.86 L495.78,3666.80 L495.57,3664.67 L495.38,3662.48 L495.19,3660.24 L495.00,3657.95 L494.83,3655.62 L494.66,3653.25 L494.49,3650.85 L494.33,3648.42 L494.18,3645.97 L494.03,3643.50 L493.89,3641.02 L493.76,3638.54 L493.63,3636.05 L493.51,3633.57 L493.39,3631.09 L493.28,3628.64 L493.17,3626.20 L493.07,3623.78 L492.97,3621.40 L492.88,3619.05 L492.79,3616.75 L492.71,3614.49 L492.63,3612.28 L492.56,3610.13 L492.49,3608.04 L492.43,3606.01 L492.37,3604.06 L492.32,3602.19 L492.27,3600.40 L492.22,3598.70 L492.18,3597.09 L492.14,3595.58 L492.11,3594.17 L492.07,3592.88 L492.05,3591.69 L492.02,3590.63 L492.00,3589.69 L491.99,3588.88 L491.97,3588.21 L491.96,3587.68 L491.96,3587.29 L491.95,3587.06 L491.95,3586.98Z" fill="#5a84cc"/><path d="M490.05,3587.02 L490.05,3587.12 L490.06,3587.43 L490.07,3587.94 L490.09,3588.64 L490.11,3589.53 L490.14,3590.59 L490.17,3591.82 L490.20,3593.22 L490.24,3594.78 L490.29,3596.48 L490.34,3598.33 L490.40,3600.31 L490.46,3602.43 L490.53,3604.67 L490.60,3607.02 L490.67,3609.48 L490.75,3612.04 L490.84,3614.70 L490.93,3617.45 L491.03,3620.28 L491.13,3623.18 L491.24,3626.15 L491.36,3629.18 L491.48,3632.26 L491.60,3635.40 L491.73,3638.57 L491.87,3641.77 L492.01,3645.00 L492.15,3648.25 L492.31,3651.52 L492.46,3654.78 L492.63,3658.05 L492.80,3661.31 L492.97,3664.55 L493.15,3667.78 L493.34,3670.97 L493.53,3674.13 L493.73,3677.24 L493.94,3680.31 L494.15,3683.32 L494.36,3686.26 L494.59,3689.14 L494.81,3691.94 L495.05,3694.65 L495.29,3697.28 L495.54,3699.80 L495.79,3702.23 L496.05,3704.54 L496.31,3706.73 L496.59,3708.80 L496.86,3710.74 L497.15,3712.54 L497.44,3714.19 L497.74,3715.70 L498.05,3717.04 L498.36,3718.23 L498.68,3719.24 L499.02,3720.08 L499.37,3720.75 L499.72,3721.21 L500.28,3720.79 L499.97,3720.38 L499.66,3719.79 L499.36,3719.00 L499.06,3718.03 L498.76,3716.87 L498.48,3715.54 L498.19,3714.06 L497.92,3712.41 L497.65,3710.62 L497.39,3708.69 L497.14,3706.63 L496.90,3704.44 L496.66,3702.14 L496.43,3699.72 L496.20,3697.19 L495.99,3694.57 L495.78,3691.86 L495.57,3689.06 L495.38,3686.19 L495.19,3683.25 L495.00,3680.24 L494.83,3677.18 L494.66,3674.06 L494.49,3670.91 L494.33,3667.71 L494.18,3664.49 L494.03,3661.25 L493.89,3657.99 L493.76,3654.73 L493.63,3651.46 L493.51,3648.20 L493.39,3644.95 L493.28,3641.72 L493.17,3638.51 L493.07,3635.34 L492.97,3632.21 L492.88,3629.13 L492.79,3626.10 L492.71,3623.13 L492.63,3620.23 L492.56,3617.40 L492.49,3614.65 L492.43,3612.00 L492.37,3609.43 L492.32,3606.97 L492.27,3604.62 L492.22,3602.38 L492.18,3600.27 L492.14,3598.29 L492.11,3596.44 L492.07,3594.74 L492.05,3593.18 L492.02,3591.78 L492.00,3590.55 L491.99,3589.49 L491.97,3588.61 L491.96,3587.91 L491.96,3587.40 L491.95,3587.09 L491.95,3586.98Z" fill="#5a84cc"/><path d="M490.05,3587.01 L490.05,3587.14 L490.06,3587.53 L490.07,3588.16 L490.09,3589.03 L490.11,3590.12 L490.14,3591.44 L490.17,3592.97 L490.20,3594.70 L490.24,3596.62 L490.29,3598.74 L490.34,3601.03 L490.40,3603.48 L490.46,3606.10 L490.53,3608.87 L490.60,3611.79 L490.67,3614.84 L490.75,3618.01 L490.84,3621.31 L490.93,3624.71 L491.03,3628.21 L491.14,3631.81 L491.24,3635.49 L491.36,3639.24 L491.48,3643.06 L491.60,3646.94 L491.73,3650.87 L491.87,3654.84 L492.01,3658.84 L492.15,3662.87 L492.31,3666.91 L492.47,3670.96 L492.63,3675.01 L492.80,3679.04 L492.97,3683.06 L493.15,3687.05 L493.34,3691.01 L493.53,3694.92 L493.73,3698.78 L493.94,3702.57 L494.15,3706.30 L494.36,3709.95 L494.59,3713.51 L494.81,3716.98 L495.05,3720.34 L495.29,3723.59 L495.54,3726.72 L495.79,3729.72 L496.05,3732.59 L496.31,3735.30 L496.59,3737.87 L496.86,3740.26 L497.15,3742.49 L497.44,3744.54 L497.74,3746.40 L498.04,3748.06 L498.35,3749.52 L498.68,3750.77 L499.01,3751.80 L499.35,3752.62 L499.70,3753.18 L500.30,3752.82 L499.98,3752.30 L499.67,3751.56 L499.37,3750.58 L499.06,3749.36 L498.77,3747.92 L498.48,3746.27 L498.20,3744.43 L497.92,3742.39 L497.65,3740.17 L497.39,3737.78 L497.14,3735.22 L496.90,3732.51 L496.66,3729.65 L496.43,3726.65 L496.20,3723.53 L495.99,3720.28 L495.78,3716.92 L495.57,3713.45 L495.38,3709.89 L495.19,3706.25 L495.00,3702.52 L494.83,3698.72 L494.65,3694.87 L494.49,3690.96 L494.33,3687.00 L494.18,3683.01 L494.03,3678.99 L493.89,3674.96 L493.76,3670.91 L493.63,3666.86 L493.51,3662.82 L493.39,3658.80 L493.28,3654.80 L493.17,3650.83 L493.07,3646.90 L492.97,3643.02 L492.88,3639.20 L492.79,3635.45 L492.71,3631.77 L492.63,3628.17 L492.56,3624.67 L492.49,3621.27 L492.43,3617.98 L492.37,3614.80 L492.32,3611.75 L492.27,3608.84 L492.22,3606.07 L492.18,3603.45 L492.14,3600.99 L492.11,3598.70 L492.07,3596.59 L492.05,3594.67 L492.02,3592.94 L492.00,3591.41 L491.99,3590.09 L491.97,3589.00 L491.96,3588.13 L491.96,3587.50 L491.95,3587.12 L491.95,3586.99Z" fill="#5a84cc"/><path d="M490.05,3587.01 L490.05,3587.17 L490.06,3587.63 L490.07,3588.38 L490.09,3589.41 L490.11,3590.72 L490.14,3592.29 L490.17,3594.11 L490.20,3596.18 L490.24,3598.47 L490.29,3600.99 L490.34,3603.72 L490.40,3606.66 L490.46,3609.78 L490.53,3613.08 L490.60,3616.56 L490.67,3620.20 L490.75,3623.98 L490.84,3627.91 L490.93,3631.97 L491.03,3636.15 L491.14,3640.44 L491.24,3644.83 L491.36,3649.30 L491.48,3653.86 L491.60,3658.49 L491.73,3663.18 L491.87,3667.91 L492.01,3672.68 L492.15,3677.49 L492.31,3682.31 L492.47,3687.14 L492.63,3691.96 L492.80,3696.78 L492.97,3701.57 L493.15,3706.33 L493.34,3711.05 L493.53,3715.71 L493.73,3720.32 L493.94,3724.84 L494.15,3729.29 L494.36,3733.64 L494.59,3737.89 L494.81,3742.03 L495.05,3746.04 L495.29,3749.91 L495.54,3753.65 L495.79,3757.22 L496.05,3760.64 L496.31,3763.88 L496.59,3766.93 L496.86,3769.79 L497.15,3772.45 L497.44,3774.89 L497.74,3777.10 L498.04,3779.08 L498.35,3780.82 L498.67,3782.31 L499.00,3783.53 L499.34,3784.49 L499.69,3785.16 L500.31,3784.84 L499.99,3784.22 L499.68,3783.33 L499.37,3782.14 L499.07,3780.68 L498.77,3778.97 L498.48,3777.00 L498.20,3774.79 L497.92,3772.36 L497.65,3769.71 L497.39,3766.86 L497.14,3763.81 L496.90,3760.57 L496.66,3757.16 L496.43,3753.59 L496.20,3749.86 L495.99,3745.98 L495.78,3741.97 L495.57,3737.84 L495.38,3733.59 L495.19,3729.24 L495.00,3724.80 L494.83,3720.27 L494.65,3715.67 L494.49,3711.01 L494.33,3706.29 L494.18,3701.53 L494.03,3696.74 L493.89,3691.92 L493.76,3687.10 L493.63,3682.27 L493.51,3677.45 L493.39,3672.65 L493.28,3667.87 L493.17,3663.14 L493.07,3658.45 L492.97,3653.83 L492.88,3649.27 L492.79,3644.79 L492.71,3640.40 L492.63,3636.12 L492.56,3631.94 L492.49,3627.88 L492.43,3623.95 L492.37,3620.17 L492.32,3616.53 L492.27,3613.05 L492.22,3609.75 L492.18,3606.63 L492.14,3603.70 L492.11,3600.97 L492.07,3598.45 L492.05,3596.15 L492.02,3594.09 L492.00,3592.26 L491.99,3590.69 L491.97,3589.39 L491.96,3588.35 L491.96,3587.60 L491.95,3587.14 L491.95,3586.99Z" fill="#5a84cc"/><path d="M288.20,2600.00 L288.20,2600.98 L288.21,2603.87 L288.22,2608.62 L288.24,2615.15 L288.26,2623.40 L288.29,2633.31 L288.33,2644.82 L288.37,2657.85 L288.41,2672.35 L288.46,2688.25 L288.52,2705.49 L288.58,2724.00 L288.65,2743.72 L288.72,2764.58 L288.80,2786.53 L288.89,2809.48 L288.98,2833.39 L289.08,2858.19 L289.18,2883.81 L289.29,2910.19 L289.41,2937.26 L289.53,2964.96 L289.66,2993.23 L289.80,3022.00 L289.94,3051.21 L290.09,3080.79 L290.24,3110.68 L290.41,3140.82 L290.57,3171.13 L290.75,3201.57 L290.93,3232.05 L291.12,3262.52 L291.32,3292.92 L291.52,3323.17 L291.73,3353.22 L291.95,3383.00 L292.18,3412.45 L292.41,3441.50 L292.65,3470.09 L292.90,3498.15 L293.15,3525.63 L293.41,3552.44 L293.68,3578.54 L293.96,3603.86 L294.25,3628.33 L294.54,3651.88 L294.84,3674.47 L295.15,3696.01 L295.47,3716.45 L295.79,3735.72 L296.13,3753.75 L296.47,3770.49 L296.82,3785.87 L297.18,3799.83 L297.54,3812.29 L297.92,3823.20 L298.30,3832.50 L298.69,3840.12 L299.09,3845.99 L299.50,3850.05 L300.50,3849.95 L300.09,3845.91 L299.69,3840.06 L299.31,3832.45 L298.93,3823.17 L298.56,3812.26 L298.20,3799.80 L297.85,3785.85 L297.51,3770.47 L297.17,3753.73 L296.85,3735.70 L296.53,3716.43 L296.22,3695.99 L295.93,3674.45 L295.64,3651.87 L295.35,3628.31 L295.08,3603.85 L294.81,3578.53 L294.56,3552.43 L294.31,3525.61 L294.07,3498.14 L293.83,3470.08 L293.61,3441.49 L293.39,3412.44 L293.18,3383.00 L292.97,3353.21 L292.78,3323.16 L292.59,3292.91 L292.40,3262.51 L292.23,3232.04 L292.06,3201.56 L291.90,3171.13 L291.75,3140.81 L291.60,3110.68 L291.46,3080.79 L291.32,3051.20 L291.19,3022.00 L291.07,2993.23 L290.96,2964.96 L290.85,2937.25 L290.74,2910.18 L290.65,2883.80 L290.55,2858.18 L290.47,2833.39 L290.39,2809.48 L290.31,2786.52 L290.24,2764.58 L290.18,2743.72 L290.12,2724.00 L290.07,2705.49 L290.02,2688.25 L289.98,2672.35 L289.94,2657.85 L289.91,2644.82 L289.88,2633.31 L289.85,2623.40 L289.83,2615.15 L289.82,2608.62 L289.81,2603.87 L289.80,2600.98 L289.80,2600.00Z" fill="#5a84cc"/><path d="M289,313 H386 Q391,313 391,318 V350 Q391,355 386,355 H332.0 L326.5,368 L321.0,355 H289 Q284,355 284,350 V318 Q284,313 289,313 Z" fill="#fde9a3" stroke="#f0bb4a" stroke-width="2"/><path d="M494.5,449 H507.5 V513 H494.5 M507.5,480.5 H519" fill="none" stroke="#c6d7a6" stroke-width="4"/><path d="M289,846 H387 Q392,846 392,851 V882 Q392,887 387,887 H330.5 L325,901 L319.5,887 H289 Q284,887 284,882 V851 Q284,846 289,846 Z" fill="#fde9a3" stroke="#f0bb4a" stroke-width="2"/><path d="M288,1095 H386 Q391,1095 391,1100 V1131 Q391,1136 386,1136 H330.5 L325,1151 L319.5,1136 H288 Q283,1136 283,1131 V1100 Q283,1095 288,1095 Z" fill="#fde9a3" stroke="#f0bb4a" stroke-width="2"/><rect x="332.5" y="1510.5" width="372" height="320" rx="4" fill="#ffffff" stroke="#4a86d0" stroke-width="3"/><rect x="331" y="1567.5" width="375" height="34.0" fill="#dde6f8"/><rect x="331" y="1735.5" width="375" height="95.0" fill="#dde6f8"/><path d="M331,1543.5 H706" stroke="#4a86d0" stroke-width="3"/><path d="M331,1567.5 H706" stroke="#4a86d0" stroke-width="3"/><path d="M331,1601.5 H706" stroke="#4a86d0" stroke-width="3"/><path d="M331,1735.5 H706" stroke="#4a86d0" stroke-width="3"/><path d="M414.5,1543.5 V1832" stroke="#4a86d0" stroke-width="3"/><path d="M535,1543.5 V1832" stroke="#4a86d0" stroke-width="3"/><path d="M575,1543.5 V1832" stroke="#4a86d0" stroke-width="3"/><path d="M614.5,1543.5 V1832" stroke="#4a86d0" stroke-width="3"/><path d="M665,1543.5 V1832" stroke="#4a86d0" stroke-width="3"/><rect x="332.5" y="1510.5" width="372" height="320" rx="4" fill="none" stroke="#4a86d0" stroke-width="3"/><g transform="translate(418,1519)"><rect x="0.5" y="0.5" width="11" height="10" fill="none" stroke="#9aa" stroke-width="1"/><path d="M0.5,3.5 H11.5 M4,3.5 V10.5" stroke="#9aa" stroke-width="1"/><circle cx="10.5" cy="10" r="4.2" fill="#fff" stroke="#6a8fc0" stroke-width="1"/><path d="M8.2,10 H12.8 M10.5,7.7 V12.3" stroke="#4a7fc0" stroke-width="1.1"/></g><path d="M293,1981 H391 Q396,1981 396,1986 V2017 Q396,2022 391,2022 H348.5 L343,2036 L337.5,2022 H293 Q288,2022 288,2017 V1986 Q288,1981 293,1981 Z" fill="#fde9a3" stroke="#f0bb4a" stroke-width="2"/><path d="M303,2621 H400 Q405,2621 405,2626 V2657 Q405,2662 400,2662 H342.0 L336.5,2675 L331.0,2662 H303 Q298,2662 298,2657 V2626 Q298,2621 303,2621 Z" fill="#fde9a3" stroke="#f0bb4a" stroke-width="2"/><path d="M300,3800 H403" stroke="#f0bb4a" stroke-width="2"/></svg>
<div class="title" style="left:16px;top:16px;width:311px;height:72px;"><span>第三章<i style="display:inline-block;width:21px"></i>物权法律制度</span></div><div class="ell" style="left:227px;top:158px;width:520px;"><span>绝大多数考点需要准确理解，只有几个数字需要死记硬背，复习难<br>度其实并不大。会和合同法律制度结合考查案例分析题</span></div><div class="l1" style="left:191px;top:250px;width:166px;height:42px;"><span>物权法律制度概述</span></div><div class="l1" style="left:191px;top:2189px;width:98px;height:42px;"><span>物权变动</span></div><div class="co" style="left:284px;top:313px;width:107px;height:42px;"><span>考频：3次</span></div><div class="n" style="left:284px;top:368px;width:78px;height:28px;"><span>物的分类</span></div><div class="n" style="left:332px;top:418px;width:104px;height:28.5px;"><span>动产与不动产</span></div><div class="n" style="left:332px;top:450.5px;width:128px;height:27.5px;"><span>可分物与不可分物</span></div><div class="n" style="left:332px;top:483px;width:155.5px;height:27.5px;"><span>可替代物与不可替代物</span></div><div class="n" style="left:332px;top:514.5px;width:128px;height:27.5px;"><span>消耗物与非消耗物</span></div><div class="n" style="left:332px;top:546px;width:403px;height:28px;"><span>流通物、限制流通物（文物、黄金、药品）与禁止流通物（毒品）</span></div><div class="n" style="left:332px;top:578px;width:90px;height:28px;"><span>主物与从物</span></div><div class="sum" style="left:524px;top:465px;width:125px;height:30px;"><span>此分类仅限于动产</span></div><div class="gl" style="left:331px;top:691px;width:147px;height:29px;"><span>孳息是独立于原物的物</span></div><div class="n" style="left:348px;top:723px;width:89px;height:27px;"><span>原物与孳息</span></div><div class="n" style="left:387px;top:629px;width:115px;height:27px;"><span>物理上相互独立</span></div><div class="n" style="left:387px;top:661px;width:167px;height:27px;"><span>经济用途上存在主从关系</span></div><div class="n" style="left:401px;top:773px;width:77px;height:27px;"><span>天然孳息</span></div><div class="n" style="left:401px;top:806px;width:77px;height:27px;"><span>法定孳息</span></div><div class="co" style="left:284px;top:846px;width:108px;height:41px;"><span>考频：1次</span></div><div class="n" style="left:284px;top:902px;width:78px;height:27px;"><span>物的特征</span></div><div class="n" style="left:332px;top:951px;width:65px;height:27px;"><span>有体性</span></div><div class="n" style="left:332px;top:1032px;width:76px;height:28px;"><span>可支配性</span></div><div class="n" style="left:332px;top:1065px;width:116px;height:27px;"><span>在人的身体之外</span></div><div class="n" style="left:374px;top:1000px;width:493px;height:28px;"><span>指有体物，非权力、行为、智力成果，但某些权力在特定情况下可以成为物权客体</span></div><div class="co" style="left:283px;top:1095px;width:108px;height:41px;"><span>考频：2次</span></div><div class="n" style="left:284px;top:1152px;width:77px;height:26px;"><span>物权分类</span></div><div class="n" style="left:333px;top:1201px;width:192px;height:27px;"><span>所有权、用益物权、担保物权</span></div><div class="n" style="left:332px;top:1446.5px;width:116px;height:28.0px;"><span>自物权和他物权</span></div><div class="n" style="left:332px;top:1478.5px;width:130px;height:28.0px;"><span>独立物权和从物权</span></div><div class="n" style="left:438px;top:1252px;width:64px;height:27px;"><span>所有权</span></div><div class="n" style="left:606px;top:1283px;width:77px;height:26px;"><span>用益物权</span></div><div class="n" style="left:438px;top:1332px;width:116px;height:28px;"><span>建设用地使用权</span></div><div class="n" style="left:560px;top:1332px;width:114px;height:28px;"><span>土地承包经营权</span></div><div class="n" style="left:678.5px;top:1332px;width:64.0px;height:28.5px;"><span>地役权</span></div><div class="n" style="left:746px;top:1332px;width:104px;height:28px;"><span>宅基地使用权</span></div><div class="n" style="left:494px;top:1366px;width:76px;height:26px;"><span>担保物权</span></div><div class="n" style="left:438px;top:1415px;width:65px;height:28px;"><span>抵押权</span></div><div class="n" style="left:505.5px;top:1415px;width:52.0px;height:28px;"><span>质权</span></div><div class="n" style="left:561px;top:1415px;width:64px;height:28px;"><span>留置权</span></div><div class="tt" style="left:344.5px;top:1517px;">分类汇总表</div><div class="tc" style="left:414px;top:1548px;width:121px;font-size:12px">类型</div><div class="tc" style="left:535px;top:1548px;width:40px;font-size:12px">自物权</div><div class="tc" style="left:575px;top:1548px;width:40px;font-size:12px">他物权</div><div class="tc" style="left:615px;top:1548px;width:50px;font-size:12px">独立物权</div><div class="tc" style="left:665px;top:1548px;width:41px;font-size:12px">从物权</div><div class="tt" style="left:348px;top:1575px;">所有权</div><div class="tc" style="left:535px;top:1575px;width:40px;font-size:13px">√</div><div class="tc" style="left:615px;top:1575px;width:50px;font-size:13px">√</div><div class="tt" style="left:348px;top:1660px;">用益物权</div><div class="tt" style="left:430.5px;top:1609px;">建设用地使用权</div><div class="tc" style="left:575px;top:1609px;width:40px;font-size:13px">√</div><div class="tc" style="left:615px;top:1609px;width:50px;font-size:13px">√</div><div class="tt" style="left:430.5px;top:1642px;">土地承包经营权</div><div class="tc" style="left:575px;top:1642px;width:40px;font-size:13px">√</div><div class="tc" style="left:615px;top:1642px;width:50px;font-size:13px">√</div><div class="tt" style="left:430.5px;top:1675px;">宅基地使用权</div><div class="tc" style="left:575px;top:1675px;width:40px;font-size:13px">√</div><div class="tc" style="left:615px;top:1675px;width:50px;font-size:13px">√</div><div class="tt" style="left:430.5px;top:1708px;">地役权</div><div class="tc" style="left:575px;top:1708px;width:40px;font-size:13px">√</div><div class="tc" style="left:665px;top:1711px;width:41px;font-size:13px">√</div><div class="tt" style="left:348px;top:1776px;">担保物权</div><div class="tt" style="left:430.5px;top:1743px;">抵押权</div><div class="tc" style="left:575px;top:1743px;width:40px;font-size:13px">√</div><div class="tc" style="left:665px;top:1743px;width:41px;font-size:13px">√</div><div class="tt" style="left:430.5px;top:1776px;">质权</div><div class="tc" style="left:575px;top:1776px;width:40px;font-size:13px">√</div><div class="tc" style="left:665px;top:1776px;width:41px;font-size:13px">√</div><div class="tt" style="left:430.5px;top:1809px;">留置权</div><div class="tc" style="left:575px;top:1809px;width:40px;font-size:13px">√</div><div class="tc" style="left:665px;top:1809px;width:41px;font-size:13px">√</div><div class="n" style="left:284px;top:1837px;width:79px;height:27px;"><span>物权特征</span></div><div class="n" style="left:333px;top:1885px;width:142px;height:28px;"><span>支配性，属于支配权</span></div><div class="n" style="left:333px;top:1918px;width:246px;height:28px;"><span>排他性，一物之上只能成立一项所有权</span></div><div class="n" style="left:333px;top:1951px;width:156px;height:27px;"><span>绝对性，可对抗所有人</span></div><div class="co" style="left:288px;top:1981px;width:108px;height:41px;"><span>考频：2次</span></div><div class="n" style="left:284px;top:2035.5px;width:116px;height:28.0px;"><span>物权法基本原则</span></div><div class="n" style="left:351px;top:2085px;width:103px;height:28px;"><span>物权法定原则</span></div><div class="n" style="left:351px;top:2117px;width:194px;height:28px;"><span>物权客体特定原则，一物一权</span></div><div class="n" style="left:351px;top:2150px;width:221px;height:28px;"><span>物权公示原则，要依法登记或交付</span></div><div class="n" style="left:250px;top:2254px;width:117px;height:27px;"><span>基于非法律行为</span></div><div class="gl" style="left:316px;top:2302px;width:381px;height:29px;"><span>不以登记为要件，但处分该物权时，应依法登记否则不发生效力</span></div><div class="n" style="left:332px;top:2334px;width:352px;height:27px;"><span>基于事实：合法建造拆除房屋，事实行为成就起发生效力</span></div><div class="n" style="left:332px;top:2365px;width:364px;height:28px;"><span>基于法律规定：因继承取得物权的，自继承开始时发生效力</span></div><div class="n ml" style="left:332px;top:2397.5px;width:377px;height:46.0px;"><span>基于公法：导致物权设立、变更、转让或者消灭的，自法律文<br>书或者征收决定等生效时发生效力</span></div><div class="n" style="left:317px;top:2457px;width:78px;height:28px;"><span>公示要求</span></div><div class="n" style="left:365px;top:2511px;width:300px;height:25px;"><span>非基于法律行为的物权变动不必以公示为前提。</span></div><div class="n" style="left:365px;top:2539px;width:376px;height:28px;"><span>依照法律规定需要办理登记的，未经登记，不发生物权效力。</span></div><div class="n" style="left:250px;top:2572px;width:78px;height:28px;"><span>基于法律</span></div><div class="co" style="left:298px;top:2621px;width:107px;height:41px;"><span>考频：2次</span></div><div class="n" style="left:298px;top:2676px;width:65px;height:27px;"><span>不动产</span></div><div class="gl" style="left:338px;top:2725px;width:251px;height:28px;"><span>合同成立时生效，未登记不影响合同效力</span></div><div class="n ml" style="left:354px;top:2756px;width:390px;height:45px;"><span>登记生效：物权设立、变更、转让及消灭依法登记发生效力，未<br>经登记，不发生效力如建设用地使用权、抵押权</span></div><div class="n ml" style="left:350px;top:2825px;width:401px;height:45px;"><span>以建筑物、建设用地使用权设定抵押的，必须办理抵押登记，抵押<br>权自登记之日起设立</span></div><div class="n ml" style="left:349px;top:2875px;width:416px;height:64px;"><span>当事人之间订立有关设立、变更、转让和消灭不动产物权的合同，除<br>法律另有规定或者合同另有约定外，自合同成立时生效；未办理物权<br>登记的，不影响合同的效力</span></div><div class="n" style="left:339px;top:2954px;width:546px;height:27px;"><span>登记对抗：合同生效时设立，未经登记不得对抗善意第三人（如土地承包经营权、地役权）</span></div><div class="n" style="left:339px;top:2987px;width:79px;height:26px;"><span>登记制度</span></div><div class="n" style="left:388px;top:3036px;width:297px;height:26px;"><span>首次登记：未办理首次登记，不得办理其他登记</span></div><div class="n" style="left:388px;top:3067px;width:181px;height:27px;"><span>变更登记：不涉及权力转移</span></div><div class="n" style="left:388px;top:3343px;width:220px;height:26px;"><span>转移登记：权力在不同主体间转移</span></div><div class="n" style="left:388px;top:3373.5px;width:284.5px;height:28.0px;"><span>注销登记：不动产权力消灭，需办理注销登记</span></div><div class="n" style="left:388px;top:3405.5px;width:77px;height:27.0px;"><span>异议登记</span></div><div class="n" style="left:388px;top:3559.5px;width:206px;height:27.5px;"><span>预告登记：为保证将来实现物权</span></div><div class="n" style="left:488px;top:3117.5px;width:116px;height:27.5px;"><span>权利人身份信息</span></div><div class="n" style="left:488px;top:3150px;width:157px;height:29px;"><span>不动产坐落面积等信息</span></div><div class="n" style="left:488px;top:3182px;width:141px;height:28px;"><span>不动产权力期限来源</span></div><div class="n" style="left:488px;top:3214px;width:154px;height:28px;"><span>同一权利人分割或合并</span></div><div class="n" style="left:488px;top:3246px;width:353px;height:28px;"><span>抵押担保范围、主债权数额、债务履行期限、抵押权顺位</span></div><div class="n" style="left:488px;top:3280px;width:244px;height:26px;"><span>最高额抵押担保债权范围、最高债权额</span></div><div class="n" style="left:488px;top:3311px;width:297px;height:26px;"><span>法律法规规定不涉及不动产权力转移的其他情形</span></div><div class="gl" style="left:433px;top:3486px;width:191px;height:28px;"><span>15日内不起诉，异议登记失效</span></div><div class="n" style="left:437px;top:3455px;width:375px;height:28px;"><span>更正：权利人、利害关系人认为记载事项有误可申请更正登记</span></div><div class="n" style="left:451px;top:3517.5px;width:350px;height:27.5px;"><span>异议：权利人不同意更正，利害关系人可以申请异议登记</span></div><div class="n" style="left:499px;top:3608px;width:92px;height:28px;"><span>预购商品房</span></div><div class="n" style="left:499px;top:3643px;width:155px;height:27px;"><span>以预购商品房设定抵押</span></div><div class="n" style="left:499px;top:3675px;width:155px;height:28px;"><span>房屋所有权转让、抵押</span></div><div class="n" style="left:499px;top:3707px;width:169px;height:28px;"><span>法律、法规规定其他情形</span></div><div class="n" style="left:499px;top:3739px;width:467.5px;height:28px;"><span>预告登记后，未经预告登记权利人同意，处分该不动产，认定不发生物权效力</span></div><div class="n" style="left:499px;top:3771px;width:373px;height:28px;"><span>预告登记后债权消灭或3个月内未申请登记的，预告登记失效</span></div>
</body></html>
